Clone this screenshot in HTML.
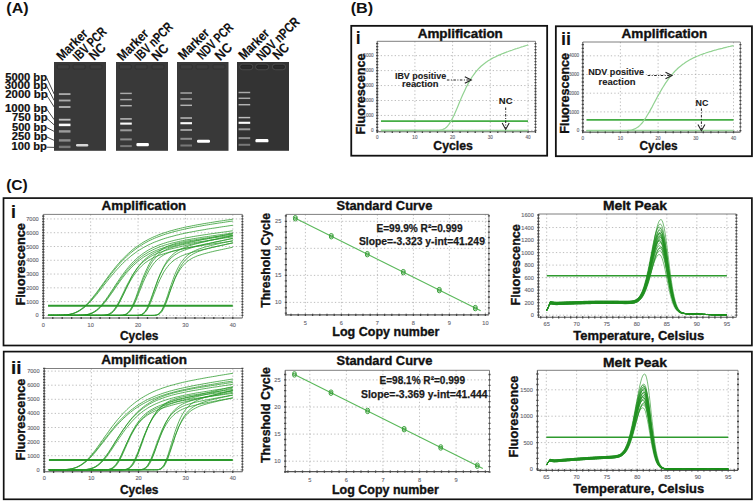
<!DOCTYPE html><html><head><meta charset="utf-8"><style>html,body{margin:0;padding:0;background:#fff;width:756px;height:502px;overflow:hidden}svg{display:block}text{font-family:"Liberation Sans",sans-serif}</style></head><body>
<svg width="756" height="502" viewBox="0 0 756 502">
<rect width="756" height="502" fill="#fff"/>
<defs><filter id="blur" x="-50%" y="-150%" width="200%" height="400%"><feGaussianBlur stdDeviation="0.6"/></filter><filter id="glow" x="-50%" y="-150%" width="200%" height="400%"><feGaussianBlur stdDeviation="1.6"/></filter></defs>
<text x="6.30" y="12.80" font-size="14.2" font-weight="bold" textLength="22.30" lengthAdjust="spacingAndGlyphs" fill="#111" >(A)</text>
<text x="350.70" y="12.80" font-size="14.2" font-weight="bold" textLength="22.53" lengthAdjust="spacingAndGlyphs" fill="#111" >(B)</text>
<text x="6.20" y="190.00" font-size="14.2" font-weight="bold" textLength="21.63" lengthAdjust="spacingAndGlyphs" fill="#111" >(C)</text>
<rect x="54.00" y="62.00" width="52.00" height="88.80" fill="#393939" stroke="none" stroke-width="0" />
<rect x="57.30" y="64.8" width="12" height="4.2" rx="1.0" fill="#3d3d3d" stroke="#2e2e2e" stroke-width="0.7"/>
<rect x="73.10" y="64.8" width="12" height="4.2" rx="1.0" fill="#3d3d3d" stroke="#2e2e2e" stroke-width="0.7"/>
<rect x="90.00" y="64.8" width="12" height="4.2" rx="1.0" fill="#3d3d3d" stroke="#2e2e2e" stroke-width="0.7"/>
<rect x="58.90" y="93.17" width="11.6" height="1.85" fill="rgb(170,170,170)" filter="url(#blur)"/>
<rect x="58.90" y="99.58" width="11.6" height="1.85" fill="rgb(170,170,170)" filter="url(#blur)"/>
<rect x="58.90" y="106.08" width="11.6" height="1.85" fill="rgb(178,178,178)" filter="url(#blur)"/>
<rect x="58.90" y="118.78" width="11.6" height="1.85" fill="rgb(190,190,190)" filter="url(#blur)"/>
<rect x="58.90" y="123.65" width="11.6" height="2.50" fill="rgb(250,250,250)" filter="url(#blur)"/>
<rect x="58.90" y="130.20" width="11.6" height="2.40" fill="rgb(155,155,155)" filter="url(#blur)"/>
<rect x="58.90" y="139.20" width="11.6" height="2.40" fill="rgb(140,140,140)" filter="url(#blur)"/>
<rect x="58.90" y="145.70" width="11.6" height="2.40" fill="rgb(120,120,120)" filter="url(#blur)"/>
<rect x="76.00" y="143.90" width="12.30" height="2.60" rx="1.2" fill="rgb(215,215,215)" filter="url(#blur)"/>
<rect x="116.00" y="62.00" width="52.00" height="88.80" fill="#393939" stroke="none" stroke-width="0" />
<rect x="119.30" y="64.8" width="12" height="4.2" rx="1.0" fill="#3d3d3d" stroke="#2e2e2e" stroke-width="0.7"/>
<rect x="135.10" y="64.8" width="12" height="4.2" rx="1.0" fill="#3d3d3d" stroke="#2e2e2e" stroke-width="0.7"/>
<rect x="152.00" y="64.8" width="12" height="4.2" rx="1.0" fill="#3d3d3d" stroke="#2e2e2e" stroke-width="0.7"/>
<rect x="120.20" y="92.68" width="11.6" height="1.45" fill="rgb(170,170,170)" filter="url(#blur)"/>
<rect x="120.20" y="98.88" width="11.6" height="1.45" fill="rgb(170,170,170)" filter="url(#blur)"/>
<rect x="120.20" y="104.98" width="11.6" height="1.45" fill="rgb(178,178,178)" filter="url(#blur)"/>
<rect x="120.20" y="118.18" width="11.6" height="1.45" fill="rgb(190,190,190)" filter="url(#blur)"/>
<rect x="120.20" y="122.55" width="11.6" height="2.10" fill="rgb(250,250,250)" filter="url(#blur)"/>
<rect x="120.20" y="129.30" width="11.6" height="2.00" fill="rgb(155,155,155)" filter="url(#blur)"/>
<rect x="120.20" y="138.40" width="11.6" height="2.00" fill="rgb(140,140,140)" filter="url(#blur)"/>
<rect x="120.20" y="145.10" width="11.6" height="2.00" fill="rgb(120,120,120)" filter="url(#blur)"/>
<rect x="136.40" y="143.00" width="12.50" height="3.20" rx="1.2" fill="rgb(255,255,255)" filter="url(#blur)"/>
<rect x="177.00" y="62.00" width="51.50" height="88.80" fill="#393939" stroke="none" stroke-width="0" />
<rect x="180.30" y="64.8" width="12" height="4.2" rx="1.0" fill="#3d3d3d" stroke="#2e2e2e" stroke-width="0.7"/>
<rect x="196.10" y="64.8" width="12" height="4.2" rx="1.0" fill="#3d3d3d" stroke="#2e2e2e" stroke-width="0.7"/>
<rect x="213.00" y="64.8" width="12" height="4.2" rx="1.0" fill="#3d3d3d" stroke="#2e2e2e" stroke-width="0.7"/>
<rect x="180.40" y="92.28" width="11.6" height="1.45" fill="rgb(170,170,170)" filter="url(#blur)"/>
<rect x="180.40" y="98.28" width="11.6" height="1.45" fill="rgb(170,170,170)" filter="url(#blur)"/>
<rect x="180.40" y="104.58" width="11.6" height="1.45" fill="rgb(178,178,178)" filter="url(#blur)"/>
<rect x="180.40" y="117.28" width="11.6" height="1.45" fill="rgb(190,190,190)" filter="url(#blur)"/>
<rect x="180.40" y="122.15" width="11.6" height="2.10" fill="rgb(250,250,250)" filter="url(#blur)"/>
<rect x="180.40" y="129.00" width="11.6" height="2.00" fill="rgb(155,155,155)" filter="url(#blur)"/>
<rect x="180.40" y="137.80" width="11.6" height="2.00" fill="rgb(140,140,140)" filter="url(#blur)"/>
<rect x="180.40" y="144.50" width="11.6" height="2.00" fill="rgb(120,120,120)" filter="url(#blur)"/>
<rect x="197.00" y="139.80" width="13.00" height="3.00" rx="1.2" fill="rgb(255,255,255)" filter="url(#blur)"/>
<rect x="237.00" y="62.00" width="52.00" height="88.80" fill="#333" stroke="none" stroke-width="0" />
<rect x="239.70" y="64.0" width="13.2" height="5.8" rx="2.9" fill="none" stroke="#474747" stroke-width="1.0"/>
<rect x="240.90" y="65.6" width="10.8" height="2.6" rx="1.3" fill="#2e2e2e" stroke="#222" stroke-width="0.8"/>
<rect x="255.50" y="64.0" width="13.2" height="5.8" rx="2.9" fill="none" stroke="#474747" stroke-width="1.0"/>
<rect x="256.70" y="65.6" width="10.8" height="2.6" rx="1.3" fill="#2e2e2e" stroke="#222" stroke-width="0.8"/>
<rect x="272.40" y="64.0" width="13.2" height="5.8" rx="2.9" fill="none" stroke="#474747" stroke-width="1.0"/>
<rect x="273.60" y="65.6" width="10.8" height="2.6" rx="1.3" fill="#2e2e2e" stroke="#222" stroke-width="0.8"/>
<rect x="238.60" y="91.78" width="11.6" height="1.45" fill="rgb(170,170,170)" filter="url(#blur)"/>
<rect x="238.60" y="97.58" width="11.6" height="1.45" fill="rgb(170,170,170)" filter="url(#blur)"/>
<rect x="238.60" y="103.98" width="11.6" height="1.45" fill="rgb(178,178,178)" filter="url(#blur)"/>
<rect x="238.60" y="116.88" width="11.6" height="1.45" fill="rgb(190,190,190)" filter="url(#blur)"/>
<rect x="238.60" y="121.75" width="11.6" height="2.10" fill="rgb(250,250,250)" filter="url(#blur)"/>
<rect x="238.60" y="128.30" width="11.6" height="2.00" fill="rgb(155,155,155)" filter="url(#blur)"/>
<rect x="238.60" y="137.10" width="11.6" height="2.00" fill="rgb(140,140,140)" filter="url(#blur)"/>
<rect x="238.60" y="143.80" width="11.6" height="2.00" fill="rgb(120,120,120)" filter="url(#blur)"/>
<rect x="255.50" y="139.05" width="12.90" height="3.30" rx="1.2" fill="rgb(255,255,255)" filter="url(#blur)"/>
<text x="5.20" y="80.90" font-size="11.0" font-weight="bold" textLength="41.80" lengthAdjust="spacingAndGlyphs" stroke="#111" stroke-width="0.2" stroke-linejoin="round" fill="#111" >5000 bp</text>
<line x1="46.60" y1="77.70" x2="54.20" y2="94.10" stroke="#333" stroke-width="0.9" />
<text x="4.70" y="89.30" font-size="11.0" font-weight="bold" textLength="42.60" lengthAdjust="spacingAndGlyphs" stroke="#111" stroke-width="0.2" stroke-linejoin="round" fill="#111" >3000 bp</text>
<line x1="46.60" y1="86.10" x2="54.20" y2="100.50" stroke="#333" stroke-width="0.9" />
<text x="5.20" y="98.30" font-size="11.0" font-weight="bold" textLength="42.60" lengthAdjust="spacingAndGlyphs" stroke="#111" stroke-width="0.2" stroke-linejoin="round" fill="#111" >2000 bp</text>
<line x1="46.60" y1="95.10" x2="54.20" y2="107.00" stroke="#333" stroke-width="0.9" />
<text x="5.00" y="112.10" font-size="11.0" font-weight="bold" textLength="42.40" lengthAdjust="spacingAndGlyphs" stroke="#111" stroke-width="0.2" stroke-linejoin="round" fill="#111" >1000 bp</text>
<line x1="46.60" y1="108.90" x2="54.20" y2="119.70" stroke="#333" stroke-width="0.9" />
<text x="12.00" y="121.40" font-size="11.0" font-weight="bold" textLength="35.60" lengthAdjust="spacingAndGlyphs" stroke="#111" stroke-width="0.2" stroke-linejoin="round" fill="#111" >750 bp</text>
<line x1="46.60" y1="118.20" x2="54.20" y2="124.90" stroke="#333" stroke-width="0.9" />
<text x="12.00" y="130.70" font-size="11.0" font-weight="bold" textLength="35.10" lengthAdjust="spacingAndGlyphs" stroke="#111" stroke-width="0.2" stroke-linejoin="round" fill="#111" >500 bp</text>
<line x1="46.60" y1="127.50" x2="54.20" y2="131.40" stroke="#333" stroke-width="0.9" />
<text x="11.80" y="140.00" font-size="11.0" font-weight="bold" textLength="35.60" lengthAdjust="spacingAndGlyphs" stroke="#111" stroke-width="0.2" stroke-linejoin="round" fill="#111" >250 bp</text>
<line x1="46.60" y1="136.80" x2="54.20" y2="140.40" stroke="#333" stroke-width="0.9" />
<text x="11.50" y="150.40" font-size="11.0" font-weight="bold" textLength="35.40" lengthAdjust="spacingAndGlyphs" stroke="#111" stroke-width="0.2" stroke-linejoin="round" fill="#111" >100 bp</text>
<line x1="46.60" y1="147.20" x2="54.20" y2="147.40" stroke="#333" stroke-width="0.9" />
<text x="61.95" y="61.30" font-size="13.5" font-weight="bold" textLength="37.77" lengthAdjust="spacingAndGlyphs" transform="rotate(-45 61.95 61.30)" stroke="#111" stroke-width="0.12" stroke-linejoin="round" fill="#111" >Marker</text>
<text x="78.35" y="61.65" font-size="13.5" font-weight="bold" textLength="41.00" lengthAdjust="spacingAndGlyphs" transform="rotate(-45 78.35 61.65)" stroke="#111" stroke-width="0.12" stroke-linejoin="round" fill="#111" >IBV PCR</text>
<text x="94.20" y="60.90" font-size="13.5" font-weight="bold" textLength="17.57" lengthAdjust="spacingAndGlyphs" transform="rotate(-45 94.20 60.90)" stroke="#111" stroke-width="0.12" stroke-linejoin="round" fill="#111" >NC</text>
<text x="122.55" y="61.50" font-size="13.5" font-weight="bold" textLength="38.08" lengthAdjust="spacingAndGlyphs" transform="rotate(-45 122.55 61.50)" stroke="#111" stroke-width="0.12" stroke-linejoin="round" fill="#111" >Marker</text>
<text x="139.95" y="61.50" font-size="13.5" font-weight="bold" textLength="47.62" lengthAdjust="spacingAndGlyphs" transform="rotate(-45 139.95 61.50)" stroke="#111" stroke-width="0.12" stroke-linejoin="round" fill="#111" >IBV nPCR</text>
<text x="156.90" y="61.85" font-size="13.5" font-weight="bold" textLength="17.79" lengthAdjust="spacingAndGlyphs" transform="rotate(-45 156.90 61.85)" stroke="#111" stroke-width="0.12" stroke-linejoin="round" fill="#111" >NC</text>
<text x="183.45" y="60.55" font-size="13.5" font-weight="bold" textLength="37.69" lengthAdjust="spacingAndGlyphs" transform="rotate(-45 183.45 60.55)" stroke="#111" stroke-width="0.12" stroke-linejoin="round" fill="#111" >Marker</text>
<text x="202.20" y="60.20" font-size="13.5" font-weight="bold" textLength="45.00" lengthAdjust="spacingAndGlyphs" transform="rotate(-45 202.20 60.20)" stroke="#111" stroke-width="0.12" stroke-linejoin="round" fill="#111" >NDV PCR</text>
<text x="220.35" y="61.15" font-size="13.5" font-weight="bold" textLength="18.14" lengthAdjust="spacingAndGlyphs" transform="rotate(-45 220.35 61.15)" stroke="#111" stroke-width="0.12" stroke-linejoin="round" fill="#111" >NC</text>
<text x="243.95" y="60.50" font-size="13.5" font-weight="bold" textLength="37.15" lengthAdjust="spacingAndGlyphs" transform="rotate(-45 243.95 60.50)" stroke="#111" stroke-width="0.12" stroke-linejoin="round" fill="#111" >Marker</text>
<text x="261.70" y="61.35" font-size="13.5" font-weight="bold" textLength="54.69" lengthAdjust="spacingAndGlyphs" transform="rotate(-45 261.70 61.35)" stroke="#111" stroke-width="0.12" stroke-linejoin="round" fill="#111" >NDV nPCR</text>
<text x="277.95" y="60.45" font-size="13.5" font-weight="bold" textLength="17.14" lengthAdjust="spacingAndGlyphs" transform="rotate(-45 277.95 60.45)" stroke="#111" stroke-width="0.12" stroke-linejoin="round" fill="#111" >NC</text>
<rect x="351.25" y="25.85" width="195.90" height="129.85" fill="none" stroke="#111" stroke-width="1.8" />
<text x="355.70" y="43.70" font-size="17.6" font-weight="bold" fill="#111" >i</text>
<text x="417.70" y="37.90" font-size="12.6" font-weight="bold" textLength="85.11" lengthAdjust="spacingAndGlyphs" stroke="#111" stroke-width="0.35" stroke-linejoin="round" fill="#111" >Amplification</text>
<line x1="414.90" y1="41.30" x2="414.90" y2="131.80" stroke="#a8a8a8" stroke-width="0.75" stroke-dasharray="1.3,2.2"/>
<line x1="452.60" y1="41.30" x2="452.60" y2="131.80" stroke="#a8a8a8" stroke-width="0.75" stroke-dasharray="1.3,2.2"/>
<line x1="490.30" y1="41.30" x2="490.30" y2="131.80" stroke="#a8a8a8" stroke-width="0.75" stroke-dasharray="1.3,2.2"/>
<line x1="528.00" y1="41.30" x2="528.00" y2="131.80" stroke="#a8a8a8" stroke-width="0.75" stroke-dasharray="1.3,2.2"/>
<line x1="377.20" y1="130.40" x2="535.50" y2="130.40" stroke="#a8a8a8" stroke-width="0.75" stroke-dasharray="1.3,2.2"/>
<line x1="377.20" y1="115.45" x2="535.50" y2="115.45" stroke="#a8a8a8" stroke-width="0.75" stroke-dasharray="1.3,2.2"/>
<line x1="377.20" y1="100.50" x2="535.50" y2="100.50" stroke="#a8a8a8" stroke-width="0.75" stroke-dasharray="1.3,2.2"/>
<line x1="377.20" y1="85.55" x2="535.50" y2="85.55" stroke="#a8a8a8" stroke-width="0.75" stroke-dasharray="1.3,2.2"/>
<line x1="377.20" y1="70.60" x2="535.50" y2="70.60" stroke="#a8a8a8" stroke-width="0.75" stroke-dasharray="1.3,2.2"/>
<line x1="377.20" y1="55.65" x2="535.50" y2="55.65" stroke="#a8a8a8" stroke-width="0.75" stroke-dasharray="1.3,2.2"/>
<line x1="377.20" y1="41.30" x2="535.50" y2="41.30" stroke="#707070" stroke-width="0.9" />
<line x1="535.50" y1="41.30" x2="535.50" y2="131.80" stroke="#707070" stroke-width="0.9" />
<line x1="377.20" y1="41.30" x2="377.20" y2="132.30" stroke="#555" stroke-width="1.1" />
<line x1="376.70" y1="131.80" x2="535.50" y2="131.80" stroke="#555" stroke-width="1.1" />
<path d="M376.1,130.4h2.2M534.5,130.4h2.0M376.1,127.4h2.2M534.5,127.4h2.0M376.1,124.4h2.2M534.5,124.4h2.0M376.1,121.4h2.2M534.5,121.4h2.0M376.1,118.4h2.2M534.5,118.4h2.0M376.1,115.5h2.2M534.5,115.5h2.0M376.1,112.5h2.2M534.5,112.5h2.0M376.1,109.5h2.2M534.5,109.5h2.0M376.1,106.5h2.2M534.5,106.5h2.0M376.1,103.5h2.2M534.5,103.5h2.0M376.1,100.5h2.2M534.5,100.5h2.0M376.1,97.5h2.2M534.5,97.5h2.0M376.1,94.5h2.2M534.5,94.5h2.0M376.1,91.5h2.2M534.5,91.5h2.0M376.1,88.5h2.2M534.5,88.5h2.0M376.1,85.6h2.2M534.5,85.6h2.0M376.1,82.6h2.2M534.5,82.6h2.0M376.1,79.6h2.2M534.5,79.6h2.0M376.1,76.6h2.2M534.5,76.6h2.0M376.1,73.6h2.2M534.5,73.6h2.0M376.1,70.6h2.2M534.5,70.6h2.0M376.1,67.6h2.2M534.5,67.6h2.0M376.1,64.6h2.2M534.5,64.6h2.0M376.1,61.6h2.2M534.5,61.6h2.0M376.1,58.6h2.2M534.5,58.6h2.0M376.1,55.7h2.2M534.5,55.7h2.0M376.1,52.7h2.2M534.5,52.7h2.0M376.1,49.7h2.2M534.5,49.7h2.0M376.1,46.7h2.2M534.5,46.7h2.0M376.1,43.7h2.2M534.5,43.7h2.0M377.2,130.7v2.2M384.7,130.7v2.2M392.3,130.7v2.2M399.8,130.7v2.2M407.4,130.7v2.2M414.9,130.7v2.2M422.4,130.7v2.2M430.0,130.7v2.2M437.5,130.7v2.2M445.1,130.7v2.2M452.6,130.7v2.2M460.1,130.7v2.2M467.7,130.7v2.2M475.2,130.7v2.2M482.8,130.7v2.2M490.3,130.7v2.2M497.8,130.7v2.2M505.4,130.7v2.2M512.9,130.7v2.2M520.5,130.7v2.2M528.0,130.7v2.2M535.5,130.7v2.2" stroke="#444" stroke-width="1.3" fill="none"/>
<text x="373.60" y="132.06" font-size="4.6" text-anchor="end" stroke="#666670" stroke-width="0.12" stroke-linejoin="round" fill="#666670" >0</text>
<text x="373.60" y="117.11" font-size="4.6" text-anchor="end" stroke="#666670" stroke-width="0.12" stroke-linejoin="round" fill="#666670" >1000</text>
<text x="373.60" y="102.16" font-size="4.6" text-anchor="end" stroke="#666670" stroke-width="0.12" stroke-linejoin="round" fill="#666670" >2000</text>
<text x="373.60" y="87.21" font-size="4.6" text-anchor="end" stroke="#666670" stroke-width="0.12" stroke-linejoin="round" fill="#666670" >3000</text>
<text x="373.60" y="72.26" font-size="4.6" text-anchor="end" stroke="#666670" stroke-width="0.12" stroke-linejoin="round" fill="#666670" >4000</text>
<text x="373.60" y="57.31" font-size="4.6" text-anchor="end" stroke="#666670" stroke-width="0.12" stroke-linejoin="round" fill="#666670" >5000</text>
<text x="377.20" y="139.40" font-size="4.6" text-anchor="middle" stroke="#666670" stroke-width="0.12" stroke-linejoin="round" fill="#666670" >0</text>
<text x="414.90" y="139.40" font-size="4.6" text-anchor="middle" stroke="#666670" stroke-width="0.12" stroke-linejoin="round" fill="#666670" >10</text>
<text x="452.60" y="139.40" font-size="4.6" text-anchor="middle" stroke="#666670" stroke-width="0.12" stroke-linejoin="round" fill="#666670" >20</text>
<text x="490.30" y="139.40" font-size="4.6" text-anchor="middle" stroke="#666670" stroke-width="0.12" stroke-linejoin="round" fill="#666670" >30</text>
<text x="528.00" y="139.40" font-size="4.6" text-anchor="middle" stroke="#666670" stroke-width="0.12" stroke-linejoin="round" fill="#666670" >40</text>
<line x1="380.97" y1="130.40" x2="528.00" y2="130.40" stroke="#9ad59a" stroke-width="1.5" />
<line x1="380.97" y1="121.10" x2="528.00" y2="121.10" stroke="#45ad45" stroke-width="1.9" />
<path d="M381.0,130.4 382.2,130.4 383.4,130.4 384.7,130.4 385.9,130.4 387.1,130.4 388.4,130.4 389.6,130.4 390.9,130.4 392.1,130.4 393.3,130.4 394.6,130.4 395.8,130.4 397.0,130.4 398.3,130.4 399.5,130.4 400.7,130.4 402.0,130.4 403.2,130.4 404.4,130.4 405.7,130.4 406.9,130.4 408.2,130.4 409.4,130.4 410.6,130.4 411.9,130.4 413.1,130.4 414.3,130.4 415.6,130.4 416.8,130.4 418.0,130.4 419.3,130.4 420.5,130.4 421.7,130.4 423.0,130.4 424.2,130.4 425.4,130.4 426.7,130.4 427.9,130.4 429.2,130.4 430.4,130.4 431.6,130.4 432.9,130.4 434.1,130.4 435.3,130.4 436.6,130.4 437.8,130.3 439.0,130.3 440.3,130.1 441.5,129.9 442.7,129.5 444.0,128.9 445.2,128.2 446.5,127.2 447.7,125.9 448.9,124.3 450.2,122.4 451.4,120.3 452.6,118.0 453.9,115.4 455.1,112.7 456.3,109.9 457.6,106.9 458.8,104.0 460.0,101.0 461.3,98.1 462.5,95.3 463.8,92.5 465.0,89.9 466.2,87.3 467.5,84.9 468.7,82.6 469.9,80.5 471.2,78.4 472.4,76.5 473.6,74.8 474.9,73.1 476.1,71.5 477.3,70.1 478.6,68.7 479.8,67.5 481.0,66.3 482.3,65.2 483.5,64.2 484.8,63.2 486.0,62.3 487.2,61.4 488.5,60.6 489.7,59.9 490.9,59.1 492.2,58.4 493.4,57.8 494.6,57.2 495.9,56.6 497.1,56.0 498.3,55.4 499.6,54.9 500.8,54.4 502.1,53.8 503.3,53.4 504.5,52.9 505.8,52.4 507.0,51.9 508.2,51.5 509.5,51.0 510.7,50.6 511.9,50.2 513.2,49.7 514.4,49.3 515.6,48.9 516.9,48.5 518.1,48.1 519.4,47.7 520.6,47.3 521.8,46.9 523.1,46.5 524.3,46.1 525.5,45.7 526.8,45.3 528.0,44.9" fill="none" stroke="#92d292" stroke-width="1.2" />
<text x="394.90" y="78.70" font-size="9.4" font-weight="bold" textLength="51.30" lengthAdjust="spacingAndGlyphs" stroke="#1a1a1a" stroke-width="0.1" stroke-linejoin="round" fill="#1a1a1a" >IBV positive</text>
<text x="402.00" y="87.40" font-size="9.4" font-weight="bold" textLength="36.60" lengthAdjust="spacingAndGlyphs" stroke="#1a1a1a" stroke-width="0.1" stroke-linejoin="round" fill="#1a1a1a" >reaction</text>
<line x1="446.90" y1="80.00" x2="469.80" y2="80.00" stroke="#222" stroke-width="1.0" stroke-dasharray="2.5,1.5,1,1.5"/>
<path d="M464.8,76.8 471.3,80.0 464.8,83.2" fill="none" stroke="#222" stroke-width="1.1" />
<text x="498.80" y="103.90" font-size="9.4" font-weight="bold" textLength="13.76" lengthAdjust="spacingAndGlyphs" stroke="#1a1a1a" stroke-width="0.1" stroke-linejoin="round" fill="#1a1a1a" >NC</text>
<line x1="505.70" y1="107.50" x2="505.70" y2="127.90" stroke="#222" stroke-width="1.0" stroke-dasharray="2.5,1.5,1,1.5"/>
<path d="M502.2,123.1 505.7,129.4 509.2,123.1" fill="none" stroke="#222" stroke-width="1.1" />
<text x="433.30" y="149.50" font-size="12.8" font-weight="bold" textLength="39.57" lengthAdjust="spacingAndGlyphs" stroke="#111" stroke-width="0.35" stroke-linejoin="round" fill="#111" >Cycles</text>
<text x="364.60" y="134.60" font-size="12.8" font-weight="bold" textLength="81.13" lengthAdjust="spacingAndGlyphs" transform="rotate(-90 364.60 134.60)" stroke="#111" stroke-width="0.35" stroke-linejoin="round" fill="#111" >Fluorescence</text>
<rect x="555.85" y="26.25" width="196.10" height="129.95" fill="none" stroke="#111" stroke-width="1.8" />
<text x="560.90" y="44.70" font-size="17.6" font-weight="bold" textLength="10.07" lengthAdjust="spacingAndGlyphs" fill="#111" >ii</text>
<text x="621.60" y="37.90" font-size="12.6" font-weight="bold" textLength="85.67" lengthAdjust="spacingAndGlyphs" stroke="#111" stroke-width="0.35" stroke-linejoin="round" fill="#111" >Amplification</text>
<line x1="620.40" y1="42.00" x2="620.40" y2="132.10" stroke="#a8a8a8" stroke-width="0.75" stroke-dasharray="1.3,2.2"/>
<line x1="658.10" y1="42.00" x2="658.10" y2="132.10" stroke="#a8a8a8" stroke-width="0.75" stroke-dasharray="1.3,2.2"/>
<line x1="695.80" y1="42.00" x2="695.80" y2="132.10" stroke="#a8a8a8" stroke-width="0.75" stroke-dasharray="1.3,2.2"/>
<line x1="733.50" y1="42.00" x2="733.50" y2="132.10" stroke="#a8a8a8" stroke-width="0.75" stroke-dasharray="1.3,2.2"/>
<line x1="582.80" y1="130.60" x2="740.40" y2="130.60" stroke="#a8a8a8" stroke-width="0.75" stroke-dasharray="1.3,2.2"/>
<line x1="582.80" y1="111.90" x2="740.40" y2="111.90" stroke="#a8a8a8" stroke-width="0.75" stroke-dasharray="1.3,2.2"/>
<line x1="582.80" y1="93.20" x2="740.40" y2="93.20" stroke="#a8a8a8" stroke-width="0.75" stroke-dasharray="1.3,2.2"/>
<line x1="582.80" y1="74.50" x2="740.40" y2="74.50" stroke="#a8a8a8" stroke-width="0.75" stroke-dasharray="1.3,2.2"/>
<line x1="582.80" y1="55.80" x2="740.40" y2="55.80" stroke="#a8a8a8" stroke-width="0.75" stroke-dasharray="1.3,2.2"/>
<line x1="582.80" y1="42.00" x2="740.40" y2="42.00" stroke="#707070" stroke-width="0.9" />
<line x1="740.40" y1="42.00" x2="740.40" y2="132.10" stroke="#707070" stroke-width="0.9" />
<line x1="582.80" y1="42.00" x2="582.80" y2="132.60" stroke="#555" stroke-width="1.1" />
<line x1="582.30" y1="132.10" x2="740.40" y2="132.10" stroke="#555" stroke-width="1.1" />
<path d="M581.7,130.6h2.2M739.4,130.6h2.0M581.7,126.9h2.2M739.4,126.9h2.0M581.7,123.1h2.2M739.4,123.1h2.0M581.7,119.4h2.2M739.4,119.4h2.0M581.7,115.6h2.2M739.4,115.6h2.0M581.7,111.9h2.2M739.4,111.9h2.0M581.7,108.2h2.2M739.4,108.2h2.0M581.7,104.4h2.2M739.4,104.4h2.0M581.7,100.7h2.2M739.4,100.7h2.0M581.7,96.9h2.2M739.4,96.9h2.0M581.7,93.2h2.2M739.4,93.2h2.0M581.7,89.5h2.2M739.4,89.5h2.0M581.7,85.7h2.2M739.4,85.7h2.0M581.7,82.0h2.2M739.4,82.0h2.0M581.7,78.2h2.2M739.4,78.2h2.0M581.7,74.5h2.2M739.4,74.5h2.0M581.7,70.8h2.2M739.4,70.8h2.0M581.7,67.0h2.2M739.4,67.0h2.0M581.7,63.3h2.2M739.4,63.3h2.0M581.7,59.5h2.2M739.4,59.5h2.0M581.7,55.8h2.2M739.4,55.8h2.0M581.7,52.1h2.2M739.4,52.1h2.0M581.7,48.3h2.2M739.4,48.3h2.0M581.7,44.6h2.2M739.4,44.6h2.0M582.7,131.0v2.2M590.2,131.0v2.2M597.8,131.0v2.2M605.3,131.0v2.2M612.9,131.0v2.2M620.4,131.0v2.2M627.9,131.0v2.2M635.5,131.0v2.2M643.0,131.0v2.2M650.6,131.0v2.2M658.1,131.0v2.2M665.6,131.0v2.2M673.2,131.0v2.2M680.7,131.0v2.2M688.3,131.0v2.2M695.8,131.0v2.2M703.3,131.0v2.2M710.9,131.0v2.2M718.4,131.0v2.2M726.0,131.0v2.2M733.5,131.0v2.2" stroke="#444" stroke-width="1.3" fill="none"/>
<text x="579.20" y="132.26" font-size="4.6" text-anchor="end" stroke="#666670" stroke-width="0.12" stroke-linejoin="round" fill="#666670" >0</text>
<text x="579.20" y="113.56" font-size="4.6" text-anchor="end" stroke="#666670" stroke-width="0.12" stroke-linejoin="round" fill="#666670" >1000</text>
<text x="579.20" y="94.86" font-size="4.6" text-anchor="end" stroke="#666670" stroke-width="0.12" stroke-linejoin="round" fill="#666670" >2000</text>
<text x="579.20" y="76.16" font-size="4.6" text-anchor="end" stroke="#666670" stroke-width="0.12" stroke-linejoin="round" fill="#666670" >3000</text>
<text x="579.20" y="57.46" font-size="4.6" text-anchor="end" stroke="#666670" stroke-width="0.12" stroke-linejoin="round" fill="#666670" >4000</text>
<text x="582.70" y="139.70" font-size="4.6" text-anchor="middle" stroke="#666670" stroke-width="0.12" stroke-linejoin="round" fill="#666670" >0</text>
<text x="620.40" y="139.70" font-size="4.6" text-anchor="middle" stroke="#666670" stroke-width="0.12" stroke-linejoin="round" fill="#666670" >10</text>
<text x="658.10" y="139.70" font-size="4.6" text-anchor="middle" stroke="#666670" stroke-width="0.12" stroke-linejoin="round" fill="#666670" >20</text>
<text x="695.80" y="139.70" font-size="4.6" text-anchor="middle" stroke="#666670" stroke-width="0.12" stroke-linejoin="round" fill="#666670" >30</text>
<text x="733.50" y="139.70" font-size="4.6" text-anchor="middle" stroke="#666670" stroke-width="0.12" stroke-linejoin="round" fill="#666670" >40</text>
<line x1="586.47" y1="130.60" x2="733.50" y2="130.60" stroke="#9ad59a" stroke-width="1.5" />
<line x1="586.47" y1="119.90" x2="733.50" y2="119.90" stroke="#45ad45" stroke-width="1.9" />
<path d="M586.5,130.6 587.7,130.6 588.9,130.6 590.2,130.6 591.4,130.6 592.6,130.6 593.9,130.6 595.1,130.6 596.4,130.6 597.6,130.6 598.8,130.6 600.1,130.6 601.3,130.6 602.5,130.6 603.8,130.6 605.0,130.6 606.2,130.6 607.5,130.6 608.7,130.6 609.9,130.6 611.2,130.6 612.4,130.6 613.7,130.6 614.9,130.6 616.1,130.6 617.4,130.6 618.6,130.6 619.8,130.6 621.1,130.6 622.3,130.6 623.5,130.6 624.8,130.6 626.0,130.5 627.2,130.5 628.5,130.4 629.7,130.3 630.9,130.1 632.2,129.8 633.4,129.4 634.7,128.9 635.9,128.3 637.1,127.6 638.4,126.7 639.6,125.6 640.8,124.4 642.1,123.0 643.3,121.4 644.5,119.7 645.8,117.8 647.0,115.8 648.2,113.8 649.5,111.6 650.7,109.4 652.0,107.1 653.2,104.8 654.4,102.5 655.7,100.1 656.9,97.8 658.1,95.6 659.4,93.4 660.6,91.2 661.8,89.1 663.1,87.0 664.3,85.1 665.5,83.2 666.8,81.3 668.0,79.6 669.3,77.9 670.5,76.4 671.7,74.8 673.0,73.4 674.2,72.0 675.4,70.7 676.7,69.5 677.9,68.3 679.1,67.2 680.4,66.2 681.6,65.2 682.8,64.3 684.1,63.4 685.3,62.5 686.5,61.7 687.8,60.9 689.0,60.2 690.3,59.5 691.5,58.9 692.7,58.2 694.0,57.6 695.2,57.1 696.4,56.5 697.7,56.0 698.9,55.5 700.1,55.0 701.4,54.5 702.6,54.1 703.8,53.6 705.1,53.2 706.3,52.8 707.6,52.4 708.8,52.0 710.0,51.6 711.3,51.3 712.5,50.9 713.7,50.5 715.0,50.2 716.2,49.9 717.4,49.5 718.7,49.2 719.9,48.9 721.1,48.6 722.4,48.3 723.6,47.9 724.9,47.6 726.1,47.3 727.3,47.0 728.6,46.7 729.8,46.5 731.0,46.2 732.3,45.9 733.5,45.6" fill="none" stroke="#92d292" stroke-width="1.2" />
<text x="588.30" y="75.30" font-size="9.4" font-weight="bold" textLength="55.69" lengthAdjust="spacingAndGlyphs" stroke="#1a1a1a" stroke-width="0.1" stroke-linejoin="round" fill="#1a1a1a" >NDV positive</text>
<text x="598.60" y="84.80" font-size="9.4" font-weight="bold" textLength="36.90" lengthAdjust="spacingAndGlyphs" stroke="#1a1a1a" stroke-width="0.1" stroke-linejoin="round" fill="#1a1a1a" >reaction</text>
<line x1="647.70" y1="75.50" x2="670.50" y2="75.50" stroke="#222" stroke-width="1.0" stroke-dasharray="2.5,1.5,1,1.5"/>
<path d="M665.5,72.3 672.0,75.5 665.5,78.7" fill="none" stroke="#222" stroke-width="1.1" />
<text x="695.50" y="105.70" font-size="9.4" font-weight="bold" textLength="12.76" lengthAdjust="spacingAndGlyphs" stroke="#1a1a1a" stroke-width="0.1" stroke-linejoin="round" fill="#1a1a1a" >NC</text>
<line x1="701.40" y1="108.40" x2="701.40" y2="129.20" stroke="#222" stroke-width="1.0" stroke-dasharray="2.5,1.5,1,1.5"/>
<path d="M697.9,124.4 701.4,130.7 704.9,124.4" fill="none" stroke="#222" stroke-width="1.1" />
<text x="639.50" y="149.50" font-size="12.8" font-weight="bold" textLength="38.21" lengthAdjust="spacingAndGlyphs" stroke="#111" stroke-width="0.35" stroke-linejoin="round" fill="#111" >Cycles</text>
<text x="568.60" y="133.70" font-size="12.8" font-weight="bold" textLength="80.67" lengthAdjust="spacingAndGlyphs" transform="rotate(-90 568.60 133.70)" stroke="#111" stroke-width="0.35" stroke-linejoin="round" fill="#111" >Fluorescence</text>
<rect x="3.50" y="198.10" width="748.40" height="147.40" fill="none" stroke="#111" stroke-width="1.7" />
<text x="11.00" y="217.70" font-size="17.6" font-weight="bold" stroke="#111" stroke-width="0.2" stroke-linejoin="round" fill="#111" >i</text>
<text x="101.60" y="209.90" font-size="12.6" font-weight="bold" textLength="84.67" lengthAdjust="spacingAndGlyphs" stroke="#111" stroke-width="0.35" stroke-linejoin="round" fill="#111" >Amplification</text>
<text x="336.60" y="209.90" font-size="12.6" font-weight="bold" textLength="95.71" lengthAdjust="spacingAndGlyphs" stroke="#111" stroke-width="0.35" stroke-linejoin="round" fill="#111" >Standard Curve</text>
<text x="603.00" y="209.90" font-size="12.6" font-weight="bold" textLength="64.00" lengthAdjust="spacingAndGlyphs" stroke="#111" stroke-width="0.35" stroke-linejoin="round" fill="#111" >Melt Peak</text>
<text x="119.90" y="339.90" font-size="12.8" font-weight="bold" textLength="38.54" lengthAdjust="spacingAndGlyphs" stroke="#111" stroke-width="0.35" stroke-linejoin="round" fill="#111" >Cycles</text>
<text x="332.30" y="336.10" font-size="12.8" font-weight="bold" textLength="107.10" lengthAdjust="spacingAndGlyphs" stroke="#111" stroke-width="0.35" stroke-linejoin="round" fill="#111" >Log Copy number</text>
<text x="573.30" y="339.80" font-size="12.8" font-weight="bold" textLength="130.80" lengthAdjust="spacingAndGlyphs" stroke="#111" stroke-width="0.35" stroke-linejoin="round" fill="#111" >Temperature, Celsius</text>
<text x="24.90" y="305.50" font-size="12.8" font-weight="bold" textLength="82.49" lengthAdjust="spacingAndGlyphs" transform="rotate(-90 24.90 305.50)" stroke="#111" stroke-width="0.35" stroke-linejoin="round" fill="#111" >Fluorescence</text>
<text x="269.60" y="307.80" font-size="12.8" font-weight="bold" textLength="94.80" lengthAdjust="spacingAndGlyphs" transform="rotate(-90 269.60 307.80)" stroke="#111" stroke-width="0.35" stroke-linejoin="round" fill="#111" >Threshold Cycle</text>
<text x="519.50" y="305.50" font-size="12.8" font-weight="bold" textLength="81.40" lengthAdjust="spacingAndGlyphs" transform="rotate(-90 519.50 305.50)" stroke="#111" stroke-width="0.35" stroke-linejoin="round" fill="#111" >Fluorescence</text>
<line x1="90.67" y1="214.40" x2="90.67" y2="318.00" stroke="#a8a8a8" stroke-width="0.75" stroke-dasharray="1.3,2.2"/>
<line x1="138.05" y1="214.40" x2="138.05" y2="318.00" stroke="#a8a8a8" stroke-width="0.75" stroke-dasharray="1.3,2.2"/>
<line x1="185.43" y1="214.40" x2="185.43" y2="318.00" stroke="#a8a8a8" stroke-width="0.75" stroke-dasharray="1.3,2.2"/>
<line x1="232.80" y1="214.40" x2="232.80" y2="318.00" stroke="#a8a8a8" stroke-width="0.75" stroke-dasharray="1.3,2.2"/>
<line x1="43.30" y1="315.40" x2="242.40" y2="315.40" stroke="#a8a8a8" stroke-width="0.75" stroke-dasharray="1.3,2.2"/>
<line x1="43.30" y1="301.62" x2="242.40" y2="301.62" stroke="#a8a8a8" stroke-width="0.75" stroke-dasharray="1.3,2.2"/>
<line x1="43.30" y1="287.84" x2="242.40" y2="287.84" stroke="#a8a8a8" stroke-width="0.75" stroke-dasharray="1.3,2.2"/>
<line x1="43.30" y1="274.06" x2="242.40" y2="274.06" stroke="#a8a8a8" stroke-width="0.75" stroke-dasharray="1.3,2.2"/>
<line x1="43.30" y1="260.28" x2="242.40" y2="260.28" stroke="#a8a8a8" stroke-width="0.75" stroke-dasharray="1.3,2.2"/>
<line x1="43.30" y1="246.50" x2="242.40" y2="246.50" stroke="#a8a8a8" stroke-width="0.75" stroke-dasharray="1.3,2.2"/>
<line x1="43.30" y1="232.72" x2="242.40" y2="232.72" stroke="#a8a8a8" stroke-width="0.75" stroke-dasharray="1.3,2.2"/>
<line x1="43.30" y1="218.94" x2="242.40" y2="218.94" stroke="#a8a8a8" stroke-width="0.75" stroke-dasharray="1.3,2.2"/>
<line x1="43.30" y1="214.40" x2="242.40" y2="214.40" stroke="#707070" stroke-width="0.9" />
<line x1="242.40" y1="214.40" x2="242.40" y2="318.00" stroke="#707070" stroke-width="0.9" />
<line x1="43.30" y1="214.40" x2="43.30" y2="318.50" stroke="#555" stroke-width="1.1" />
<line x1="42.80" y1="318.00" x2="242.40" y2="318.00" stroke="#555" stroke-width="1.1" />
<path d="M42.2,315.4h2.2M241.4,315.4h2.0M42.2,312.6h2.2M241.4,312.6h2.0M42.2,309.9h2.2M241.4,309.9h2.0M42.2,307.1h2.2M241.4,307.1h2.0M42.2,304.4h2.2M241.4,304.4h2.0M42.2,301.6h2.2M241.4,301.6h2.0M42.2,298.9h2.2M241.4,298.9h2.0M42.2,296.1h2.2M241.4,296.1h2.0M42.2,293.4h2.2M241.4,293.4h2.0M42.2,290.6h2.2M241.4,290.6h2.0M42.2,287.8h2.2M241.4,287.8h2.0M42.2,285.1h2.2M241.4,285.1h2.0M42.2,282.3h2.2M241.4,282.3h2.0M42.2,279.6h2.2M241.4,279.6h2.0M42.2,276.8h2.2M241.4,276.8h2.0M42.2,274.1h2.2M241.4,274.1h2.0M42.2,271.3h2.2M241.4,271.3h2.0M42.2,268.5h2.2M241.4,268.5h2.0M42.2,265.8h2.2M241.4,265.8h2.0M42.2,263.0h2.2M241.4,263.0h2.0M42.2,260.3h2.2M241.4,260.3h2.0M42.2,257.5h2.2M241.4,257.5h2.0M42.2,254.8h2.2M241.4,254.8h2.0M42.2,252.0h2.2M241.4,252.0h2.0M42.2,249.3h2.2M241.4,249.3h2.0M42.2,246.5h2.2M241.4,246.5h2.0M42.2,243.7h2.2M241.4,243.7h2.0M42.2,241.0h2.2M241.4,241.0h2.0M42.2,238.2h2.2M241.4,238.2h2.0M42.2,235.5h2.2M241.4,235.5h2.0M42.2,232.7h2.2M241.4,232.7h2.0M42.2,230.0h2.2M241.4,230.0h2.0M42.2,227.2h2.2M241.4,227.2h2.0M42.2,224.5h2.2M241.4,224.5h2.0M42.2,221.7h2.2M241.4,221.7h2.0M42.2,218.9h2.2M241.4,218.9h2.0M42.2,216.2h2.2M241.4,216.2h2.0M43.3,316.9v2.2M52.8,316.9v2.2M62.2,316.9v2.2M71.7,316.9v2.2M81.2,316.9v2.2M90.7,316.9v2.2M100.1,316.9v2.2M109.6,316.9v2.2M119.1,316.9v2.2M128.6,316.9v2.2M138.1,316.9v2.2M147.5,316.9v2.2M157.0,316.9v2.2M166.5,316.9v2.2M175.9,316.9v2.2M185.4,316.9v2.2M194.9,316.9v2.2M204.4,316.9v2.2M213.8,316.9v2.2M223.3,316.9v2.2M232.8,316.9v2.2" stroke="#444" stroke-width="1.3" fill="none"/>
<text x="38.70" y="317.42" font-size="5.6" text-anchor="end" stroke="#666670" stroke-width="0.12" stroke-linejoin="round" fill="#666670" >0</text>
<text x="38.70" y="303.64" font-size="5.6" text-anchor="end" stroke="#666670" stroke-width="0.12" stroke-linejoin="round" fill="#666670" >1000</text>
<text x="38.70" y="289.86" font-size="5.6" text-anchor="end" stroke="#666670" stroke-width="0.12" stroke-linejoin="round" fill="#666670" >2000</text>
<text x="38.70" y="276.08" font-size="5.6" text-anchor="end" stroke="#666670" stroke-width="0.12" stroke-linejoin="round" fill="#666670" >3000</text>
<text x="38.70" y="262.30" font-size="5.6" text-anchor="end" stroke="#666670" stroke-width="0.12" stroke-linejoin="round" fill="#666670" >4000</text>
<text x="38.70" y="248.52" font-size="5.6" text-anchor="end" stroke="#666670" stroke-width="0.12" stroke-linejoin="round" fill="#666670" >5000</text>
<text x="38.70" y="234.74" font-size="5.6" text-anchor="end" stroke="#666670" stroke-width="0.12" stroke-linejoin="round" fill="#666670" >6000</text>
<text x="38.70" y="220.96" font-size="5.6" text-anchor="end" stroke="#666670" stroke-width="0.12" stroke-linejoin="round" fill="#666670" >7000</text>
<text x="43.30" y="326.60" font-size="5.6" text-anchor="middle" stroke="#666670" stroke-width="0.12" stroke-linejoin="round" fill="#666670" >0</text>
<text x="90.67" y="326.60" font-size="5.6" text-anchor="middle" stroke="#666670" stroke-width="0.12" stroke-linejoin="round" fill="#666670" >10</text>
<text x="138.05" y="326.60" font-size="5.6" text-anchor="middle" stroke="#666670" stroke-width="0.12" stroke-linejoin="round" fill="#666670" >20</text>
<text x="185.43" y="326.60" font-size="5.6" text-anchor="middle" stroke="#666670" stroke-width="0.12" stroke-linejoin="round" fill="#666670" >30</text>
<text x="232.80" y="326.60" font-size="5.6" text-anchor="middle" stroke="#666670" stroke-width="0.12" stroke-linejoin="round" fill="#666670" >40</text>
<line x1="48.04" y1="305.75" x2="232.80" y2="305.75" stroke="#2e9a2e" stroke-width="1.9" />
<path d="M48.0,315.4 49.9,315.4 51.8,315.4 53.6,315.4 55.5,315.4 57.4,315.4 59.2,315.3 61.1,315.3 63.0,315.2 64.8,315.0 66.7,314.8 68.6,314.5 70.4,314.1 72.3,313.6 74.2,313.0 76.0,312.2 77.9,311.2 79.8,310.0 81.6,308.7 83.5,307.2 85.4,305.5 87.2,303.7 89.1,301.7 91.0,299.5 92.8,297.3 94.7,294.9 96.6,292.5 98.4,290.0 100.3,287.4 102.2,284.8 104.0,282.3 105.9,279.7 107.8,277.1 109.6,274.6 111.5,272.2 113.4,269.8 115.2,267.5 117.1,265.2 119.0,263.1 120.8,261.0 122.7,259.0 124.6,257.1 126.4,255.2 128.3,253.5 130.2,251.8 132.0,250.2 133.9,248.7 135.8,247.3 137.6,246.0 139.5,244.7 141.4,243.5 143.2,242.3 145.1,241.2 147.0,240.2 148.8,239.2 150.7,238.3 152.5,237.4 154.4,236.6 156.3,235.8 158.1,235.0 160.0,234.3 161.9,233.6 163.7,233.0 165.6,232.4 167.5,231.8 169.3,231.2 171.2,230.7 173.1,230.2 174.9,229.7 176.8,229.2 178.7,228.7 180.5,228.3 182.4,227.8 184.3,227.4 186.1,227.0 188.0,226.6 189.9,226.3 191.7,225.9 193.6,225.5 195.5,225.2 197.3,224.8 199.2,224.5 201.1,224.2 202.9,223.8 204.8,223.5 206.7,223.2 208.5,222.9 210.4,222.6 212.3,222.3 214.1,222.0 216.0,221.7 217.9,221.4 219.7,221.1 221.6,220.9 223.5,220.6 225.3,220.3 227.2,220.0 229.1,219.8 230.9,219.5 232.8,219.2" fill="none" stroke="#279827" stroke-width="0.9" stroke-opacity="0.85"/>
<path d="M48.0,315.4 49.9,315.4 51.8,315.4 53.6,315.4 55.5,315.4 57.4,315.4 59.2,315.3 61.1,315.3 63.0,315.2 64.8,315.1 66.7,314.9 68.6,314.6 70.4,314.2 72.3,313.8 74.2,313.1 76.0,312.4 77.9,311.5 79.8,310.4 81.6,309.1 83.5,307.7 85.4,306.1 87.2,304.3 89.1,302.4 91.0,300.3 92.8,298.1 94.7,295.8 96.6,293.4 98.4,291.0 100.3,288.5 102.2,286.0 104.0,283.4 105.9,280.9 107.8,278.4 109.6,276.0 111.5,273.6 113.4,271.2 115.2,268.9 117.1,266.7 119.0,264.6 120.8,262.5 122.7,260.5 124.6,258.6 126.4,256.8 128.3,255.1 130.2,253.4 132.0,251.9 133.9,250.4 135.8,249.0 137.6,247.6 139.5,246.4 141.4,245.2 143.2,244.0 145.1,242.9 147.0,241.9 148.8,240.9 150.7,240.0 152.5,239.2 154.4,238.3 156.3,237.5 158.1,236.8 160.0,236.1 161.9,235.4 163.7,234.8 165.6,234.1 167.5,233.6 169.3,233.0 171.2,232.5 173.1,231.9 174.9,231.4 176.8,231.0 178.7,230.5 180.5,230.1 182.4,229.6 184.3,229.2 186.1,228.8 188.0,228.4 189.9,228.0 191.7,227.7 193.6,227.3 195.5,227.0 197.3,226.6 199.2,226.3 201.1,226.0 202.9,225.6 204.8,225.3 206.7,225.0 208.5,224.7 210.4,224.4 212.3,224.1 214.1,223.8 216.0,223.5 217.9,223.2 219.7,222.9 221.6,222.7 223.5,222.4 225.3,222.1 227.2,221.8 229.1,221.5 230.9,221.3 232.8,221.0" fill="none" stroke="#279827" stroke-width="0.9" stroke-opacity="0.85"/>
<path d="M48.0,315.4 49.9,315.4 51.8,315.4 53.6,315.4 55.5,315.4 57.4,315.4 59.2,315.3 61.1,315.3 63.0,315.2 64.8,315.1 66.7,314.9 68.6,314.6 70.4,314.3 72.3,313.8 74.2,313.3 76.0,312.5 77.9,311.7 79.8,310.6 81.6,309.4 83.5,308.1 85.4,306.6 87.2,304.9 89.1,303.0 91.0,301.1 92.8,299.0 94.7,296.8 96.6,294.6 98.4,292.3 100.3,289.9 102.2,287.5 104.0,285.1 105.9,282.8 107.8,280.4 109.6,278.1 111.5,275.8 113.4,273.6 115.2,271.4 117.1,269.3 119.0,267.3 120.8,265.3 122.7,263.4 124.6,261.6 126.4,259.9 128.3,258.3 130.2,256.7 132.0,255.2 133.9,253.8 135.8,252.4 137.6,251.1 139.5,249.9 141.4,248.8 143.2,247.7 145.1,246.7 147.0,245.7 148.8,244.7 150.7,243.9 152.5,243.0 154.4,242.2 156.3,241.5 158.1,240.8 160.0,240.1 161.9,239.4 163.7,238.8 165.6,238.2 167.5,237.6 169.3,237.1 171.2,236.6 173.1,236.1 174.9,235.6 176.8,235.1 178.7,234.7 180.5,234.2 182.4,233.8 184.3,233.4 186.1,233.0 188.0,232.6 189.9,232.2 191.7,231.9 193.6,231.5 195.5,231.2 197.3,230.8 199.2,230.5 201.1,230.2 202.9,229.9 204.8,229.6 206.7,229.2 208.5,228.9 210.4,228.6 212.3,228.3 214.1,228.1 216.0,227.8 217.9,227.5 219.7,227.2 221.6,226.9 223.5,226.6 225.3,226.4 227.2,226.1 229.1,225.8 230.9,225.5 232.8,225.3" fill="none" stroke="#279827" stroke-width="0.9" stroke-opacity="0.85"/>
<path d="M48.0,315.4 49.9,315.4 51.8,315.4 53.6,315.4 55.5,315.4 57.4,315.4 59.2,315.4 61.1,315.4 63.0,315.4 64.8,315.4 66.7,315.4 68.6,315.4 70.4,315.4 72.3,315.4 74.2,315.4 76.0,315.4 77.9,315.4 79.8,315.3 81.6,315.2 83.5,315.1 85.4,314.9 87.2,314.5 89.1,314.0 91.0,313.4 92.8,312.5 94.7,311.3 96.6,309.9 98.4,308.3 100.3,306.4 102.2,304.2 104.0,301.9 105.9,299.4 107.8,296.7 109.6,294.0 111.5,291.1 113.4,288.3 115.2,285.4 117.1,282.6 119.0,279.8 120.8,277.1 122.7,274.5 124.6,272.0 126.4,269.6 128.3,267.3 130.2,265.1 132.0,263.1 133.9,261.2 135.8,259.4 137.6,257.7 139.5,256.2 141.4,254.7 143.2,253.4 145.1,252.1 147.0,250.9 148.8,249.8 150.7,248.8 152.5,247.9 154.4,247.0 156.3,246.2 158.1,245.4 160.0,244.7 161.9,244.0 163.7,243.4 165.6,242.8 167.5,242.2 169.3,241.7 171.2,241.2 173.1,240.7 174.9,240.2 176.8,239.8 178.7,239.4 180.5,239.0 182.4,238.6 184.3,238.2 186.1,237.8 188.0,237.5 189.9,237.2 191.7,236.8 193.6,236.5 195.5,236.2 197.3,235.9 199.2,235.6 201.1,235.3 202.9,235.0 204.8,234.7 206.7,234.5 208.5,234.2 210.4,233.9 212.3,233.6 214.1,233.4 216.0,233.1 217.9,232.8 219.7,232.6 221.6,232.3 223.5,232.1 225.3,231.8 227.2,231.6 229.1,231.3 230.9,231.0 232.8,230.8" fill="none" stroke="#279827" stroke-width="0.9" stroke-opacity="0.85"/>
<path d="M48.0,315.4 49.9,315.4 51.8,315.4 53.6,315.4 55.5,315.4 57.4,315.4 59.2,315.4 61.1,315.4 63.0,315.4 64.8,315.4 66.7,315.4 68.6,315.4 70.4,315.4 72.3,315.4 74.2,315.4 76.0,315.4 77.9,315.4 79.8,315.3 81.6,315.3 83.5,315.1 85.4,314.9 87.2,314.6 89.1,314.2 91.0,313.5 92.8,312.7 94.7,311.6 96.6,310.3 98.4,308.8 100.3,307.0 102.2,304.9 104.0,302.7 105.9,300.3 107.8,297.7 109.6,295.1 111.5,292.3 113.4,289.6 115.2,286.8 117.1,284.0 119.0,281.3 120.8,278.7 122.7,276.1 124.6,273.7 126.4,271.3 128.3,269.1 130.2,267.0 132.0,265.0 133.9,263.1 135.8,261.4 137.6,259.7 139.5,258.2 141.4,256.7 143.2,255.4 145.1,254.2 147.0,253.0 148.8,251.9 150.7,250.9 152.5,250.0 154.4,249.1 156.3,248.3 158.1,247.5 160.0,246.8 161.9,246.1 163.7,245.5 165.6,244.9 167.5,244.4 169.3,243.8 171.2,243.3 173.1,242.8 174.9,242.4 176.8,242.0 178.7,241.5 180.5,241.1 182.4,240.8 184.3,240.4 186.1,240.0 188.0,239.7 189.9,239.4 191.7,239.0 193.6,238.7 195.5,238.4 197.3,238.1 199.2,237.8 201.1,237.5 202.9,237.2 204.8,236.9 206.7,236.7 208.5,236.4 210.4,236.1 212.3,235.8 214.1,235.6 216.0,235.3 217.9,235.0 219.7,234.8 221.6,234.5 223.5,234.3 225.3,234.0 227.2,233.8 229.1,233.5 230.9,233.2 232.8,233.0" fill="none" stroke="#279827" stroke-width="0.9" stroke-opacity="0.85"/>
<path d="M48.0,315.4 49.9,315.4 51.8,315.4 53.6,315.4 55.5,315.4 57.4,315.4 59.2,315.4 61.1,315.4 63.0,315.4 64.8,315.4 66.7,315.4 68.6,315.4 70.4,315.4 72.3,315.4 74.2,315.4 76.0,315.4 77.9,315.4 79.8,315.3 81.6,315.3 83.5,315.2 85.4,315.0 87.2,314.7 89.1,314.3 91.0,313.7 92.8,312.9 94.7,311.9 96.6,310.7 98.4,309.2 100.3,307.5 102.2,305.6 104.0,303.4 105.9,301.1 107.8,298.7 109.6,296.1 111.5,293.5 113.4,290.8 115.2,288.1 117.1,285.4 119.0,282.8 120.8,280.2 122.7,277.7 124.6,275.3 126.4,273.0 128.3,270.9 130.2,268.8 132.0,266.8 133.9,265.0 135.8,263.3 137.6,261.7 139.5,260.2 141.4,258.7 143.2,257.4 145.1,256.2 147.0,255.1 148.8,254.0 150.7,253.0 152.5,252.1 154.4,251.2 156.3,250.4 158.1,249.7 160.0,248.9 161.9,248.3 163.7,247.7 165.6,247.1 167.5,246.5 169.3,246.0 171.2,245.5 173.1,245.0 174.9,244.6 176.8,244.1 178.7,243.7 180.5,243.3 182.4,243.0 184.3,242.6 186.1,242.2 188.0,241.9 189.9,241.6 191.7,241.2 193.6,240.9 195.5,240.6 197.3,240.3 199.2,240.0 201.1,239.7 202.9,239.4 204.8,239.1 206.7,238.9 208.5,238.6 210.4,238.3 212.3,238.0 214.1,237.8 216.0,237.5 217.9,237.2 219.7,237.0 221.6,236.7 223.5,236.5 225.3,236.2 227.2,236.0 229.1,235.7 230.9,235.5 232.8,235.2" fill="none" stroke="#279827" stroke-width="0.9" stroke-opacity="0.85"/>
<path d="M48.0,315.4 49.9,315.4 51.8,315.4 53.6,315.4 55.5,315.4 57.4,315.4 59.2,315.4 61.1,315.4 63.0,315.4 64.8,315.4 66.7,315.4 68.6,315.4 70.4,315.4 72.3,315.4 74.2,315.4 76.0,315.4 77.9,315.4 79.8,315.4 81.6,315.4 83.5,315.4 85.4,315.4 87.2,315.4 89.1,315.4 91.0,315.4 92.8,315.4 94.7,315.4 96.6,315.4 98.4,315.4 100.3,315.4 102.2,315.4 104.0,315.3 105.9,315.0 107.8,314.5 109.6,313.7 111.5,312.3 113.4,310.4 115.2,308.0 117.1,305.0 119.0,301.6 120.8,297.9 122.7,294.0 124.6,290.1 126.4,286.2 128.3,282.6 130.2,279.1 132.0,275.8 133.9,272.9 135.8,270.2 137.6,267.7 139.5,265.6 141.4,263.6 143.2,261.9 145.1,260.3 147.0,258.9 148.8,257.7 150.7,256.6 152.5,255.5 154.4,254.6 156.3,253.8 158.1,253.0 160.0,252.3 161.9,251.7 163.7,251.1 165.6,250.5 167.5,249.9 169.3,249.4 171.2,248.9 173.1,248.4 174.9,248.0 176.8,247.5 178.7,247.1 180.5,246.7 182.4,246.2 184.3,245.8 186.1,245.4 188.0,245.0 189.9,244.6 191.7,244.2 193.6,243.8 195.5,243.4 197.3,243.0 199.2,242.6 201.1,242.2 202.9,241.9 204.8,241.5 206.7,241.1 208.5,240.7 210.4,240.3 212.3,239.9 214.1,239.6 216.0,239.2 217.9,238.8 219.7,238.4 221.6,238.0 223.5,237.7 225.3,237.3 227.2,236.9 229.1,236.5 230.9,236.1 232.8,235.8" fill="none" stroke="#279827" stroke-width="0.9" stroke-opacity="0.85"/>
<path d="M48.0,315.4 49.9,315.4 51.8,315.4 53.6,315.4 55.5,315.4 57.4,315.4 59.2,315.4 61.1,315.4 63.0,315.4 64.8,315.4 66.7,315.4 68.6,315.4 70.4,315.4 72.3,315.4 74.2,315.4 76.0,315.4 77.9,315.4 79.8,315.4 81.6,315.4 83.5,315.4 85.4,315.4 87.2,315.4 89.1,315.4 91.0,315.4 92.8,315.4 94.7,315.4 96.6,315.4 98.4,315.4 100.3,315.4 102.2,315.4 104.0,315.3 105.9,315.1 107.8,314.7 109.6,313.9 111.5,312.7 113.4,311.0 115.2,308.7 117.1,305.9 119.0,302.7 120.8,299.3 122.7,295.6 124.6,291.8 126.4,288.1 128.3,284.6 130.2,281.2 132.0,278.1 133.9,275.2 135.8,272.6 137.6,270.2 139.5,268.1 141.4,266.2 143.2,264.5 145.1,262.9 147.0,261.6 148.8,260.3 150.7,259.2 152.5,258.2 154.4,257.3 156.3,256.5 158.1,255.7 160.0,255.0 161.9,254.4 163.7,253.8 165.6,253.2 167.5,252.7 169.3,252.2 171.2,251.7 173.1,251.2 174.9,250.7 176.8,250.3 178.7,249.8 180.5,249.4 182.4,249.0 184.3,248.6 186.1,248.2 188.0,247.8 189.9,247.4 191.7,247.0 193.6,246.6 195.5,246.2 197.3,245.8 199.2,245.4 201.1,245.0 202.9,244.6 204.8,244.2 206.7,243.8 208.5,243.5 210.4,243.1 212.3,242.7 214.1,242.3 216.0,241.9 217.9,241.6 219.7,241.2 221.6,240.8 223.5,240.4 225.3,240.0 227.2,239.6 229.1,239.3 230.9,238.9 232.8,238.5" fill="none" stroke="#279827" stroke-width="0.9" stroke-opacity="0.85"/>
<path d="M48.0,315.4 49.9,315.4 51.8,315.4 53.6,315.4 55.5,315.4 57.4,315.4 59.2,315.4 61.1,315.4 63.0,315.4 64.8,315.4 66.7,315.4 68.6,315.4 70.4,315.4 72.3,315.4 74.2,315.4 76.0,315.4 77.9,315.4 79.8,315.4 81.6,315.4 83.5,315.4 85.4,315.4 87.2,315.4 89.1,315.4 91.0,315.4 92.8,315.4 94.7,315.4 96.6,315.4 98.4,315.4 100.3,315.4 102.2,315.4 104.0,315.3 105.9,315.2 107.8,314.9 109.6,314.3 111.5,313.3 113.4,311.7 115.2,309.6 117.1,306.9 119.0,303.6 120.8,300.0 122.7,296.1 124.6,292.0 126.4,287.9 128.3,283.9 130.2,280.1 132.0,276.6 133.9,273.3 135.8,270.3 137.6,267.5 139.5,265.1 141.4,262.9 143.2,260.9 145.1,259.2 147.0,257.6 148.8,256.2 150.7,254.9 152.5,253.8 154.4,252.8 156.3,251.9 158.1,251.1 160.0,250.3 161.9,249.6 163.7,248.9 165.6,248.3 167.5,247.8 169.3,247.2 171.2,246.7 173.1,246.2 174.9,245.7 176.8,245.2 178.7,244.8 180.5,244.4 182.4,243.9 184.3,243.5 186.1,243.1 188.0,242.7 189.9,242.3 191.7,241.9 193.6,241.5 195.5,241.1 197.3,240.7 199.2,240.3 201.1,239.9 202.9,239.5 204.8,239.1 206.7,238.8 208.5,238.4 210.4,238.0 212.3,237.6 214.1,237.2 216.0,236.8 217.9,236.5 219.7,236.1 221.6,235.7 223.5,235.3 225.3,234.9 227.2,234.6 229.1,234.2 230.9,233.8 232.8,233.4" fill="none" stroke="#279827" stroke-width="0.9" stroke-opacity="0.85"/>
<path d="M48.0,315.4 49.9,315.4 51.8,315.4 53.6,315.4 55.5,315.4 57.4,315.4 59.2,315.4 61.1,315.4 63.0,315.4 64.8,315.4 66.7,315.4 68.6,315.4 70.4,315.4 72.3,315.4 74.2,315.4 76.0,315.4 77.9,315.4 79.8,315.4 81.6,315.4 83.5,315.4 85.4,315.4 87.2,315.4 89.1,315.4 91.0,315.4 92.8,315.4 94.7,315.4 96.6,315.4 98.4,315.4 100.3,315.4 102.2,315.4 104.0,315.4 105.9,315.4 107.8,315.4 109.6,315.4 111.5,315.4 113.4,315.4 115.2,315.4 117.1,315.4 119.0,315.4 120.8,315.3 122.7,315.2 124.6,314.7 126.4,313.8 128.3,312.2 130.2,309.8 132.0,306.5 133.9,302.3 135.8,297.6 137.6,292.5 139.5,287.2 141.4,282.0 143.2,277.1 145.1,272.6 147.0,268.5 148.8,264.8 150.7,261.5 152.5,258.7 154.4,256.2 156.3,254.1 158.1,252.3 160.0,250.7 161.9,249.4 163.7,248.2 165.6,247.2 167.5,246.3 169.3,245.6 171.2,244.9 173.1,244.3 174.9,243.7 176.8,243.2 178.7,242.8 180.5,242.4 182.4,242.0 184.3,241.6 186.1,241.2 188.0,240.9 189.9,240.6 191.7,240.3 193.6,240.0 195.5,239.7 197.3,239.4 199.2,239.1 201.1,238.8 202.9,238.5 204.8,238.2 206.7,237.9 208.5,237.7 210.4,237.4 212.3,237.1 214.1,236.8 216.0,236.6 217.9,236.3 219.7,236.0 221.6,235.7 223.5,235.5 225.3,235.2 227.2,234.9 229.1,234.6 230.9,234.4 232.8,234.1" fill="none" stroke="#279827" stroke-width="0.9" stroke-opacity="0.85"/>
<path d="M48.0,315.4 49.9,315.4 51.8,315.4 53.6,315.4 55.5,315.4 57.4,315.4 59.2,315.4 61.1,315.4 63.0,315.4 64.8,315.4 66.7,315.4 68.6,315.4 70.4,315.4 72.3,315.4 74.2,315.4 76.0,315.4 77.9,315.4 79.8,315.4 81.6,315.4 83.5,315.4 85.4,315.4 87.2,315.4 89.1,315.4 91.0,315.4 92.8,315.4 94.7,315.4 96.6,315.4 98.4,315.4 100.3,315.4 102.2,315.4 104.0,315.4 105.9,315.4 107.8,315.4 109.6,315.4 111.5,315.4 113.4,315.4 115.2,315.4 117.1,315.4 119.0,315.4 120.8,315.4 122.7,315.2 124.6,314.9 126.4,314.1 128.3,312.7 130.2,310.6 132.0,307.5 133.9,303.7 135.8,299.2 137.6,294.4 139.5,289.4 141.4,284.4 143.2,279.6 145.1,275.1 147.0,271.1 148.8,267.4 150.7,264.2 152.5,261.4 154.4,259.0 156.3,256.9 158.1,255.1 160.0,253.5 161.9,252.2 163.7,251.0 165.6,250.0 167.5,249.1 169.3,248.3 171.2,247.7 173.1,247.0 174.9,246.5 176.8,246.0 178.7,245.5 180.5,245.1 182.4,244.7 184.3,244.4 186.1,244.0 188.0,243.7 189.9,243.3 191.7,243.0 193.6,242.7 195.5,242.4 197.3,242.1 199.2,241.8 201.1,241.5 202.9,241.3 204.8,241.0 206.7,240.7 208.5,240.4 210.4,240.1 212.3,239.9 214.1,239.6 216.0,239.3 217.9,239.0 219.7,238.8 221.6,238.5 223.5,238.2 225.3,237.9 227.2,237.7 229.1,237.4 230.9,237.1 232.8,236.9" fill="none" stroke="#279827" stroke-width="0.9" stroke-opacity="0.85"/>
<path d="M48.0,315.4 49.9,315.4 51.8,315.4 53.6,315.4 55.5,315.4 57.4,315.4 59.2,315.4 61.1,315.4 63.0,315.4 64.8,315.4 66.7,315.4 68.6,315.4 70.4,315.4 72.3,315.4 74.2,315.4 76.0,315.4 77.9,315.4 79.8,315.4 81.6,315.4 83.5,315.4 85.4,315.4 87.2,315.4 89.1,315.4 91.0,315.4 92.8,315.4 94.7,315.4 96.6,315.4 98.4,315.4 100.3,315.4 102.2,315.4 104.0,315.4 105.9,315.4 107.8,315.4 109.6,315.4 111.5,315.4 113.4,315.4 115.2,315.4 117.1,315.4 119.0,315.4 120.8,315.4 122.7,315.3 124.6,315.0 126.4,314.3 128.3,313.1 130.2,311.2 132.0,308.5 133.9,305.0 135.8,300.9 137.6,296.3 139.5,291.6 141.4,286.9 143.2,282.4 145.1,278.2 147.0,274.3 148.8,270.8 150.7,267.8 152.5,265.1 154.4,262.7 156.3,260.7 158.1,258.9 160.0,257.4 161.9,256.1 163.7,255.0 165.6,254.0 167.5,253.2 169.3,252.4 171.2,251.7 173.1,251.1 174.9,250.6 176.8,250.1 178.7,249.7 180.5,249.2 182.4,248.8 184.3,248.5 186.1,248.1 188.0,247.8 189.9,247.5 191.7,247.2 193.6,246.8 195.5,246.5 197.3,246.2 199.2,246.0 201.1,245.7 202.9,245.4 204.8,245.1 206.7,244.8 208.5,244.5 210.4,244.3 212.3,244.0 214.1,243.7 216.0,243.4 217.9,243.2 219.7,242.9 221.6,242.6 223.5,242.3 225.3,242.1 227.2,241.8 229.1,241.5 230.9,241.3 232.8,241.0" fill="none" stroke="#279827" stroke-width="0.9" stroke-opacity="0.85"/>
<path d="M48.0,315.4 49.9,315.4 51.8,315.4 53.6,315.4 55.5,315.4 57.4,315.4 59.2,315.4 61.1,315.4 63.0,315.4 64.8,315.4 66.7,315.4 68.6,315.4 70.4,315.4 72.3,315.4 74.2,315.4 76.0,315.4 77.9,315.4 79.8,315.4 81.6,315.4 83.5,315.4 85.4,315.4 87.2,315.4 89.1,315.4 91.0,315.4 92.8,315.4 94.7,315.4 96.6,315.4 98.4,315.4 100.3,315.4 102.2,315.4 104.0,315.4 105.9,315.4 107.8,315.4 109.6,315.4 111.5,315.4 113.4,315.4 115.2,315.4 117.1,315.4 119.0,315.4 120.8,315.4 122.7,315.4 124.6,315.4 126.4,315.4 128.3,315.4 130.2,315.4 132.0,315.4 133.9,315.4 135.8,315.4 137.6,315.3 139.5,315.1 141.4,314.5 143.2,313.3 145.1,311.2 147.0,308.1 148.8,304.1 150.7,299.4 152.5,294.3 154.4,289.0 156.3,283.9 158.1,279.1 160.0,274.8 161.9,270.9 163.7,267.4 165.6,264.5 167.5,261.9 169.3,259.7 171.2,257.9 173.1,256.3 174.9,254.9 176.8,253.7 178.7,252.6 180.5,251.7 182.4,250.9 184.3,250.1 186.1,249.5 188.0,248.9 189.9,248.3 191.7,247.7 193.6,247.2 195.5,246.7 197.3,246.2 199.2,245.8 201.1,245.3 202.9,244.9 204.8,244.4 206.7,244.0 208.5,243.6 210.4,243.2 212.3,242.8 214.1,242.3 216.0,241.9 217.9,241.5 219.7,241.1 221.6,240.7 223.5,240.3 225.3,239.9 227.2,239.5 229.1,239.0 230.9,238.6 232.8,238.2" fill="none" stroke="#279827" stroke-width="0.9" stroke-opacity="0.85"/>
<path d="M48.0,315.4 49.9,315.4 51.8,315.4 53.6,315.4 55.5,315.4 57.4,315.4 59.2,315.4 61.1,315.4 63.0,315.4 64.8,315.4 66.7,315.4 68.6,315.4 70.4,315.4 72.3,315.4 74.2,315.4 76.0,315.4 77.9,315.4 79.8,315.4 81.6,315.4 83.5,315.4 85.4,315.4 87.2,315.4 89.1,315.4 91.0,315.4 92.8,315.4 94.7,315.4 96.6,315.4 98.4,315.4 100.3,315.4 102.2,315.4 104.0,315.4 105.9,315.4 107.8,315.4 109.6,315.4 111.5,315.4 113.4,315.4 115.2,315.4 117.1,315.4 119.0,315.4 120.8,315.4 122.7,315.4 124.6,315.4 126.4,315.4 128.3,315.4 130.2,315.4 132.0,315.4 133.9,315.4 135.8,315.4 137.6,315.4 139.5,315.2 141.4,314.8 143.2,313.8 145.1,312.0 147.0,309.2 148.8,305.4 150.7,300.7 152.5,295.5 154.4,290.0 156.3,284.6 158.1,279.4 160.0,274.7 161.9,270.4 163.7,266.6 165.6,263.3 167.5,260.5 169.3,258.1 171.2,256.0 173.1,254.2 174.9,252.7 176.8,251.4 178.7,250.3 180.5,249.3 182.4,248.4 184.3,247.6 186.1,246.9 188.0,246.2 189.9,245.6 191.7,245.1 193.6,244.5 195.5,244.0 197.3,243.5 199.2,243.1 201.1,242.6 202.9,242.1 204.8,241.7 206.7,241.3 208.5,240.8 210.4,240.4 212.3,240.0 214.1,239.6 216.0,239.2 217.9,238.8 219.7,238.3 221.6,237.9 223.5,237.5 225.3,237.1 227.2,236.7 229.1,236.3 230.9,235.9 232.8,235.5" fill="none" stroke="#279827" stroke-width="0.9" stroke-opacity="0.85"/>
<path d="M48.0,315.4 49.9,315.4 51.8,315.4 53.6,315.4 55.5,315.4 57.4,315.4 59.2,315.4 61.1,315.4 63.0,315.4 64.8,315.4 66.7,315.4 68.6,315.4 70.4,315.4 72.3,315.4 74.2,315.4 76.0,315.4 77.9,315.4 79.8,315.4 81.6,315.4 83.5,315.4 85.4,315.4 87.2,315.4 89.1,315.4 91.0,315.4 92.8,315.4 94.7,315.4 96.6,315.4 98.4,315.4 100.3,315.4 102.2,315.4 104.0,315.4 105.9,315.4 107.8,315.4 109.6,315.4 111.5,315.4 113.4,315.4 115.2,315.4 117.1,315.4 119.0,315.4 120.8,315.4 122.7,315.4 124.6,315.4 126.4,315.4 128.3,315.4 130.2,315.4 132.0,315.4 133.9,315.4 135.8,315.4 137.6,315.4 139.5,315.2 141.4,314.9 143.2,314.0 145.1,312.4 147.0,310.0 148.8,306.6 150.7,302.5 152.5,297.9 154.4,293.0 156.3,288.2 158.1,283.6 160.0,279.4 161.9,275.6 163.7,272.2 165.6,269.3 167.5,266.7 169.3,264.5 171.2,262.6 173.1,261.0 174.9,259.6 176.8,258.4 178.7,257.4 180.5,256.4 182.4,255.6 184.3,254.9 186.1,254.2 188.0,253.6 189.9,253.0 191.7,252.4 193.6,251.9 195.5,251.4 197.3,250.9 199.2,250.5 201.1,250.0 202.9,249.6 204.8,249.1 206.7,248.7 208.5,248.3 210.4,247.9 212.3,247.4 214.1,247.0 216.0,246.6 217.9,246.2 219.7,245.8 221.6,245.4 223.5,245.0 225.3,244.6 227.2,244.1 229.1,243.7 230.9,243.3 232.8,242.9" fill="none" stroke="#279827" stroke-width="0.9" stroke-opacity="0.85"/>
<path d="M48.0,315.4 49.9,315.4 51.8,315.4 53.6,315.4 55.5,315.4 57.4,315.4 59.2,315.4 61.1,315.4 63.0,315.4 64.8,315.4 66.7,315.4 68.6,315.4 70.4,315.4 72.3,315.4 74.2,315.4 76.0,315.4 77.9,315.4 79.8,315.4 81.6,315.4 83.5,315.4 85.4,315.4 87.2,315.4 89.1,315.4 91.0,315.4 92.8,315.4 94.7,315.4 96.6,315.4 98.4,315.4 100.3,315.4 102.2,315.4 104.0,315.4 105.9,315.4 107.8,315.4 109.6,315.4 111.5,315.4 113.4,315.4 115.2,315.4 117.1,315.4 119.0,315.4 120.8,315.4 122.7,315.4 124.6,315.4 126.4,315.4 128.3,315.4 130.2,315.4 132.0,315.4 133.9,315.4 135.8,315.4 137.6,315.4 139.5,315.4 141.4,315.4 143.2,315.4 145.1,315.4 147.0,315.4 148.8,315.4 150.7,315.4 152.5,315.4 154.4,315.3 156.3,315.0 158.1,314.2 160.0,312.6 161.9,309.9 163.7,306.0 165.6,301.3 167.5,295.8 169.3,290.2 171.2,284.6 173.1,279.3 174.9,274.5 176.8,270.2 178.7,266.5 180.5,263.4 182.4,260.7 184.3,258.4 186.1,256.5 188.0,254.8 189.9,253.5 191.7,252.3 193.6,251.3 195.5,250.4 197.3,249.6 199.2,248.9 201.1,248.3 202.9,247.7 204.8,247.1 206.7,246.6 208.5,246.1 210.4,245.7 212.3,245.2 214.1,244.8 216.0,244.3 217.9,243.9 219.7,243.5 221.6,243.1 223.5,242.7 225.3,242.3 227.2,241.9 229.1,241.5 230.9,241.1 232.8,240.7" fill="none" stroke="#279827" stroke-width="0.9" stroke-opacity="0.85"/>
<path d="M48.0,315.4 49.9,315.4 51.8,315.4 53.6,315.4 55.5,315.4 57.4,315.4 59.2,315.4 61.1,315.4 63.0,315.4 64.8,315.4 66.7,315.4 68.6,315.4 70.4,315.4 72.3,315.4 74.2,315.4 76.0,315.4 77.9,315.4 79.8,315.4 81.6,315.4 83.5,315.4 85.4,315.4 87.2,315.4 89.1,315.4 91.0,315.4 92.8,315.4 94.7,315.4 96.6,315.4 98.4,315.4 100.3,315.4 102.2,315.4 104.0,315.4 105.9,315.4 107.8,315.4 109.6,315.4 111.5,315.4 113.4,315.4 115.2,315.4 117.1,315.4 119.0,315.4 120.8,315.4 122.7,315.4 124.6,315.4 126.4,315.4 128.3,315.4 130.2,315.4 132.0,315.4 133.9,315.4 135.8,315.4 137.6,315.4 139.5,315.4 141.4,315.4 143.2,315.4 145.1,315.4 147.0,315.4 148.8,315.4 150.7,315.4 152.5,315.4 154.4,315.3 156.3,315.1 158.1,314.4 160.0,313.0 161.9,310.6 163.7,307.2 165.6,303.0 167.5,298.2 169.3,293.1 171.2,288.0 173.1,283.3 174.9,278.9 176.8,275.0 178.7,271.7 180.5,268.8 182.4,266.3 184.3,264.2 186.1,262.4 188.0,260.9 189.9,259.6 191.7,258.5 193.6,257.5 195.5,256.7 197.3,255.9 199.2,255.3 201.1,254.7 202.9,254.1 204.8,253.6 206.7,253.1 208.5,252.6 210.4,252.1 212.3,251.7 214.1,251.2 216.0,250.8 217.9,250.4 219.7,250.0 221.6,249.6 223.5,249.2 225.3,248.8 227.2,248.4 229.1,248.0 230.9,247.6 232.8,247.2" fill="none" stroke="#279827" stroke-width="0.9" stroke-opacity="0.85"/>
<path d="M48.0,315.4 49.9,315.4 51.8,315.4 53.6,315.4 55.5,315.4 57.4,315.4 59.2,315.4 61.1,315.4 63.0,315.4 64.8,315.4 66.7,315.4 68.6,315.4 70.4,315.4 72.3,315.4 74.2,315.4 76.0,315.4 77.9,315.4 79.8,315.4 81.6,315.4 83.5,315.4 85.4,315.4 87.2,315.4 89.1,315.4 91.0,315.4 92.8,315.4 94.7,315.4 96.6,315.4 98.4,315.4 100.3,315.4 102.2,315.4 104.0,315.4 105.9,315.4 107.8,315.4 109.6,315.4 111.5,315.4 113.4,315.4 115.2,315.4 117.1,315.4 119.0,315.4 120.8,315.4 122.7,315.4 124.6,315.4 126.4,315.4 128.3,315.4 130.2,315.4 132.0,315.4 133.9,315.4 135.8,315.4 137.6,315.4 139.5,315.4 141.4,315.4 143.2,315.4 145.1,315.4 147.0,315.4 148.8,315.4 150.7,315.4 152.5,315.4 154.4,315.4 156.3,315.2 158.1,314.7 160.0,313.6 161.9,311.6 163.7,308.5 165.6,304.3 167.5,299.3 169.3,293.9 171.2,288.4 173.1,283.1 174.9,278.2 176.8,273.8 178.7,269.9 180.5,266.6 182.4,263.7 184.3,261.3 186.1,259.2 188.0,257.5 189.9,256.0 191.7,254.8 193.6,253.7 195.5,252.8 197.3,251.9 199.2,251.2 201.1,250.6 202.9,249.9 204.8,249.4 206.7,248.9 208.5,248.4 210.4,247.9 212.3,247.4 214.1,247.0 216.0,246.6 217.9,246.1 219.7,245.7 221.6,245.3 223.5,244.9 225.3,244.5 227.2,244.1 229.1,243.7 230.9,243.3 232.8,242.9" fill="none" stroke="#279827" stroke-width="0.9" stroke-opacity="0.85"/>
<line x1="305.40" y1="214.40" x2="305.40" y2="314.90" stroke="#a8a8a8" stroke-width="0.75" stroke-dasharray="1.3,2.2"/>
<line x1="341.40" y1="214.40" x2="341.40" y2="314.90" stroke="#a8a8a8" stroke-width="0.75" stroke-dasharray="1.3,2.2"/>
<line x1="377.40" y1="214.40" x2="377.40" y2="314.90" stroke="#a8a8a8" stroke-width="0.75" stroke-dasharray="1.3,2.2"/>
<line x1="413.40" y1="214.40" x2="413.40" y2="314.90" stroke="#a8a8a8" stroke-width="0.75" stroke-dasharray="1.3,2.2"/>
<line x1="449.40" y1="214.40" x2="449.40" y2="314.90" stroke="#a8a8a8" stroke-width="0.75" stroke-dasharray="1.3,2.2"/>
<line x1="485.40" y1="214.40" x2="485.40" y2="314.90" stroke="#a8a8a8" stroke-width="0.75" stroke-dasharray="1.3,2.2"/>
<line x1="285.90" y1="302.40" x2="488.90" y2="302.40" stroke="#a8a8a8" stroke-width="0.75" stroke-dasharray="1.3,2.2"/>
<line x1="285.90" y1="275.37" x2="488.90" y2="275.37" stroke="#a8a8a8" stroke-width="0.75" stroke-dasharray="1.3,2.2"/>
<line x1="285.90" y1="248.33" x2="488.90" y2="248.33" stroke="#a8a8a8" stroke-width="0.75" stroke-dasharray="1.3,2.2"/>
<line x1="285.90" y1="221.30" x2="488.90" y2="221.30" stroke="#a8a8a8" stroke-width="0.75" stroke-dasharray="1.3,2.2"/>
<line x1="285.90" y1="214.40" x2="488.90" y2="214.40" stroke="#707070" stroke-width="0.9" />
<line x1="488.90" y1="214.40" x2="488.90" y2="314.90" stroke="#707070" stroke-width="0.9" />
<line x1="285.90" y1="214.40" x2="285.90" y2="315.40" stroke="#555" stroke-width="1.1" />
<line x1="285.40" y1="314.90" x2="488.90" y2="314.90" stroke="#555" stroke-width="1.1" />
<path d="M284.8,313.2h2.2M487.9,313.2h2.0M284.8,307.8h2.2M487.9,307.8h2.0M284.8,302.4h2.2M487.9,302.4h2.0M284.8,297.0h2.2M487.9,297.0h2.0M284.8,291.6h2.2M487.9,291.6h2.0M284.8,286.2h2.2M487.9,286.2h2.0M284.8,280.8h2.2M487.9,280.8h2.0M284.8,275.4h2.2M487.9,275.4h2.0M284.8,270.0h2.2M487.9,270.0h2.0M284.8,264.6h2.2M487.9,264.6h2.0M284.8,259.1h2.2M487.9,259.1h2.0M284.8,253.7h2.2M487.9,253.7h2.0M284.8,248.3h2.2M487.9,248.3h2.0M284.8,242.9h2.2M487.9,242.9h2.0M284.8,237.5h2.2M487.9,237.5h2.0M284.8,232.1h2.2M487.9,232.1h2.0M284.8,226.7h2.2M487.9,226.7h2.0M284.8,221.3h2.2M487.9,221.3h2.0M284.8,215.9h2.2M487.9,215.9h2.0M291.0,313.8v2.2M298.2,313.8v2.2M305.4,313.8v2.2M312.6,313.8v2.2M319.8,313.8v2.2M327.0,313.8v2.2M334.2,313.8v2.2M341.4,313.8v2.2M348.6,313.8v2.2M355.8,313.8v2.2M363.0,313.8v2.2M370.2,313.8v2.2M377.4,313.8v2.2M384.6,313.8v2.2M391.8,313.8v2.2M399.0,313.8v2.2M406.2,313.8v2.2M413.4,313.8v2.2M420.6,313.8v2.2M427.8,313.8v2.2M435.0,313.8v2.2M442.2,313.8v2.2M449.4,313.8v2.2M456.6,313.8v2.2M463.8,313.8v2.2M471.0,313.8v2.2M478.2,313.8v2.2M485.4,313.8v2.2" stroke="#444" stroke-width="1.3" fill="none"/>
<text x="281.30" y="304.42" font-size="5.6" text-anchor="end" stroke="#666670" stroke-width="0.12" stroke-linejoin="round" fill="#666670" >10</text>
<text x="281.30" y="277.38" font-size="5.6" text-anchor="end" stroke="#666670" stroke-width="0.12" stroke-linejoin="round" fill="#666670" >15</text>
<text x="281.30" y="250.35" font-size="5.6" text-anchor="end" stroke="#666670" stroke-width="0.12" stroke-linejoin="round" fill="#666670" >20</text>
<text x="281.30" y="223.32" font-size="5.6" text-anchor="end" stroke="#666670" stroke-width="0.12" stroke-linejoin="round" fill="#666670" >25</text>
<text x="305.40" y="324.90" font-size="5.6" text-anchor="middle" stroke="#666670" stroke-width="0.12" stroke-linejoin="round" fill="#666670" >5</text>
<text x="341.40" y="324.90" font-size="5.6" text-anchor="middle" stroke="#666670" stroke-width="0.12" stroke-linejoin="round" fill="#666670" >6</text>
<text x="377.40" y="324.90" font-size="5.6" text-anchor="middle" stroke="#666670" stroke-width="0.12" stroke-linejoin="round" fill="#666670" >7</text>
<text x="413.40" y="324.90" font-size="5.6" text-anchor="middle" stroke="#666670" stroke-width="0.12" stroke-linejoin="round" fill="#666670" >8</text>
<text x="449.40" y="324.90" font-size="5.6" text-anchor="middle" stroke="#666670" stroke-width="0.12" stroke-linejoin="round" fill="#666670" >9</text>
<text x="485.40" y="324.90" font-size="5.6" text-anchor="middle" stroke="#666670" stroke-width="0.12" stroke-linejoin="round" fill="#666670" >10</text>
<line x1="295.32" y1="218.25" x2="480.72" y2="310.77" stroke="#5ab85a" stroke-width="1.1" />
<circle cx="295.32" cy="219.06" r="1.9" fill="none" stroke="#3aa03a" stroke-width="1.0"/>
<circle cx="295.32" cy="217.44" r="1.9" fill="none" stroke="#3aa03a" stroke-width="1.0"/>
<circle cx="331.32" cy="237.03" r="1.9" fill="none" stroke="#3aa03a" stroke-width="1.0"/>
<circle cx="331.32" cy="235.40" r="1.9" fill="none" stroke="#3aa03a" stroke-width="1.0"/>
<circle cx="367.32" cy="254.99" r="1.9" fill="none" stroke="#3aa03a" stroke-width="1.0"/>
<circle cx="367.32" cy="253.37" r="1.9" fill="none" stroke="#3aa03a" stroke-width="1.0"/>
<circle cx="403.32" cy="272.96" r="1.9" fill="none" stroke="#3aa03a" stroke-width="1.0"/>
<circle cx="403.32" cy="271.34" r="1.9" fill="none" stroke="#3aa03a" stroke-width="1.0"/>
<circle cx="439.32" cy="290.92" r="1.9" fill="none" stroke="#3aa03a" stroke-width="1.0"/>
<circle cx="439.32" cy="289.30" r="1.9" fill="none" stroke="#3aa03a" stroke-width="1.0"/>
<circle cx="475.32" cy="308.89" r="1.9" fill="none" stroke="#3aa03a" stroke-width="1.0"/>
<circle cx="475.32" cy="307.27" r="1.9" fill="none" stroke="#3aa03a" stroke-width="1.0"/>
<text x="376.40" y="231.50" font-size="10.6" font-weight="bold" textLength="86.18" lengthAdjust="spacingAndGlyphs" stroke="#1a1a1a" stroke-width="0.25" stroke-linejoin="round" fill="#1a1a1a" >E=99.9% R²=0.999</text>
<text x="358.90" y="245.20" font-size="10.6" font-weight="bold" textLength="126.00" lengthAdjust="spacingAndGlyphs" stroke="#1a1a1a" stroke-width="0.25" stroke-linejoin="round" fill="#1a1a1a" >Slope=-3.323 y-int=41.249</text>
<line x1="546.70" y1="214.00" x2="546.70" y2="317.30" stroke="#a8a8a8" stroke-width="0.75" stroke-dasharray="1.3,2.2"/>
<line x1="576.73" y1="214.00" x2="576.73" y2="317.30" stroke="#a8a8a8" stroke-width="0.75" stroke-dasharray="1.3,2.2"/>
<line x1="606.77" y1="214.00" x2="606.77" y2="317.30" stroke="#a8a8a8" stroke-width="0.75" stroke-dasharray="1.3,2.2"/>
<line x1="636.80" y1="214.00" x2="636.80" y2="317.30" stroke="#a8a8a8" stroke-width="0.75" stroke-dasharray="1.3,2.2"/>
<line x1="666.83" y1="214.00" x2="666.83" y2="317.30" stroke="#a8a8a8" stroke-width="0.75" stroke-dasharray="1.3,2.2"/>
<line x1="696.87" y1="214.00" x2="696.87" y2="317.30" stroke="#a8a8a8" stroke-width="0.75" stroke-dasharray="1.3,2.2"/>
<line x1="726.90" y1="214.00" x2="726.90" y2="317.30" stroke="#a8a8a8" stroke-width="0.75" stroke-dasharray="1.3,2.2"/>
<line x1="538.40" y1="315.20" x2="736.40" y2="315.20" stroke="#a8a8a8" stroke-width="0.75" stroke-dasharray="1.3,2.2"/>
<line x1="538.40" y1="302.68" x2="736.40" y2="302.68" stroke="#a8a8a8" stroke-width="0.75" stroke-dasharray="1.3,2.2"/>
<line x1="538.40" y1="290.15" x2="736.40" y2="290.15" stroke="#a8a8a8" stroke-width="0.75" stroke-dasharray="1.3,2.2"/>
<line x1="538.40" y1="277.62" x2="736.40" y2="277.62" stroke="#a8a8a8" stroke-width="0.75" stroke-dasharray="1.3,2.2"/>
<line x1="538.40" y1="265.10" x2="736.40" y2="265.10" stroke="#a8a8a8" stroke-width="0.75" stroke-dasharray="1.3,2.2"/>
<line x1="538.40" y1="252.57" x2="736.40" y2="252.57" stroke="#a8a8a8" stroke-width="0.75" stroke-dasharray="1.3,2.2"/>
<line x1="538.40" y1="240.05" x2="736.40" y2="240.05" stroke="#a8a8a8" stroke-width="0.75" stroke-dasharray="1.3,2.2"/>
<line x1="538.40" y1="227.53" x2="736.40" y2="227.53" stroke="#a8a8a8" stroke-width="0.75" stroke-dasharray="1.3,2.2"/>
<line x1="538.40" y1="214.00" x2="736.40" y2="214.00" stroke="#707070" stroke-width="0.9" />
<line x1="736.40" y1="214.00" x2="736.40" y2="317.30" stroke="#707070" stroke-width="0.9" />
<line x1="538.40" y1="214.00" x2="538.40" y2="317.80" stroke="#555" stroke-width="1.1" />
<line x1="537.90" y1="317.30" x2="736.40" y2="317.30" stroke="#555" stroke-width="1.1" />
<path d="M537.3,315.2h2.2M735.4,315.2h2.0M537.3,312.1h2.2M735.4,312.1h2.0M537.3,308.9h2.2M735.4,308.9h2.0M537.3,305.8h2.2M735.4,305.8h2.0M537.3,302.7h2.2M735.4,302.7h2.0M537.3,299.5h2.2M735.4,299.5h2.0M537.3,296.4h2.2M735.4,296.4h2.0M537.3,293.3h2.2M735.4,293.3h2.0M537.3,290.1h2.2M735.4,290.1h2.0M537.3,287.0h2.2M735.4,287.0h2.0M537.3,283.9h2.2M735.4,283.9h2.0M537.3,280.8h2.2M735.4,280.8h2.0M537.3,277.6h2.2M735.4,277.6h2.0M537.3,274.5h2.2M735.4,274.5h2.0M537.3,271.4h2.2M735.4,271.4h2.0M537.3,268.2h2.2M735.4,268.2h2.0M537.3,265.1h2.2M735.4,265.1h2.0M537.3,262.0h2.2M735.4,262.0h2.0M537.3,258.8h2.2M735.4,258.8h2.0M537.3,255.7h2.2M735.4,255.7h2.0M537.3,252.6h2.2M735.4,252.6h2.0M537.3,249.4h2.2M735.4,249.4h2.0M537.3,246.3h2.2M735.4,246.3h2.0M537.3,243.2h2.2M735.4,243.2h2.0M537.3,240.1h2.2M735.4,240.1h2.0M537.3,236.9h2.2M735.4,236.9h2.0M537.3,233.8h2.2M735.4,233.8h2.0M537.3,230.7h2.2M735.4,230.7h2.0M537.3,227.5h2.2M735.4,227.5h2.0M537.3,224.4h2.2M735.4,224.4h2.0M537.3,221.3h2.2M735.4,221.3h2.0M537.3,218.1h2.2M735.4,218.1h2.0M537.3,215.0h2.2M735.4,215.0h2.0M540.7,316.2v2.2M546.7,316.2v2.2M552.7,316.2v2.2M558.7,316.2v2.2M564.7,316.2v2.2M570.7,316.2v2.2M576.7,316.2v2.2M582.7,316.2v2.2M588.7,316.2v2.2M594.8,316.2v2.2M600.8,316.2v2.2M606.8,316.2v2.2M612.8,316.2v2.2M618.8,316.2v2.2M624.8,316.2v2.2M630.8,316.2v2.2M636.8,316.2v2.2M642.8,316.2v2.2M648.8,316.2v2.2M654.8,316.2v2.2M660.8,316.2v2.2M666.8,316.2v2.2M672.8,316.2v2.2M678.8,316.2v2.2M684.9,316.2v2.2M690.9,316.2v2.2M696.9,316.2v2.2M702.9,316.2v2.2M708.9,316.2v2.2M714.9,316.2v2.2M720.9,316.2v2.2M726.9,316.2v2.2M732.9,316.2v2.2" stroke="#444" stroke-width="1.3" fill="none"/>
<text x="533.80" y="317.22" font-size="5.6" text-anchor="end" stroke="#666670" stroke-width="0.12" stroke-linejoin="round" fill="#666670" >0</text>
<text x="533.80" y="304.69" font-size="5.6" text-anchor="end" stroke="#666670" stroke-width="0.12" stroke-linejoin="round" fill="#666670" >200</text>
<text x="533.80" y="292.17" font-size="5.6" text-anchor="end" stroke="#666670" stroke-width="0.12" stroke-linejoin="round" fill="#666670" >400</text>
<text x="533.80" y="279.64" font-size="5.6" text-anchor="end" stroke="#666670" stroke-width="0.12" stroke-linejoin="round" fill="#666670" >600</text>
<text x="533.80" y="267.12" font-size="5.6" text-anchor="end" stroke="#666670" stroke-width="0.12" stroke-linejoin="round" fill="#666670" >800</text>
<text x="533.80" y="254.59" font-size="5.6" text-anchor="end" stroke="#666670" stroke-width="0.12" stroke-linejoin="round" fill="#666670" >1000</text>
<text x="533.80" y="242.07" font-size="5.6" text-anchor="end" stroke="#666670" stroke-width="0.12" stroke-linejoin="round" fill="#666670" >1200</text>
<text x="533.80" y="229.54" font-size="5.6" text-anchor="end" stroke="#666670" stroke-width="0.12" stroke-linejoin="round" fill="#666670" >1400</text>
<text x="533.80" y="217.02" font-size="5.6" text-anchor="end" stroke="#666670" stroke-width="0.12" stroke-linejoin="round" fill="#666670" >1600</text>
<text x="546.70" y="325.90" font-size="5.6" text-anchor="middle" stroke="#666670" stroke-width="0.12" stroke-linejoin="round" fill="#666670" >65</text>
<text x="576.73" y="325.90" font-size="5.6" text-anchor="middle" stroke="#666670" stroke-width="0.12" stroke-linejoin="round" fill="#666670" >70</text>
<text x="606.77" y="325.90" font-size="5.6" text-anchor="middle" stroke="#666670" stroke-width="0.12" stroke-linejoin="round" fill="#666670" >75</text>
<text x="636.80" y="325.90" font-size="5.6" text-anchor="middle" stroke="#666670" stroke-width="0.12" stroke-linejoin="round" fill="#666670" >80</text>
<text x="666.83" y="325.90" font-size="5.6" text-anchor="middle" stroke="#666670" stroke-width="0.12" stroke-linejoin="round" fill="#666670" >85</text>
<text x="696.87" y="325.90" font-size="5.6" text-anchor="middle" stroke="#666670" stroke-width="0.12" stroke-linejoin="round" fill="#666670" >90</text>
<text x="726.90" y="325.90" font-size="5.6" text-anchor="middle" stroke="#666670" stroke-width="0.12" stroke-linejoin="round" fill="#666670" >95</text>
<line x1="546.70" y1="275.75" x2="726.90" y2="275.75" stroke="#2e9a2e" stroke-width="1.6" />
<path d="M546.7,310.5 548.5,306.6 550.3,303.8 552.1,304.1 554.5,304.5 556.3,304.6 557.3,304.6 558.2,304.5 559.2,304.5 560.1,304.4 561.1,304.4 562.0,304.4 563.0,304.3 563.9,304.3 564.9,304.3 565.8,304.2 566.8,304.2 567.7,304.2 568.7,304.1 569.7,304.1 570.6,304.1 571.6,304.0 572.5,304.0 573.5,304.0 574.4,303.9 575.4,303.9 576.3,303.9 577.3,303.9 578.2,303.8 579.2,303.8 580.1,303.8 581.1,303.8 582.0,303.7 583.0,303.7 583.9,303.7 584.9,303.7 585.9,303.6 586.8,303.6 587.8,303.6 588.7,303.6 589.7,303.6 590.6,303.6 591.6,303.5 592.5,303.5 593.5,303.5 594.4,303.5 595.4,303.5 596.3,303.5 597.3,303.5 598.2,303.5 599.2,303.5 600.1,303.5 601.1,303.4 602.1,303.4 603.0,303.4 604.0,303.4 604.9,303.4 605.9,303.4 606.8,303.4 607.8,303.4 608.7,303.4 609.7,303.4 610.6,303.4 611.6,303.4 612.5,303.5 613.5,303.5 614.4,303.5 615.4,303.5 616.4,303.5 617.3,303.5 618.3,303.5 619.2,303.5 620.2,303.5 621.1,303.5 622.1,303.5 623.0,303.5 624.0,303.5 624.9,303.6 625.9,303.6 626.8,303.5 627.8,303.5 628.7,303.5 629.7,303.5 630.6,303.4 631.6,303.3 632.6,303.2 633.5,303.0 634.5,302.8 635.4,302.5 636.4,302.1 637.3,301.6 638.3,301.0 639.2,300.2 640.2,299.2 641.1,298.0 642.1,296.7 643.0,295.0 644.0,293.1 644.9,291.0 645.9,288.6 646.8,286.0 647.8,283.1 648.8,280.1 649.7,276.9 650.7,273.6 651.6,270.4 652.6,267.2 653.5,264.2 654.5,261.4 655.4,259.1 656.4,257.1 657.3,255.7 658.3,254.8 659.2,254.6 660.2,254.9 661.1,256.1 662.1,258.3 663.0,261.3 664.0,265.0 665.0,269.3 665.9,273.9 666.9,278.7 667.8,283.4 668.8,288.0 669.7,292.3 670.7,296.2 671.6,299.6 672.6,302.6 673.5,305.0 674.5,307.1 675.4,308.7 676.4,310.0 677.3,311.0 678.3,311.8 679.2,312.4 680.2,312.8 681.2,313.1 682.1,313.3 683.1,313.5 684.0,313.6 685.0,313.7 685.9,313.7 686.9,313.8 687.8,313.8 688.8,313.9 689.7,313.9 690.7,314.0 691.6,314.0 692.6,314.0 693.5,314.1 694.5,314.1 695.5,314.1 696.4,314.2 697.4,314.2 698.3,314.2 699.3,314.3 700.2,314.3 701.2,314.3 702.1,314.4 703.1,314.4 704.0,314.4 705.0,314.4 705.9,314.5 706.9,314.5 707.8,314.5 708.8,314.6 709.7,314.6 710.7,314.6 711.7,314.7 712.6,314.7 713.6,314.7 714.5,314.8 715.5,314.8 716.4,314.8 717.4,314.9 718.3,314.9 719.3,314.9 720.2,315.0 721.2,315.0 722.1,315.0 723.1,315.1 724.0,315.1 725.0,315.1 725.9,315.2 726.9,315.2" fill="none" stroke="#1f8f1f" stroke-width="0.75" stroke-opacity="0.8"/>
<path d="M546.7,310.5 548.5,306.6 550.3,302.3 552.1,302.6 554.5,303.0 556.3,303.1 557.3,303.1 558.2,303.0 559.2,303.0 560.1,302.9 561.1,302.9 562.0,302.9 563.0,302.8 563.9,302.8 564.9,302.8 565.8,302.7 566.8,302.7 567.7,302.7 568.7,302.6 569.7,302.6 570.6,302.6 571.6,302.5 572.5,302.5 573.5,302.5 574.4,302.4 575.4,302.4 576.3,302.4 577.3,302.4 578.2,302.3 579.2,302.3 580.1,302.3 581.1,302.3 582.0,302.2 583.0,302.2 583.9,302.2 584.9,302.2 585.9,302.1 586.8,302.1 587.8,302.1 588.7,302.1 589.7,302.1 590.6,302.1 591.6,302.0 592.5,302.0 593.5,302.0 594.4,302.0 595.4,302.0 596.3,302.0 597.3,302.0 598.2,302.0 599.2,302.0 600.1,302.0 601.1,301.9 602.1,301.9 603.0,301.9 604.0,301.9 604.9,301.9 605.9,301.9 606.8,301.9 607.8,301.9 608.7,301.9 609.7,301.9 610.6,301.9 611.6,301.9 612.5,302.0 613.5,302.0 614.4,302.0 615.4,302.0 616.4,302.0 617.3,302.0 618.3,302.0 619.2,302.0 620.2,302.0 621.1,302.0 622.1,302.0 623.0,302.0 624.0,302.1 624.9,302.1 625.9,302.1 626.8,302.1 627.8,302.1 628.7,302.0 629.7,302.0 630.6,302.0 631.6,301.9 632.6,301.8 633.5,301.6 634.5,301.5 635.4,301.2 636.4,300.8 637.3,300.4 638.3,299.8 639.2,299.1 640.2,298.3 641.1,297.2 642.1,295.9 643.0,294.4 644.0,292.6 644.9,290.5 645.9,288.2 646.8,285.6 647.8,282.8 648.8,279.7 649.7,276.5 650.7,273.1 651.6,269.6 652.6,266.2 653.5,262.9 654.5,259.9 655.4,257.1 656.4,254.7 657.3,252.8 658.3,251.5 659.2,250.8 660.2,250.8 661.1,251.4 662.1,253.0 663.0,255.6 664.0,259.0 665.0,263.2 665.9,267.8 666.9,272.8 667.8,277.9 668.8,282.9 669.7,287.7 670.7,292.1 671.6,296.1 672.6,299.6 673.5,302.6 674.5,305.1 675.4,307.2 676.4,308.8 677.3,310.1 678.3,311.1 679.2,311.9 680.2,312.4 681.2,312.8 682.1,313.1 683.1,313.3 684.0,313.5 685.0,313.6 685.9,313.7 686.9,313.8 687.8,313.8 688.8,313.9 689.7,313.9 690.7,313.9 691.6,314.0 692.6,314.0 693.5,314.0 694.5,314.1 695.5,314.1 696.4,314.1 697.4,314.2 698.3,314.2 699.3,314.2 700.2,314.3 701.2,314.3 702.1,314.3 703.1,314.4 704.0,314.4 705.0,314.4 705.9,314.5 706.9,314.5 707.8,314.5 708.8,314.6 709.7,314.6 710.7,314.6 711.7,314.7 712.6,314.7 713.6,314.7 714.5,314.8 715.5,314.8 716.4,314.8 717.4,314.9 718.3,314.9 719.3,314.9 720.2,315.0 721.2,315.0 722.1,315.0 723.1,315.1 724.0,315.1 725.0,315.1 725.9,315.2 726.9,315.2" fill="none" stroke="#1f8f1f" stroke-width="0.75" stroke-opacity="0.8"/>
<path d="M546.7,310.5 548.5,306.6 550.3,303.4 552.1,303.7 554.5,304.1 556.3,304.2 557.3,304.2 558.2,304.1 559.2,304.1 560.1,304.1 561.1,304.0 562.0,304.0 563.0,304.0 563.9,303.9 564.9,303.9 565.8,303.9 566.8,303.8 567.7,303.8 568.7,303.8 569.7,303.7 570.6,303.7 571.6,303.7 572.5,303.6 573.5,303.6 574.4,303.6 575.4,303.5 576.3,303.5 577.3,303.5 578.2,303.5 579.2,303.4 580.1,303.4 581.1,303.4 582.0,303.4 583.0,303.3 583.9,303.3 584.9,303.3 585.9,303.3 586.8,303.3 587.8,303.2 588.7,303.2 589.7,303.2 590.6,303.2 591.6,303.2 592.5,303.2 593.5,303.1 594.4,303.1 595.4,303.1 596.3,303.1 597.3,303.1 598.2,303.1 599.2,303.1 600.1,303.1 601.1,303.1 602.1,303.1 603.0,303.1 604.0,303.1 604.9,303.1 605.9,303.1 606.8,303.1 607.8,303.1 608.7,303.1 609.7,303.1 610.6,303.1 611.6,303.1 612.5,303.1 613.5,303.1 614.4,303.1 615.4,303.1 616.4,303.1 617.3,303.1 618.3,303.1 619.2,303.1 620.2,303.2 621.1,303.2 622.1,303.2 623.0,303.2 624.0,303.2 624.9,303.2 625.9,303.2 626.8,303.2 627.8,303.2 628.7,303.2 629.7,303.2 630.6,303.1 631.6,303.1 632.6,303.0 633.5,302.9 634.5,302.7 635.4,302.5 636.4,302.2 637.3,301.8 638.3,301.3 639.2,300.6 640.2,299.8 641.1,298.8 642.1,297.6 643.0,296.2 644.0,294.5 644.9,292.5 645.9,290.2 646.8,287.6 647.8,284.7 648.8,281.6 649.7,278.2 650.7,274.7 651.6,271.0 652.6,267.2 653.5,263.5 654.5,260.0 655.4,256.7 656.4,253.7 657.3,251.2 658.3,249.2 659.2,247.9 660.2,247.2 661.1,247.2 662.1,247.9 663.0,249.8 664.0,252.6 665.0,256.4 665.9,261.0 666.9,266.0 667.8,271.3 668.8,276.7 669.7,282.0 670.7,287.0 671.6,291.7 672.6,295.8 673.5,299.5 674.5,302.5 675.4,305.1 676.4,307.2 677.3,308.9 678.3,310.2 679.2,311.2 680.2,311.9 681.2,312.5 682.1,312.9 683.1,313.2 684.0,313.4 685.0,313.5 685.9,313.6 686.9,313.7 687.8,313.8 688.8,313.8 689.7,313.9 690.7,313.9 691.6,314.0 692.6,314.0 693.5,314.0 694.5,314.1 695.5,314.1 696.4,314.1 697.4,314.2 698.3,314.2 699.3,314.2 700.2,314.3 701.2,314.3 702.1,314.3 703.1,314.4 704.0,314.4 705.0,314.4 705.9,314.5 706.9,314.5 707.8,314.5 708.8,314.6 709.7,314.6 710.7,314.6 711.7,314.7 712.6,314.7 713.6,314.7 714.5,314.8 715.5,314.8 716.4,314.8 717.4,314.9 718.3,314.9 719.3,314.9 720.2,315.0 721.2,315.0 722.1,315.0 723.1,315.1 724.0,315.1 725.0,315.1 725.9,315.2 726.9,315.2" fill="none" stroke="#1f8f1f" stroke-width="0.75" stroke-opacity="0.8"/>
<path d="M546.7,310.5 548.5,306.6 550.3,301.9 552.1,302.2 554.5,302.6 556.3,302.7 557.3,302.7 558.2,302.6 559.2,302.6 560.1,302.6 561.1,302.5 562.0,302.5 563.0,302.5 563.9,302.4 564.9,302.4 565.8,302.4 566.8,302.3 567.7,302.3 568.7,302.3 569.7,302.2 570.6,302.2 571.6,302.2 572.5,302.1 573.5,302.1 574.4,302.1 575.4,302.0 576.3,302.0 577.3,302.0 578.2,302.0 579.2,301.9 580.1,301.9 581.1,301.9 582.0,301.9 583.0,301.8 583.9,301.8 584.9,301.8 585.9,301.8 586.8,301.7 587.8,301.7 588.7,301.7 589.7,301.7 590.6,301.7 591.6,301.7 592.5,301.7 593.5,301.6 594.4,301.6 595.4,301.6 596.3,301.6 597.3,301.6 598.2,301.6 599.2,301.6 600.1,301.6 601.1,301.6 602.1,301.6 603.0,301.6 604.0,301.6 604.9,301.6 605.9,301.6 606.8,301.6 607.8,301.6 608.7,301.6 609.7,301.6 610.6,301.6 611.6,301.6 612.5,301.6 613.5,301.6 614.4,301.6 615.4,301.6 616.4,301.6 617.3,301.6 618.3,301.6 619.2,301.6 620.2,301.6 621.1,301.6 622.1,301.7 623.0,301.7 624.0,301.7 624.9,301.7 625.9,301.7 626.8,301.7 627.8,301.7 628.7,301.6 629.7,301.6 630.6,301.5 631.6,301.4 632.6,301.3 633.5,301.1 634.5,300.9 635.4,300.6 636.4,300.2 637.3,299.6 638.3,299.0 639.2,298.1 640.2,297.1 641.1,295.9 642.1,294.4 643.0,292.6 644.0,290.6 644.9,288.2 645.9,285.6 646.8,282.7 647.8,279.5 648.8,276.1 649.7,272.5 650.7,268.8 651.6,265.0 652.6,261.3 653.5,257.8 654.5,254.6 655.4,251.7 656.4,249.3 657.3,247.5 658.3,246.3 659.2,245.7 660.2,245.9 661.1,246.9 662.1,249.0 663.0,252.2 664.0,256.2 665.0,260.9 665.9,266.1 666.9,271.5 667.8,277.0 668.8,282.3 669.7,287.4 670.7,292.0 671.6,296.1 672.6,299.7 673.5,302.8 674.5,305.3 675.4,307.4 676.4,309.0 677.3,310.3 678.3,311.2 679.2,312.0 680.2,312.5 681.2,312.9 682.1,313.2 683.1,313.4 684.0,313.5 685.0,313.6 685.9,313.7 686.9,313.8 687.8,313.8 688.8,313.9 689.7,313.9 690.7,313.9 691.6,314.0 692.6,314.0 693.5,314.0 694.5,314.1 695.5,314.1 696.4,314.1 697.4,314.2 698.3,314.2 699.3,314.2 700.2,314.3 701.2,314.3 702.1,314.3 703.1,314.4 704.0,314.4 705.0,314.4 705.9,314.5 706.9,314.5 707.8,314.5 708.8,314.6 709.7,314.6 710.7,314.6 711.7,314.7 712.6,314.7 713.6,314.7 714.5,314.8 715.5,314.8 716.4,314.8 717.4,314.9 718.3,314.9 719.3,314.9 720.2,315.0 721.2,315.0 722.1,315.0 723.1,315.1 724.0,315.1 725.0,315.1 725.9,315.2 726.9,315.2" fill="none" stroke="#1f8f1f" stroke-width="0.75" stroke-opacity="0.8"/>
<path d="M546.7,310.5 548.5,306.6 550.3,303.1 552.1,303.3 554.5,303.7 556.3,303.8 557.3,303.8 558.2,303.8 559.2,303.7 560.1,303.7 561.1,303.7 562.0,303.6 563.0,303.6 563.9,303.6 564.9,303.5 565.8,303.5 566.8,303.4 567.7,303.4 568.7,303.4 569.7,303.3 570.6,303.3 571.6,303.3 572.5,303.3 573.5,303.2 574.4,303.2 575.4,303.2 576.3,303.1 577.3,303.1 578.2,303.1 579.2,303.1 580.1,303.0 581.1,303.0 582.0,303.0 583.0,303.0 583.9,302.9 584.9,302.9 585.9,302.9 586.8,302.9 587.8,302.9 588.7,302.8 589.7,302.8 590.6,302.8 591.6,302.8 592.5,302.8 593.5,302.8 594.4,302.8 595.4,302.7 596.3,302.7 597.3,302.7 598.2,302.7 599.2,302.7 600.1,302.7 601.1,302.7 602.1,302.7 603.0,302.7 604.0,302.7 604.9,302.7 605.9,302.7 606.8,302.7 607.8,302.7 608.7,302.7 609.7,302.7 610.6,302.7 611.6,302.7 612.5,302.7 613.5,302.7 614.4,302.7 615.4,302.7 616.4,302.7 617.3,302.7 618.3,302.8 619.2,302.8 620.2,302.8 621.1,302.8 622.1,302.8 623.0,302.8 624.0,302.8 624.9,302.8 625.9,302.8 626.8,302.8 627.8,302.8 628.7,302.8 629.7,302.8 630.6,302.7 631.6,302.6 632.6,302.5 633.5,302.4 634.5,302.2 635.4,301.9 636.4,301.6 637.3,301.1 638.3,300.5 639.2,299.7 640.2,298.8 641.1,297.7 642.1,296.3 643.0,294.6 644.0,292.7 644.9,290.4 645.9,287.9 646.8,285.0 647.8,281.8 648.8,278.4 649.7,274.7 650.7,270.8 651.6,266.8 652.6,262.8 653.5,258.9 654.5,255.2 655.4,251.8 656.4,248.8 657.3,246.3 658.3,244.4 659.2,243.2 660.2,242.7 661.1,242.9 662.1,244.2 663.0,246.5 664.0,250.0 665.0,254.4 665.9,259.4 666.9,264.9 667.8,270.7 668.8,276.4 669.7,282.0 670.7,287.2 671.6,291.9 672.6,296.2 673.5,299.8 674.5,302.9 675.4,305.5 676.4,307.5 677.3,309.1 678.3,310.4 679.2,311.3 680.2,312.0 681.2,312.6 682.1,312.9 683.1,313.2 684.0,313.4 685.0,313.5 685.9,313.6 686.9,313.7 687.8,313.8 688.8,313.8 689.7,313.9 690.7,313.9 691.6,314.0 692.6,314.0 693.5,314.0 694.5,314.1 695.5,314.1 696.4,314.1 697.4,314.2 698.3,314.2 699.3,314.2 700.2,314.3 701.2,314.3 702.1,314.3 703.1,314.4 704.0,314.4 705.0,314.4 705.9,314.5 706.9,314.5 707.8,314.5 708.8,314.6 709.7,314.6 710.7,314.6 711.7,314.7 712.6,314.7 713.6,314.7 714.5,314.8 715.5,314.8 716.4,314.8 717.4,314.9 718.3,314.9 719.3,314.9 720.2,315.0 721.2,315.0 722.1,315.0 723.1,315.1 724.0,315.1 725.0,315.1 725.9,315.2 726.9,315.2" fill="none" stroke="#1f8f1f" stroke-width="0.75" stroke-opacity="0.8"/>
<path d="M546.7,310.5 548.5,306.6 550.3,301.5 552.1,301.8 554.5,302.2 556.3,302.3 557.3,302.3 558.2,302.3 559.2,302.2 560.1,302.2 561.1,302.2 562.0,302.1 563.0,302.1 563.9,302.1 564.9,302.0 565.8,302.0 566.8,301.9 567.7,301.9 568.7,301.9 569.7,301.8 570.6,301.8 571.6,301.8 572.5,301.7 573.5,301.7 574.4,301.7 575.4,301.7 576.3,301.6 577.3,301.6 578.2,301.6 579.2,301.6 580.1,301.5 581.1,301.5 582.0,301.5 583.0,301.5 583.9,301.4 584.9,301.4 585.9,301.4 586.8,301.4 587.8,301.4 588.7,301.3 589.7,301.3 590.6,301.3 591.6,301.3 592.5,301.3 593.5,301.3 594.4,301.2 595.4,301.2 596.3,301.2 597.3,301.2 598.2,301.2 599.2,301.2 600.1,301.2 601.1,301.2 602.1,301.2 603.0,301.2 604.0,301.2 604.9,301.2 605.9,301.2 606.8,301.2 607.8,301.2 608.7,301.2 609.7,301.2 610.6,301.2 611.6,301.2 612.5,301.2 613.5,301.2 614.4,301.2 615.4,301.2 616.4,301.2 617.3,301.2 618.3,301.2 619.2,301.3 620.2,301.3 621.1,301.3 622.1,301.3 623.0,301.3 624.0,301.3 624.9,301.3 625.9,301.3 626.8,301.3 627.8,301.3 628.7,301.2 629.7,301.2 630.6,301.1 631.6,301.0 632.6,300.8 633.5,300.6 634.5,300.3 635.4,299.9 636.4,299.5 637.3,298.8 638.3,298.0 639.2,297.1 640.2,295.9 641.1,294.4 642.1,292.7 643.0,290.7 644.0,288.4 644.9,285.7 645.9,282.8 646.8,279.5 647.8,275.9 648.8,272.2 649.7,268.2 650.7,264.2 651.6,260.2 652.6,256.3 653.5,252.5 654.5,249.2 655.4,246.2 656.4,243.8 657.3,242.1 658.3,241.0 659.2,240.7 660.2,241.2 661.1,242.7 662.1,245.3 663.0,249.1 664.0,253.7 665.0,259.0 665.9,264.7 666.9,270.6 667.8,276.4 668.8,282.1 669.7,287.3 670.7,292.1 671.6,296.4 672.6,300.0 673.5,303.1 674.5,305.6 675.4,307.6 676.4,309.2 677.3,310.5 678.3,311.4 679.2,312.1 680.2,312.6 681.2,313.0 682.1,313.2 683.1,313.4 684.0,313.5 685.0,313.6 685.9,313.7 686.9,313.8 687.8,313.8 688.8,313.9 689.7,313.9 690.7,314.0 691.6,314.0 692.6,314.0 693.5,314.1 694.5,314.1 695.5,314.1 696.4,314.2 697.4,314.2 698.3,314.2 699.3,314.3 700.2,314.3 701.2,314.3 702.1,314.4 703.1,314.4 704.0,314.4 705.0,314.4 705.9,314.5 706.9,314.5 707.8,314.5 708.8,314.6 709.7,314.6 710.7,314.6 711.7,314.7 712.6,314.7 713.6,314.7 714.5,314.8 715.5,314.8 716.4,314.8 717.4,314.9 718.3,314.9 719.3,314.9 720.2,315.0 721.2,315.0 722.1,315.0 723.1,315.1 724.0,315.1 725.0,315.1 725.9,315.2 726.9,315.2" fill="none" stroke="#1f8f1f" stroke-width="0.75" stroke-opacity="0.8"/>
<path d="M546.7,310.5 548.5,306.6 550.3,302.7 552.1,303.0 554.5,303.3 556.3,303.5 557.3,303.4 558.2,303.4 559.2,303.4 560.1,303.3 561.1,303.3 562.0,303.2 563.0,303.2 563.9,303.2 564.9,303.1 565.8,303.1 566.8,303.1 567.7,303.0 568.7,303.0 569.7,303.0 570.6,302.9 571.6,302.9 572.5,302.9 573.5,302.8 574.4,302.8 575.4,302.8 576.3,302.8 577.3,302.7 578.2,302.7 579.2,302.7 580.1,302.7 581.1,302.6 582.0,302.6 583.0,302.6 583.9,302.6 584.9,302.5 585.9,302.5 586.8,302.5 587.8,302.5 588.7,302.5 589.7,302.4 590.6,302.4 591.6,302.4 592.5,302.4 593.5,302.4 594.4,302.4 595.4,302.4 596.3,302.4 597.3,302.3 598.2,302.3 599.2,302.3 600.1,302.3 601.1,302.3 602.1,302.3 603.0,302.3 604.0,302.3 604.9,302.3 605.9,302.3 606.8,302.3 607.8,302.3 608.7,302.3 609.7,302.3 610.6,302.3 611.6,302.3 612.5,302.3 613.5,302.3 614.4,302.3 615.4,302.3 616.4,302.4 617.3,302.4 618.3,302.4 619.2,302.4 620.2,302.4 621.1,302.4 622.1,302.4 623.0,302.4 624.0,302.4 624.9,302.4 625.9,302.4 626.8,302.4 627.8,302.4 628.7,302.4 629.7,302.4 630.6,302.3 631.6,302.2 632.6,302.1 633.5,301.9 634.5,301.7 635.4,301.4 636.4,300.9 637.3,300.4 638.3,299.7 639.2,298.9 640.2,297.8 641.1,296.5 642.1,295.0 643.0,293.1 644.0,291.0 644.9,288.5 645.9,285.7 646.8,282.6 647.8,279.1 648.8,275.4 649.7,271.5 650.7,267.4 651.6,263.2 652.6,259.1 653.5,255.0 654.5,251.2 655.4,247.8 656.4,244.9 657.3,242.5 658.3,240.8 659.2,239.8 660.2,239.6 661.1,240.1 662.1,241.9 663.0,244.8 664.0,248.8 665.0,253.7 665.9,259.1 666.9,265.0 667.8,271.0 668.8,277.0 669.7,282.7 670.7,288.0 671.6,292.7 672.6,296.9 673.5,300.5 674.5,303.5 675.4,306.0 676.4,307.9 677.3,309.5 678.3,310.6 679.2,311.5 680.2,312.2 681.2,312.7 682.1,313.0 683.1,313.3 684.0,313.4 685.0,313.6 685.9,313.7 686.9,313.7 687.8,313.8 688.8,313.9 689.7,313.9 690.7,313.9 691.6,314.0 692.6,314.0 693.5,314.0 694.5,314.1 695.5,314.1 696.4,314.1 697.4,314.2 698.3,314.2 699.3,314.2 700.2,314.3 701.2,314.3 702.1,314.3 703.1,314.4 704.0,314.4 705.0,314.4 705.9,314.5 706.9,314.5 707.8,314.5 708.8,314.6 709.7,314.6 710.7,314.6 711.7,314.7 712.6,314.7 713.6,314.7 714.5,314.8 715.5,314.8 716.4,314.8 717.4,314.9 718.3,314.9 719.3,314.9 720.2,315.0 721.2,315.0 722.1,315.0 723.1,315.1 724.0,315.1 725.0,315.1 725.9,315.2 726.9,315.2" fill="none" stroke="#1f8f1f" stroke-width="0.75" stroke-opacity="0.8"/>
<path d="M546.7,310.5 548.5,306.6 550.3,303.8 552.1,304.1 554.5,304.5 556.3,304.6 557.3,304.6 558.2,304.5 559.2,304.5 560.1,304.5 561.1,304.4 562.0,304.4 563.0,304.3 563.9,304.3 564.9,304.3 565.8,304.2 566.8,304.2 567.7,304.2 568.7,304.1 569.7,304.1 570.6,304.1 571.6,304.0 572.5,304.0 573.5,304.0 574.4,303.9 575.4,303.9 576.3,303.9 577.3,303.9 578.2,303.8 579.2,303.8 580.1,303.8 581.1,303.8 582.0,303.7 583.0,303.7 583.9,303.7 584.9,303.7 585.9,303.6 586.8,303.6 587.8,303.6 588.7,303.6 589.7,303.6 590.6,303.6 591.6,303.5 592.5,303.5 593.5,303.5 594.4,303.5 595.4,303.5 596.3,303.5 597.3,303.5 598.2,303.5 599.2,303.5 600.1,303.5 601.1,303.5 602.1,303.5 603.0,303.4 604.0,303.4 604.9,303.4 605.9,303.4 606.8,303.4 607.8,303.4 608.7,303.4 609.7,303.4 610.6,303.5 611.6,303.5 612.5,303.5 613.5,303.5 614.4,303.5 615.4,303.5 616.4,303.5 617.3,303.5 618.3,303.5 619.2,303.5 620.2,303.5 621.1,303.5 622.1,303.5 623.0,303.6 624.0,303.6 624.9,303.6 625.9,303.6 626.8,303.6 627.8,303.6 628.7,303.6 629.7,303.5 630.6,303.5 631.6,303.4 632.6,303.3 633.5,303.2 634.5,303.0 635.4,302.7 636.4,302.4 637.3,301.9 638.3,301.3 639.2,300.6 640.2,299.6 641.1,298.5 642.1,297.1 643.0,295.4 644.0,293.4 644.9,291.1 645.9,288.4 646.8,285.4 647.8,282.1 648.8,278.5 649.7,274.5 650.7,270.4 651.6,266.1 652.6,261.8 653.5,257.4 654.5,253.3 655.4,249.4 656.4,245.9 657.3,242.9 658.3,240.5 659.2,238.8 660.2,237.9 661.1,237.8 662.1,238.5 663.0,240.5 664.0,243.8 665.0,248.1 665.9,253.2 666.9,258.9 667.8,265.0 668.8,271.2 669.7,277.3 670.7,283.1 671.6,288.4 672.6,293.2 673.5,297.3 674.5,300.9 675.4,303.9 676.4,306.3 677.3,308.2 678.3,309.7 679.2,310.8 680.2,311.7 681.2,312.3 682.1,312.7 683.1,313.1 684.0,313.3 685.0,313.5 685.9,313.6 686.9,313.7 687.8,313.8 688.8,313.8 689.7,313.9 690.7,313.9 691.6,314.0 692.6,314.0 693.5,314.0 694.5,314.1 695.5,314.1 696.4,314.1 697.4,314.2 698.3,314.2 699.3,314.2 700.2,314.3 701.2,314.3 702.1,314.3 703.1,314.4 704.0,314.4 705.0,314.4 705.9,314.5 706.9,314.5 707.8,314.5 708.8,314.6 709.7,314.6 710.7,314.6 711.7,314.7 712.6,314.7 713.6,314.7 714.5,314.8 715.5,314.8 716.4,314.8 717.4,314.9 718.3,314.9 719.3,314.9 720.2,315.0 721.2,315.0 722.1,315.0 723.1,315.1 724.0,315.1 725.0,315.1 725.9,315.2 726.9,315.2" fill="none" stroke="#1f8f1f" stroke-width="0.75" stroke-opacity="0.8"/>
<path d="M546.7,310.5 548.5,306.6 550.3,302.3 552.1,302.6 554.5,303.0 556.3,303.1 557.3,303.1 558.2,303.0 559.2,303.0 560.1,302.9 561.1,302.9 562.0,302.9 563.0,302.8 563.9,302.8 564.9,302.8 565.8,302.7 566.8,302.7 567.7,302.7 568.7,302.6 569.7,302.6 570.6,302.6 571.6,302.5 572.5,302.5 573.5,302.5 574.4,302.4 575.4,302.4 576.3,302.4 577.3,302.4 578.2,302.3 579.2,302.3 580.1,302.3 581.1,302.3 582.0,302.2 583.0,302.2 583.9,302.2 584.9,302.2 585.9,302.1 586.8,302.1 587.8,302.1 588.7,302.1 589.7,302.1 590.6,302.1 591.6,302.0 592.5,302.0 593.5,302.0 594.4,302.0 595.4,302.0 596.3,302.0 597.3,302.0 598.2,302.0 599.2,302.0 600.1,302.0 601.1,301.9 602.1,301.9 603.0,301.9 604.0,301.9 604.9,301.9 605.9,301.9 606.8,301.9 607.8,301.9 608.7,301.9 609.7,301.9 610.6,301.9 611.6,301.9 612.5,302.0 613.5,302.0 614.4,302.0 615.4,302.0 616.4,302.0 617.3,302.0 618.3,302.0 619.2,302.0 620.2,302.0 621.1,302.0 622.1,302.0 623.0,302.0 624.0,302.0 624.9,302.0 625.9,302.0 626.8,302.0 627.8,302.0 628.7,302.0 629.7,301.9 630.6,301.9 631.6,301.8 632.6,301.6 633.5,301.4 634.5,301.1 635.4,300.8 636.4,300.3 637.3,299.7 638.3,298.9 639.2,297.9 640.2,296.7 641.1,295.3 642.1,293.5 643.0,291.5 644.0,289.1 644.9,286.4 645.9,283.4 646.8,280.0 647.8,276.3 648.8,272.3 649.7,268.1 650.7,263.8 651.6,259.5 652.6,255.2 653.5,251.0 654.5,247.2 655.4,243.8 656.4,241.0 657.3,238.7 658.3,237.2 659.2,236.5 660.2,236.5 661.1,237.5 662.1,239.8 663.0,243.3 664.0,247.9 665.0,253.2 665.9,259.1 666.9,265.3 667.8,271.6 668.8,277.7 669.7,283.5 670.7,288.8 671.6,293.6 672.6,297.7 673.5,301.2 674.5,304.1 675.4,306.5 676.4,308.3 677.3,309.8 678.3,310.9 679.2,311.7 680.2,312.3 681.2,312.8 682.1,313.1 683.1,313.3 684.0,313.5 685.0,313.6 685.9,313.7 686.9,313.8 687.8,313.8 688.8,313.9 689.7,313.9 690.7,313.9 691.6,314.0 692.6,314.0 693.5,314.0 694.5,314.1 695.5,314.1 696.4,314.1 697.4,314.2 698.3,314.2 699.3,314.2 700.2,314.3 701.2,314.3 702.1,314.3 703.1,314.4 704.0,314.4 705.0,314.4 705.9,314.5 706.9,314.5 707.8,314.5 708.8,314.6 709.7,314.6 710.7,314.6 711.7,314.7 712.6,314.7 713.6,314.7 714.5,314.8 715.5,314.8 716.4,314.8 717.4,314.9 718.3,314.9 719.3,314.9 720.2,315.0 721.2,315.0 722.1,315.0 723.1,315.1 724.0,315.1 725.0,315.1 725.9,315.2 726.9,315.2" fill="none" stroke="#1f8f1f" stroke-width="0.75" stroke-opacity="0.8"/>
<path d="M546.7,310.5 548.5,306.6 550.3,303.4 552.1,303.7 554.5,304.1 556.3,304.2 557.3,304.2 558.2,304.1 559.2,304.1 560.1,304.1 561.1,304.0 562.0,304.0 563.0,304.0 563.9,303.9 564.9,303.9 565.8,303.9 566.8,303.8 567.7,303.8 568.7,303.8 569.7,303.7 570.6,303.7 571.6,303.7 572.5,303.6 573.5,303.6 574.4,303.6 575.4,303.5 576.3,303.5 577.3,303.5 578.2,303.5 579.2,303.4 580.1,303.4 581.1,303.4 582.0,303.4 583.0,303.3 583.9,303.3 584.9,303.3 585.9,303.3 586.8,303.3 587.8,303.2 588.7,303.2 589.7,303.2 590.6,303.2 591.6,303.2 592.5,303.2 593.5,303.1 594.4,303.1 595.4,303.1 596.3,303.1 597.3,303.1 598.2,303.1 599.2,303.1 600.1,303.1 601.1,303.1 602.1,303.1 603.0,303.1 604.0,303.1 604.9,303.1 605.9,303.1 606.8,303.1 607.8,303.1 608.7,303.1 609.7,303.1 610.6,303.1 611.6,303.1 612.5,303.1 613.5,303.1 614.4,303.1 615.4,303.1 616.4,303.1 617.3,303.1 618.3,303.1 619.2,303.1 620.2,303.1 621.1,303.2 622.1,303.2 623.0,303.2 624.0,303.2 624.9,303.2 625.9,303.2 626.8,303.2 627.8,303.2 628.7,303.2 629.7,303.1 630.6,303.1 631.6,303.0 632.6,302.9 633.5,302.7 634.5,302.5 635.4,302.2 636.4,301.8 637.3,301.2 638.3,300.6 639.2,299.7 640.2,298.7 641.1,297.4 642.1,295.8 643.0,294.0 644.0,291.8 644.9,289.3 645.9,286.4 646.8,283.2 647.8,279.6 648.8,275.7 649.7,271.6 650.7,267.3 651.6,262.8 652.6,258.3 653.5,253.9 654.5,249.7 655.4,245.8 656.4,242.4 657.3,239.5 658.3,237.3 659.2,235.9 660.2,235.3 661.1,235.4 662.1,236.7 663.0,239.3 664.0,243.0 665.0,247.8 665.9,253.4 666.9,259.5 667.8,265.9 668.8,272.2 669.7,278.4 670.7,284.2 671.6,289.5 672.6,294.2 673.5,298.3 674.5,301.7 675.4,304.5 676.4,306.8 677.3,308.6 678.3,310.0 679.2,311.1 680.2,311.9 681.2,312.4 682.1,312.9 683.1,313.2 684.0,313.4 685.0,313.5 685.9,313.6 686.9,313.7 687.8,313.8 688.8,313.8 689.7,313.9 690.7,313.9 691.6,314.0 692.6,314.0 693.5,314.0 694.5,314.1 695.5,314.1 696.4,314.1 697.4,314.2 698.3,314.2 699.3,314.2 700.2,314.3 701.2,314.3 702.1,314.3 703.1,314.4 704.0,314.4 705.0,314.4 705.9,314.5 706.9,314.5 707.8,314.5 708.8,314.6 709.7,314.6 710.7,314.6 711.7,314.7 712.6,314.7 713.6,314.7 714.5,314.8 715.5,314.8 716.4,314.8 717.4,314.9 718.3,314.9 719.3,314.9 720.2,315.0 721.2,315.0 722.1,315.0 723.1,315.1 724.0,315.1 725.0,315.1 725.9,315.2 726.9,315.2" fill="none" stroke="#1f8f1f" stroke-width="0.75" stroke-opacity="0.8"/>
<path d="M546.7,310.5 548.5,306.6 550.3,301.9 552.1,302.2 554.5,302.6 556.3,302.7 557.3,302.7 558.2,302.6 559.2,302.6 560.1,302.6 561.1,302.5 562.0,302.5 563.0,302.5 563.9,302.4 564.9,302.4 565.8,302.4 566.8,302.3 567.7,302.3 568.7,302.3 569.7,302.2 570.6,302.2 571.6,302.2 572.5,302.1 573.5,302.1 574.4,302.1 575.4,302.0 576.3,302.0 577.3,302.0 578.2,302.0 579.2,301.9 580.1,301.9 581.1,301.9 582.0,301.9 583.0,301.8 583.9,301.8 584.9,301.8 585.9,301.8 586.8,301.7 587.8,301.7 588.7,301.7 589.7,301.7 590.6,301.7 591.6,301.7 592.5,301.6 593.5,301.6 594.4,301.6 595.4,301.6 596.3,301.6 597.3,301.6 598.2,301.6 599.2,301.6 600.1,301.6 601.1,301.6 602.1,301.6 603.0,301.6 604.0,301.6 604.9,301.6 605.9,301.6 606.8,301.6 607.8,301.6 608.7,301.6 609.7,301.6 610.6,301.6 611.6,301.6 612.5,301.6 613.5,301.6 614.4,301.6 615.4,301.6 616.4,301.6 617.3,301.6 618.3,301.6 619.2,301.6 620.2,301.6 621.1,301.6 622.1,301.7 623.0,301.7 624.0,301.7 624.9,301.7 625.9,301.7 626.8,301.6 627.8,301.6 628.7,301.6 629.7,301.5 630.6,301.4 631.6,301.3 632.6,301.1 633.5,300.9 634.5,300.6 635.4,300.2 636.4,299.6 637.3,298.9 638.3,298.0 639.2,297.0 640.2,295.6 641.1,294.0 642.1,292.1 643.0,289.9 644.0,287.3 644.9,284.4 645.9,281.1 646.8,277.5 647.8,273.5 648.8,269.3 649.7,265.0 650.7,260.5 651.6,256.0 652.6,251.6 653.5,247.5 654.5,243.7 655.4,240.3 656.4,237.6 657.3,235.6 658.3,234.3 659.2,233.9 660.2,234.3 661.1,235.8 662.1,238.7 663.0,242.7 664.0,247.7 665.0,253.5 665.9,259.7 666.9,266.2 667.8,272.7 668.8,278.9 669.7,284.7 670.7,289.9 671.6,294.6 672.6,298.6 673.5,302.0 674.5,304.8 675.4,307.0 676.4,308.8 677.3,310.1 678.3,311.2 679.2,311.9 680.2,312.5 681.2,312.9 682.1,313.2 683.1,313.4 684.0,313.5 685.0,313.6 685.9,313.7 686.9,313.8 687.8,313.8 688.8,313.9 689.7,313.9 690.7,314.0 691.6,314.0 692.6,314.0 693.5,314.1 694.5,314.1 695.5,314.1 696.4,314.2 697.4,314.2 698.3,314.2 699.3,314.3 700.2,314.3 701.2,314.3 702.1,314.4 703.1,314.4 704.0,314.4 705.0,314.4 705.9,314.5 706.9,314.5 707.8,314.5 708.8,314.6 709.7,314.6 710.7,314.6 711.7,314.7 712.6,314.7 713.6,314.7 714.5,314.8 715.5,314.8 716.4,314.8 717.4,314.9 718.3,314.9 719.3,314.9 720.2,315.0 721.2,315.0 722.1,315.0 723.1,315.1 724.0,315.1 725.0,315.1 725.9,315.2 726.9,315.2" fill="none" stroke="#1f8f1f" stroke-width="0.75" stroke-opacity="0.8"/>
<path d="M546.7,310.5 548.5,306.6 550.3,303.1 552.1,303.3 554.5,303.7 556.3,303.8 557.3,303.8 558.2,303.8 559.2,303.7 560.1,303.7 561.1,303.7 562.0,303.6 563.0,303.6 563.9,303.6 564.9,303.5 565.8,303.5 566.8,303.4 567.7,303.4 568.7,303.4 569.7,303.3 570.6,303.3 571.6,303.3 572.5,303.3 573.5,303.2 574.4,303.2 575.4,303.2 576.3,303.1 577.3,303.1 578.2,303.1 579.2,303.1 580.1,303.0 581.1,303.0 582.0,303.0 583.0,303.0 583.9,302.9 584.9,302.9 585.9,302.9 586.8,302.9 587.8,302.9 588.7,302.8 589.7,302.8 590.6,302.8 591.6,302.8 592.5,302.8 593.5,302.8 594.4,302.8 595.4,302.7 596.3,302.7 597.3,302.7 598.2,302.7 599.2,302.7 600.1,302.7 601.1,302.7 602.1,302.7 603.0,302.7 604.0,302.7 604.9,302.7 605.9,302.7 606.8,302.7 607.8,302.7 608.7,302.7 609.7,302.7 610.6,302.7 611.6,302.7 612.5,302.7 613.5,302.7 614.4,302.7 615.4,302.7 616.4,302.7 617.3,302.7 618.3,302.7 619.2,302.8 620.2,302.8 621.1,302.8 622.1,302.8 623.0,302.8 624.0,302.8 624.9,302.8 625.9,302.8 626.8,302.8 627.8,302.8 628.7,302.8 629.7,302.7 630.6,302.6 631.6,302.5 632.6,302.4 633.5,302.2 634.5,302.0 635.4,301.6 636.4,301.2 637.3,300.6 638.3,299.8 639.2,298.9 640.2,297.7 641.1,296.3 642.1,294.6 643.0,292.6 644.0,290.2 644.9,287.5 645.9,284.4 646.8,281.0 647.8,277.2 648.8,273.1 649.7,268.8 650.7,264.3 651.6,259.7 652.6,255.2 653.5,250.7 654.5,246.5 655.4,242.7 656.4,239.4 657.3,236.8 658.3,234.8 659.2,233.7 660.2,233.3 661.1,233.9 662.1,235.7 663.0,238.8 664.0,243.1 665.0,248.4 665.9,254.3 666.9,260.7 667.8,267.2 668.8,273.7 669.7,279.9 670.7,285.6 671.6,290.8 672.6,295.4 673.5,299.3 674.5,302.6 675.4,305.3 676.4,307.4 677.3,309.1 678.3,310.4 679.2,311.4 680.2,312.1 681.2,312.6 682.1,313.0 683.1,313.2 684.0,313.4 685.0,313.6 685.9,313.7 686.9,313.7 687.8,313.8 688.8,313.8 689.7,313.9 690.7,313.9 691.6,314.0 692.6,314.0 693.5,314.0 694.5,314.1 695.5,314.1 696.4,314.1 697.4,314.2 698.3,314.2 699.3,314.2 700.2,314.3 701.2,314.3 702.1,314.3 703.1,314.4 704.0,314.4 705.0,314.4 705.9,314.5 706.9,314.5 707.8,314.5 708.8,314.6 709.7,314.6 710.7,314.6 711.7,314.7 712.6,314.7 713.6,314.7 714.5,314.8 715.5,314.8 716.4,314.8 717.4,314.9 718.3,314.9 719.3,314.9 720.2,315.0 721.2,315.0 722.1,315.0 723.1,315.1 724.0,315.1 725.0,315.1 725.9,315.2 726.9,315.2" fill="none" stroke="#1f8f1f" stroke-width="0.75" stroke-opacity="0.8"/>
<path d="M546.7,310.5 548.5,306.6 550.3,301.5 552.1,301.8 554.5,302.2 556.3,302.3 557.3,302.3 558.2,302.3 559.2,302.2 560.1,302.2 561.1,302.2 562.0,302.1 563.0,302.1 563.9,302.1 564.9,302.0 565.8,302.0 566.8,301.9 567.7,301.9 568.7,301.9 569.7,301.8 570.6,301.8 571.6,301.8 572.5,301.8 573.5,301.7 574.4,301.7 575.4,301.7 576.3,301.6 577.3,301.6 578.2,301.6 579.2,301.6 580.1,301.5 581.1,301.5 582.0,301.5 583.0,301.5 583.9,301.4 584.9,301.4 585.9,301.4 586.8,301.4 587.8,301.4 588.7,301.3 589.7,301.3 590.6,301.3 591.6,301.3 592.5,301.3 593.5,301.3 594.4,301.3 595.4,301.2 596.3,301.2 597.3,301.2 598.2,301.2 599.2,301.2 600.1,301.2 601.1,301.2 602.1,301.2 603.0,301.2 604.0,301.2 604.9,301.2 605.9,301.2 606.8,301.2 607.8,301.2 608.7,301.2 609.7,301.2 610.6,301.2 611.6,301.2 612.5,301.2 613.5,301.2 614.4,301.2 615.4,301.2 616.4,301.2 617.3,301.2 618.3,301.3 619.2,301.3 620.2,301.3 621.1,301.3 622.1,301.3 623.0,301.3 624.0,301.3 624.9,301.3 625.9,301.3 626.8,301.3 627.8,301.3 628.7,301.3 629.7,301.3 630.6,301.2 631.6,301.1 632.6,301.0 633.5,300.9 634.5,300.7 635.4,300.4 636.4,300.0 637.3,299.5 638.3,298.9 639.2,298.1 640.2,297.1 641.1,295.9 642.1,294.4 643.0,292.6 644.0,290.5 644.9,288.0 645.9,285.2 646.8,282.0 647.8,278.5 648.8,274.6 649.7,270.5 650.7,266.1 651.6,261.5 652.6,256.9 653.5,252.4 654.5,248.0 655.4,243.9 656.4,240.2 657.3,237.1 658.3,234.7 659.2,233.0 660.2,232.1 661.1,232.1 662.1,233.0 663.0,235.2 664.0,238.8 665.0,243.4 665.9,249.0 666.9,255.2 667.8,261.7 668.8,268.3 669.7,274.8 670.7,281.0 671.6,286.7 672.6,291.8 673.5,296.3 674.5,300.1 675.4,303.2 676.4,305.8 677.3,307.8 678.3,309.4 679.2,310.6 680.2,311.5 681.2,312.2 682.1,312.7 683.1,313.0 684.0,313.3 685.0,313.5 685.9,313.6 686.9,313.7 687.8,313.8 688.8,313.8 689.7,313.9 690.7,313.9 691.6,313.9 692.6,314.0 693.5,314.0 694.5,314.1 695.5,314.1 696.4,314.1 697.4,314.2 698.3,314.2 699.3,314.2 700.2,314.3 701.2,314.3 702.1,314.3 703.1,314.4 704.0,314.4 705.0,314.4 705.9,314.5 706.9,314.5 707.8,314.5 708.8,314.6 709.7,314.6 710.7,314.6 711.7,314.7 712.6,314.7 713.6,314.7 714.5,314.8 715.5,314.8 716.4,314.8 717.4,314.9 718.3,314.9 719.3,314.9 720.2,315.0 721.2,315.0 722.1,315.0 723.1,315.1 724.0,315.1 725.0,315.1 725.9,315.2 726.9,315.2" fill="none" stroke="#1f8f1f" stroke-width="0.75" stroke-opacity="0.8"/>
<path d="M546.7,310.5 548.5,306.6 550.3,302.7 552.1,303.0 554.5,303.3 556.3,303.5 557.3,303.4 558.2,303.4 559.2,303.4 560.1,303.3 561.1,303.3 562.0,303.2 563.0,303.2 563.9,303.2 564.9,303.1 565.8,303.1 566.8,303.1 567.7,303.0 568.7,303.0 569.7,303.0 570.6,302.9 571.6,302.9 572.5,302.9 573.5,302.8 574.4,302.8 575.4,302.8 576.3,302.8 577.3,302.7 578.2,302.7 579.2,302.7 580.1,302.7 581.1,302.6 582.0,302.6 583.0,302.6 583.9,302.6 584.9,302.5 585.9,302.5 586.8,302.5 587.8,302.5 588.7,302.5 589.7,302.4 590.6,302.4 591.6,302.4 592.5,302.4 593.5,302.4 594.4,302.4 595.4,302.4 596.3,302.4 597.3,302.3 598.2,302.3 599.2,302.3 600.1,302.3 601.1,302.3 602.1,302.3 603.0,302.3 604.0,302.3 604.9,302.3 605.9,302.3 606.8,302.3 607.8,302.3 608.7,302.3 609.7,302.3 610.6,302.3 611.6,302.3 612.5,302.3 613.5,302.3 614.4,302.3 615.4,302.3 616.4,302.4 617.3,302.4 618.3,302.4 619.2,302.4 620.2,302.4 621.1,302.4 622.1,302.4 623.0,302.4 624.0,302.4 624.9,302.4 625.9,302.4 626.8,302.4 627.8,302.4 628.7,302.4 629.7,302.3 630.6,302.2 631.6,302.1 632.6,301.9 633.5,301.7 634.5,301.4 635.4,301.0 636.4,300.5 637.3,299.8 638.3,299.0 639.2,297.9 640.2,296.6 641.1,295.0 642.1,293.1 643.0,290.9 644.0,288.3 644.9,285.3 645.9,282.0 646.8,278.3 647.8,274.2 648.8,269.9 649.7,265.3 650.7,260.6 651.6,255.8 652.6,251.1 653.5,246.6 654.5,242.4 655.4,238.6 656.4,235.4 657.3,232.9 658.3,231.2 659.2,230.3 660.2,230.3 661.1,231.3 662.1,233.7 663.0,237.5 664.0,242.3 665.0,248.1 665.9,254.4 666.9,261.2 667.8,268.0 668.8,274.6 669.7,280.9 670.7,286.7 671.6,291.8 672.6,296.3 673.5,300.1 674.5,303.3 675.4,305.9 676.4,307.9 677.3,309.5 678.3,310.7 679.2,311.6 680.2,312.2 681.2,312.7 682.1,313.1 683.1,313.3 684.0,313.5 685.0,313.6 685.9,313.7 686.9,313.8 687.8,313.8 688.8,313.9 689.7,313.9 690.7,313.9 691.6,314.0 692.6,314.0 693.5,314.0 694.5,314.1 695.5,314.1 696.4,314.1 697.4,314.2 698.3,314.2 699.3,314.2 700.2,314.3 701.2,314.3 702.1,314.3 703.1,314.4 704.0,314.4 705.0,314.4 705.9,314.5 706.9,314.5 707.8,314.5 708.8,314.6 709.7,314.6 710.7,314.6 711.7,314.7 712.6,314.7 713.6,314.7 714.5,314.8 715.5,314.8 716.4,314.8 717.4,314.9 718.3,314.9 719.3,314.9 720.2,315.0 721.2,315.0 722.1,315.0 723.1,315.1 724.0,315.1 725.0,315.1 725.9,315.2 726.9,315.2" fill="none" stroke="#1f8f1f" stroke-width="0.75" stroke-opacity="0.8"/>
<path d="M546.7,310.5 548.5,306.6 550.3,303.8 552.1,304.1 554.5,304.5 556.3,304.6 557.3,304.6 558.2,304.5 559.2,304.5 560.1,304.5 561.1,304.4 562.0,304.4 563.0,304.3 563.9,304.3 564.9,304.3 565.8,304.2 566.8,304.2 567.7,304.2 568.7,304.1 569.7,304.1 570.6,304.1 571.6,304.0 572.5,304.0 573.5,304.0 574.4,303.9 575.4,303.9 576.3,303.9 577.3,303.9 578.2,303.8 579.2,303.8 580.1,303.8 581.1,303.8 582.0,303.7 583.0,303.7 583.9,303.7 584.9,303.7 585.9,303.6 586.8,303.6 587.8,303.6 588.7,303.6 589.7,303.6 590.6,303.6 591.6,303.5 592.5,303.5 593.5,303.5 594.4,303.5 595.4,303.5 596.3,303.5 597.3,303.5 598.2,303.5 599.2,303.5 600.1,303.5 601.1,303.5 602.1,303.4 603.0,303.4 604.0,303.4 604.9,303.4 605.9,303.4 606.8,303.4 607.8,303.4 608.7,303.4 609.7,303.4 610.6,303.4 611.6,303.5 612.5,303.5 613.5,303.5 614.4,303.5 615.4,303.5 616.4,303.5 617.3,303.5 618.3,303.5 619.2,303.5 620.2,303.5 621.1,303.5 622.1,303.5 623.0,303.5 624.0,303.6 624.9,303.6 625.9,303.6 626.8,303.6 627.8,303.5 628.7,303.5 629.7,303.5 630.6,303.4 631.6,303.3 632.6,303.2 633.5,303.0 634.5,302.8 635.4,302.4 636.4,302.0 637.3,301.4 638.3,300.7 639.2,299.7 640.2,298.6 641.1,297.2 642.1,295.5 643.0,293.4 644.0,291.0 644.9,288.3 645.9,285.1 646.8,281.6 647.8,277.6 648.8,273.4 649.7,268.8 650.7,264.0 651.6,259.1 652.6,254.2 653.5,249.3 654.5,244.6 655.4,240.4 656.4,236.5 657.3,233.4 658.3,230.9 659.2,229.2 660.2,228.4 661.1,228.5 662.1,229.8 663.0,232.6 664.0,236.6 665.0,241.8 665.9,247.9 666.9,254.5 667.8,261.4 668.8,268.4 669.7,275.1 670.7,281.5 671.6,287.3 672.6,292.4 673.5,296.9 674.5,300.6 675.4,303.7 676.4,306.2 677.3,308.2 678.3,309.7 679.2,310.9 680.2,311.7 681.2,312.3 682.1,312.8 683.1,313.1 684.0,313.3 685.0,313.5 685.9,313.6 686.9,313.7 687.8,313.8 688.8,313.8 689.7,313.9 690.7,313.9 691.6,314.0 692.6,314.0 693.5,314.0 694.5,314.1 695.5,314.1 696.4,314.1 697.4,314.2 698.3,314.2 699.3,314.2 700.2,314.3 701.2,314.3 702.1,314.3 703.1,314.4 704.0,314.4 705.0,314.4 705.9,314.5 706.9,314.5 707.8,314.5 708.8,314.6 709.7,314.6 710.7,314.6 711.7,314.7 712.6,314.7 713.6,314.7 714.5,314.8 715.5,314.8 716.4,314.8 717.4,314.9 718.3,314.9 719.3,314.9 720.2,315.0 721.2,315.0 722.1,315.0 723.1,315.1 724.0,315.1 725.0,315.1 725.9,315.2 726.9,315.2" fill="none" stroke="#1f8f1f" stroke-width="0.75" stroke-opacity="0.8"/>
<path d="M546.7,310.5 548.5,306.6 550.3,302.3 552.1,302.6 554.5,303.0 556.3,303.1 557.3,303.1 558.2,303.0 559.2,303.0 560.1,302.9 561.1,302.9 562.0,302.9 563.0,302.8 563.9,302.8 564.9,302.8 565.8,302.7 566.8,302.7 567.7,302.7 568.7,302.6 569.7,302.6 570.6,302.6 571.6,302.5 572.5,302.5 573.5,302.5 574.4,302.4 575.4,302.4 576.3,302.4 577.3,302.4 578.2,302.3 579.2,302.3 580.1,302.3 581.1,302.3 582.0,302.2 583.0,302.2 583.9,302.2 584.9,302.2 585.9,302.1 586.8,302.1 587.8,302.1 588.7,302.1 589.7,302.1 590.6,302.1 591.6,302.0 592.5,302.0 593.5,302.0 594.4,302.0 595.4,302.0 596.3,302.0 597.3,302.0 598.2,302.0 599.2,302.0 600.1,301.9 601.1,301.9 602.1,301.9 603.0,301.9 604.0,301.9 604.9,301.9 605.9,301.9 606.8,301.9 607.8,301.9 608.7,301.9 609.7,301.9 610.6,301.9 611.6,301.9 612.5,301.9 613.5,302.0 614.4,302.0 615.4,302.0 616.4,302.0 617.3,302.0 618.3,302.0 619.2,302.0 620.2,302.0 621.1,302.0 622.1,302.0 623.0,302.0 624.0,302.0 624.9,302.0 625.9,302.0 626.8,302.0 627.8,302.0 628.7,301.9 629.7,301.9 630.6,301.8 631.6,301.6 632.6,301.4 633.5,301.2 634.5,300.8 635.4,300.4 636.4,299.8 637.3,299.0 638.3,298.0 639.2,296.8 640.2,295.4 641.1,293.6 642.1,291.5 643.0,289.1 644.0,286.3 644.9,283.0 645.9,279.4 646.8,275.4 647.8,271.1 648.8,266.5 649.7,261.7 650.7,256.7 651.6,251.8 652.6,247.0 653.5,242.4 654.5,238.1 655.4,234.5 656.4,231.4 657.3,229.1 658.3,227.6 659.2,227.1 660.2,227.4 661.1,229.0 662.1,232.0 663.0,236.4 664.0,241.8 665.0,248.0 665.9,254.8 666.9,261.9 667.8,268.9 668.8,275.7 669.7,282.0 670.7,287.8 671.6,292.9 672.6,297.3 673.5,301.0 674.5,304.0 675.4,306.4 676.4,308.4 677.3,309.8 678.3,311.0 679.2,311.8 680.2,312.4 681.2,312.8 682.1,313.1 683.1,313.4 684.0,313.5 685.0,313.6 685.9,313.7 686.9,313.8 687.8,313.8 688.8,313.9 689.7,313.9 690.7,314.0 691.6,314.0 692.6,314.0 693.5,314.1 694.5,314.1 695.5,314.1 696.4,314.2 697.4,314.2 698.3,314.2 699.3,314.3 700.2,314.3 701.2,314.3 702.1,314.4 703.1,314.4 704.0,314.4 705.0,314.4 705.9,314.5 706.9,314.5 707.8,314.5 708.8,314.6 709.7,314.6 710.7,314.6 711.7,314.7 712.6,314.7 713.6,314.7 714.5,314.8 715.5,314.8 716.4,314.8 717.4,314.9 718.3,314.9 719.3,314.9 720.2,315.0 721.2,315.0 722.1,315.0 723.1,315.1 724.0,315.1 725.0,315.1 725.9,315.2 726.9,315.2" fill="none" stroke="#1f8f1f" stroke-width="0.75" stroke-opacity="0.8"/>
<path d="M546.7,310.5 548.5,306.6 550.3,303.4 552.1,303.7 554.5,304.1 556.3,304.2 557.3,304.2 558.2,304.1 559.2,304.1 560.1,304.1 561.1,304.0 562.0,304.0 563.0,304.0 563.9,303.9 564.9,303.9 565.8,303.9 566.8,303.8 567.7,303.8 568.7,303.8 569.7,303.7 570.6,303.7 571.6,303.7 572.5,303.6 573.5,303.6 574.4,303.6 575.4,303.5 576.3,303.5 577.3,303.5 578.2,303.5 579.2,303.4 580.1,303.4 581.1,303.4 582.0,303.4 583.0,303.3 583.9,303.3 584.9,303.3 585.9,303.3 586.8,303.3 587.8,303.2 588.7,303.2 589.7,303.2 590.6,303.2 591.6,303.2 592.5,303.2 593.5,303.1 594.4,303.1 595.4,303.1 596.3,303.1 597.3,303.1 598.2,303.1 599.2,303.1 600.1,303.1 601.1,303.1 602.1,303.1 603.0,303.1 604.0,303.1 604.9,303.1 605.9,303.1 606.8,303.1 607.8,303.1 608.7,303.1 609.7,303.1 610.6,303.1 611.6,303.1 612.5,303.1 613.5,303.1 614.4,303.1 615.4,303.1 616.4,303.1 617.3,303.1 618.3,303.1 619.2,303.1 620.2,303.1 621.1,303.2 622.1,303.2 623.0,303.2 624.0,303.2 624.9,303.2 625.9,303.2 626.8,303.2 627.8,303.1 628.7,303.1 629.7,303.1 630.6,303.0 631.6,302.9 632.6,302.7 633.5,302.5 634.5,302.2 635.4,301.8 636.4,301.3 637.3,300.6 638.3,299.8 639.2,298.7 640.2,297.4 641.1,295.8 642.1,293.9 643.0,291.6 644.0,288.9 644.9,285.9 645.9,282.4 646.8,278.5 647.8,274.2 648.8,269.6 649.7,264.7 650.7,259.6 651.6,254.4 652.6,249.2 653.5,244.2 654.5,239.4 655.4,235.0 656.4,231.3 657.3,228.2 658.3,225.9 659.2,224.5 660.2,224.0 661.1,224.5 662.1,226.4 663.0,229.9 664.0,234.6 665.0,240.4 665.9,247.1 666.9,254.2 667.8,261.5 668.8,268.8 669.7,275.7 670.7,282.2 671.6,288.0 672.6,293.2 673.5,297.6 674.5,301.3 675.4,304.3 676.4,306.7 677.3,308.6 678.3,310.0 679.2,311.1 680.2,311.9 681.2,312.5 682.1,312.9 683.1,313.2 684.0,313.4 685.0,313.5 685.9,313.7 686.9,313.7 687.8,313.8 688.8,313.8 689.7,313.9 690.7,313.9 691.6,314.0 692.6,314.0 693.5,314.0 694.5,314.1 695.5,314.1 696.4,314.1 697.4,314.2 698.3,314.2 699.3,314.2 700.2,314.3 701.2,314.3 702.1,314.3 703.1,314.4 704.0,314.4 705.0,314.4 705.9,314.5 706.9,314.5 707.8,314.5 708.8,314.6 709.7,314.6 710.7,314.6 711.7,314.7 712.6,314.7 713.6,314.7 714.5,314.8 715.5,314.8 716.4,314.8 717.4,314.9 718.3,314.9 719.3,314.9 720.2,315.0 721.2,315.0 722.1,315.0 723.1,315.1 724.0,315.1 725.0,315.1 725.9,315.2 726.9,315.2" fill="none" stroke="#1f8f1f" stroke-width="0.75" stroke-opacity="0.8"/>
<path d="M546.7,310.5 548.5,306.6 550.3,301.9 552.1,302.2 554.5,302.6 556.3,302.7 557.3,302.7 558.2,302.6 559.2,302.6 560.1,302.6 561.1,302.5 562.0,302.5 563.0,302.5 563.9,302.4 564.9,302.4 565.8,302.4 566.8,302.3 567.7,302.3 568.7,302.3 569.7,302.2 570.6,302.2 571.6,302.2 572.5,302.1 573.5,302.1 574.4,302.1 575.4,302.0 576.3,302.0 577.3,302.0 578.2,302.0 579.2,301.9 580.1,301.9 581.1,301.9 582.0,301.9 583.0,301.8 583.9,301.8 584.9,301.8 585.9,301.8 586.8,301.8 587.8,301.7 588.7,301.7 589.7,301.7 590.6,301.7 591.6,301.7 592.5,301.7 593.5,301.6 594.4,301.6 595.4,301.6 596.3,301.6 597.3,301.6 598.2,301.6 599.2,301.6 600.1,301.6 601.1,301.6 602.1,301.6 603.0,301.6 604.0,301.6 604.9,301.6 605.9,301.6 606.8,301.6 607.8,301.6 608.7,301.6 609.7,301.6 610.6,301.6 611.6,301.6 612.5,301.6 613.5,301.6 614.4,301.6 615.4,301.6 616.4,301.6 617.3,301.6 618.3,301.6 619.2,301.6 620.2,301.6 621.1,301.7 622.1,301.7 623.0,301.7 624.0,301.7 624.9,301.7 625.9,301.7 626.8,301.7 627.8,301.7 628.7,301.7 629.7,301.6 630.6,301.6 631.6,301.5 632.6,301.3 633.5,301.2 634.5,300.9 635.4,300.6 636.4,300.1 637.3,299.6 638.3,298.8 639.2,297.9 640.2,296.7 641.1,295.3 642.1,293.5 643.0,291.4 644.0,289.0 644.9,286.1 645.9,282.8 646.8,279.0 647.8,274.9 648.8,270.4 649.7,265.5 650.7,260.3 651.6,255.0 652.6,249.5 653.5,244.2 654.5,239.0 655.4,234.1 656.4,229.8 657.3,226.0 658.3,223.1 659.2,220.9 660.2,219.8 661.1,219.6 662.1,220.5 663.0,223.0 664.0,227.0 665.0,232.3 665.9,238.7 666.9,245.8 667.8,253.3 668.8,261.0 669.7,268.6 670.7,275.7 671.6,282.3 672.6,288.3 673.5,293.4 674.5,297.9 675.4,301.5 676.4,304.5 677.3,306.9 678.3,308.7 679.2,310.1 680.2,311.2 681.2,312.0 682.1,312.5 683.1,312.9 684.0,313.2 685.0,313.4 685.9,313.6 686.9,313.7 687.8,313.8 688.8,313.8 689.7,313.9 690.7,313.9 691.6,313.9 692.6,314.0 693.5,314.0 694.5,314.1 695.5,314.1 696.4,314.1 697.4,314.2 698.3,314.2 699.3,314.2 700.2,314.3 701.2,314.3 702.1,314.3 703.1,314.4 704.0,314.4 705.0,314.4 705.9,314.5 706.9,314.5 707.8,314.5 708.8,314.6 709.7,314.6 710.7,314.6 711.7,314.7 712.6,314.7 713.6,314.7 714.5,314.8 715.5,314.8 716.4,314.8 717.4,314.9 718.3,314.9 719.3,314.9 720.2,315.0 721.2,315.0 722.1,315.0 723.1,315.1 724.0,315.1 725.0,315.1 725.9,315.2 726.9,315.2" fill="none" stroke="#1f8f1f" stroke-width="0.75" stroke-opacity="0.8"/>
<path d="M546.7,310.5 548.5,306.6 550.3,303.1 552.1,303.3 554.5,303.7 556.3,303.8 557.3,303.8 558.2,303.8 559.2,303.7 560.1,303.7 561.1,303.7 562.0,303.6 563.0,303.6 563.9,303.6 564.9,303.5 565.8,303.5 566.8,303.4 567.7,303.4 568.7,303.4 569.7,303.3 570.6,303.3 571.6,303.3 572.5,303.3 573.5,303.2 574.4,303.2 575.4,303.2 576.3,303.1 577.3,303.1 578.2,303.1 579.2,303.1 580.1,303.0 581.1,303.0 582.0,303.0 583.0,303.0 583.9,302.9 584.9,302.9 585.9,302.9 586.8,302.9 587.8,302.9 588.7,302.8 589.7,302.8 590.6,302.8 591.6,302.8 592.5,302.8 593.5,302.8 594.4,302.8 595.4,302.7 596.3,302.7 597.3,302.7 598.2,302.7 599.2,302.7 600.1,302.7 601.1,302.7 602.1,302.7 603.0,302.7 604.0,302.7 604.9,302.7 605.9,302.7 606.8,302.7 607.8,302.7 608.7,302.7 609.7,302.7 610.6,302.7 611.6,302.7 612.5,302.7 613.5,302.7 614.4,302.7 615.4,302.7 616.4,302.7 617.3,302.7 618.3,302.7 619.2,302.8 620.2,302.8 621.1,302.8 622.1,302.8 623.0,302.8 624.0,302.8 624.9,302.8 625.9,302.8 626.8,302.8 627.8,302.8 628.7,302.7 629.7,302.7 630.6,302.6 631.6,302.5 632.6,302.4 633.5,302.2 634.5,301.9 635.4,301.6 636.4,301.1 637.3,300.6 638.3,299.8 639.2,298.9 640.2,297.8 641.1,296.4 642.1,294.8 643.0,292.9 644.0,290.6 644.9,288.1 645.9,285.2 646.8,282.0 647.8,278.5 648.8,274.8 649.7,270.8 650.7,266.7 651.6,262.6 652.6,258.6 653.5,254.7 654.5,251.1 655.4,247.8 656.4,245.1 657.3,243.0 658.3,241.6 659.2,240.9 660.2,240.9 661.1,241.9 662.1,244.0 663.0,247.3 664.0,251.6 665.0,256.6 665.9,262.2 666.9,268.0 667.8,274.0 668.8,279.7 669.7,285.2 670.7,290.2 671.6,294.7 672.6,298.6 673.5,301.9 674.5,304.6 675.4,306.9 676.4,308.6 677.3,310.0 678.3,311.1 679.2,311.8 680.2,312.4 681.2,312.8 682.1,313.1 683.1,313.3 684.0,313.5 685.0,313.6 685.9,313.7 686.9,313.8 687.8,313.8 688.8,313.9 689.7,313.9 690.7,313.9 691.6,314.0 692.6,314.0 693.5,314.0 694.5,314.1 695.5,314.1 696.4,314.1 697.4,314.2 698.3,314.2 699.3,314.2 700.2,314.3 701.2,314.3 702.1,314.3 703.1,314.4 704.0,314.4 705.0,314.4 705.9,314.5 706.9,314.5 707.8,314.5 708.8,314.6 709.7,314.6 710.7,314.6 711.7,314.7 712.6,314.7 713.6,314.7 714.5,314.8 715.5,314.8 716.4,314.8 717.4,314.9 718.3,314.9 719.3,314.9 720.2,315.0 721.2,315.0 722.1,315.0 723.1,315.1 724.0,315.1 725.0,315.1 725.9,315.2 726.9,315.2" fill="none" stroke="#1f8f1f" stroke-width="0.75" stroke-opacity="0.8"/>
<path d="M546.7,310.5 548.5,306.6 550.3,301.5 552.1,301.8 554.5,302.2 556.3,302.3 557.3,302.3 558.2,302.3 559.2,302.2 560.1,302.2 561.1,302.2 562.0,302.1 563.0,302.1 563.9,302.1 564.9,302.0 565.8,302.0 566.8,301.9 567.7,301.9 568.7,301.9 569.7,301.8 570.6,301.8 571.6,301.8 572.5,301.8 573.5,301.7 574.4,301.7 575.4,301.7 576.3,301.6 577.3,301.6 578.2,301.6 579.2,301.6 580.1,301.5 581.1,301.5 582.0,301.5 583.0,301.5 583.9,301.4 584.9,301.4 585.9,301.4 586.8,301.4 587.8,301.4 588.7,301.3 589.7,301.3 590.6,301.3 591.6,301.3 592.5,301.3 593.5,301.3 594.4,301.3 595.4,301.2 596.3,301.2 597.3,301.2 598.2,301.2 599.2,301.2 600.1,301.2 601.1,301.2 602.1,301.2 603.0,301.2 604.0,301.2 604.9,301.2 605.9,301.2 606.8,301.2 607.8,301.2 608.7,301.2 609.7,301.2 610.6,301.2 611.6,301.2 612.5,301.2 613.5,301.2 614.4,301.2 615.4,301.2 616.4,301.2 617.3,301.2 618.3,301.2 619.2,301.3 620.2,301.3 621.1,301.3 622.1,301.3 623.0,301.3 624.0,301.3 624.9,301.3 625.9,301.3 626.8,301.3 627.8,301.3 628.7,301.3 629.7,301.2 630.6,301.2 631.6,301.1 632.6,301.0 633.5,300.8 634.5,300.6 635.4,300.3 636.4,299.9 637.3,299.4 638.3,298.8 639.2,298.0 640.2,297.0 641.1,295.8 642.1,294.3 643.0,292.5 644.0,290.4 644.9,288.0 645.9,285.2 646.8,282.1 647.8,278.7 648.8,275.0 649.7,271.0 650.7,266.9 651.6,262.6 652.6,258.4 653.5,254.2 654.5,250.2 655.4,246.5 656.4,243.3 657.3,240.7 658.3,238.7 659.2,237.5 660.2,237.0 661.1,237.3 662.1,238.7 663.0,241.3 664.0,245.0 665.0,249.8 665.9,255.2 666.9,261.2 667.8,267.4 668.8,273.6 669.7,279.6 670.7,285.2 671.6,290.3 672.6,294.9 673.5,298.8 674.5,302.1 675.4,304.8 676.4,307.0 677.3,308.8 678.3,310.1 679.2,311.2 680.2,311.9 681.2,312.5 682.1,312.9 683.1,313.2 684.0,313.4 685.0,313.5 685.9,313.6 686.9,313.7 687.8,313.8 688.8,313.8 689.7,313.9 690.7,313.9 691.6,314.0 692.6,314.0 693.5,314.0 694.5,314.1 695.5,314.1 696.4,314.1 697.4,314.2 698.3,314.2 699.3,314.2 700.2,314.3 701.2,314.3 702.1,314.3 703.1,314.4 704.0,314.4 705.0,314.4 705.9,314.5 706.9,314.5 707.8,314.5 708.8,314.6 709.7,314.6 710.7,314.6 711.7,314.7 712.6,314.7 713.6,314.7 714.5,314.8 715.5,314.8 716.4,314.8 717.4,314.9 718.3,314.9 719.3,314.9 720.2,315.0 721.2,315.0 722.1,315.0 723.1,315.1 724.0,315.1 725.0,315.1 725.9,315.2 726.9,315.2" fill="none" stroke="#1f8f1f" stroke-width="0.75" stroke-opacity="0.8"/>
<path d="M546.7,310.5 548.5,306.6 550.3,302.7 552.1,303.0 554.5,303.3 556.3,303.5 557.3,303.4 558.2,303.4 559.2,303.4 560.1,303.3 561.1,303.3 562.0,303.2 563.0,303.2 563.9,303.2 564.9,303.1 565.8,303.1 566.8,303.1 567.7,303.0 568.7,303.0 569.7,303.0 570.6,302.9 571.6,302.9 572.5,302.9 573.5,302.8 574.4,302.8 575.4,302.8 576.3,302.8 577.3,302.7 578.2,302.7 579.2,302.7 580.1,302.7 581.1,302.6 582.0,302.6 583.0,302.6 583.9,302.6 584.9,302.5 585.9,302.5 586.8,302.5 587.8,302.5 588.7,302.5 589.7,302.4 590.6,302.4 591.6,302.4 592.5,302.4 593.5,302.4 594.4,302.4 595.4,302.4 596.3,302.4 597.3,302.3 598.2,302.3 599.2,302.3 600.1,302.3 601.1,302.3 602.1,302.3 603.0,302.3 604.0,302.3 604.9,302.3 605.9,302.3 606.8,302.3 607.8,302.3 608.7,302.3 609.7,302.3 610.6,302.3 611.6,302.3 612.5,302.3 613.5,302.3 614.4,302.3 615.4,302.3 616.4,302.4 617.3,302.4 618.3,302.4 619.2,302.4 620.2,302.4 621.1,302.4 622.1,302.4 623.0,302.4 624.0,302.4 624.9,302.4 625.9,302.4 626.8,302.4 627.8,302.4 628.7,302.3 629.7,302.3 630.6,302.2 631.6,302.1 632.6,301.9 633.5,301.6 634.5,301.3 635.4,300.9 636.4,300.3 637.3,299.6 638.3,298.7 639.2,297.6 640.2,296.2 641.1,294.6 642.1,292.6 643.0,290.4 644.0,287.7 644.9,284.7 645.9,281.4 646.8,277.6 647.8,273.6 648.8,269.3 649.7,264.8 650.7,260.2 651.6,255.6 652.6,251.1 653.5,246.9 654.5,242.9 655.4,239.5 656.4,236.7 657.3,234.6 658.3,233.2 659.2,232.7 660.2,233.0 661.1,234.5 662.1,237.4 663.0,241.5 664.0,246.5 665.0,252.4 665.9,258.7 666.9,265.3 667.8,271.9 668.8,278.2 669.7,284.1 670.7,289.5 671.6,294.2 672.6,298.3 673.5,301.8 674.5,304.6 675.4,306.9 676.4,308.7 677.3,310.1 678.3,311.1 679.2,311.9 680.2,312.5 681.2,312.9 682.1,313.2 683.1,313.4 684.0,313.5 685.0,313.6 685.9,313.7 686.9,313.8 687.8,313.8 688.8,313.9 689.7,313.9 690.7,314.0 691.6,314.0 692.6,314.0 693.5,314.1 694.5,314.1 695.5,314.1 696.4,314.2 697.4,314.2 698.3,314.2 699.3,314.3 700.2,314.3 701.2,314.3 702.1,314.4 703.1,314.4 704.0,314.4 705.0,314.4 705.9,314.5 706.9,314.5 707.8,314.5 708.8,314.6 709.7,314.6 710.7,314.6 711.7,314.7 712.6,314.7 713.6,314.7 714.5,314.8 715.5,314.8 716.4,314.8 717.4,314.9 718.3,314.9 719.3,314.9 720.2,315.0 721.2,315.0 722.1,315.0 723.1,315.1 724.0,315.1 725.0,315.1 725.9,315.2 726.9,315.2" fill="none" stroke="#1f8f1f" stroke-width="0.75" stroke-opacity="0.8"/>
<path d="M546.7,310.5 548.5,306.6 550.3,303.8 552.1,304.1 554.5,304.5 556.3,304.6 557.3,304.6 558.2,304.5 559.2,304.5 560.1,304.5 561.1,304.4 562.0,304.4 563.0,304.3 563.9,304.3 564.9,304.3 565.8,304.2 566.8,304.2 567.7,304.2 568.7,304.1 569.7,304.1 570.6,304.1 571.6,304.0 572.5,304.0 573.5,304.0 574.4,303.9 575.4,303.9 576.3,303.9 577.3,303.9 578.2,303.8 579.2,303.8 580.1,303.8 581.1,303.8 582.0,303.7 583.0,303.7 583.9,303.7 584.9,303.7 585.9,303.6 586.8,303.6 587.8,303.6 588.7,303.6 589.7,303.6 590.6,303.6 591.6,303.5 592.5,303.5 593.5,303.5 594.4,303.5 595.4,303.5 596.3,303.5 597.3,303.5 598.2,303.5 599.2,303.5 600.1,303.5 601.1,303.5 602.1,303.4 603.0,303.4 604.0,303.4 604.9,303.4 605.9,303.4 606.8,303.4 607.8,303.4 608.7,303.4 609.7,303.4 610.6,303.4 611.6,303.5 612.5,303.5 613.5,303.5 614.4,303.5 615.4,303.5 616.4,303.5 617.3,303.5 618.3,303.5 619.2,303.5 620.2,303.5 621.1,303.5 622.1,303.5 623.0,303.5 624.0,303.6 624.9,303.6 625.9,303.6 626.8,303.6 627.8,303.6 628.7,303.5 629.7,303.5 630.6,303.5 631.6,303.4 632.6,303.3 633.5,303.1 634.5,302.9 635.4,302.6 636.4,302.3 637.3,301.8 638.3,301.2 639.2,300.4 640.2,299.5 641.1,298.4 642.1,297.0 643.0,295.4 644.0,293.5 644.9,291.3 645.9,288.9 646.8,286.1 647.8,283.1 648.8,279.8 649.7,276.4 650.7,272.8 651.6,269.1 652.6,265.5 653.5,261.9 654.5,258.6 655.4,255.6 656.4,253.0 657.3,250.9 658.3,249.4 659.2,248.5 660.2,248.4 661.1,248.9 662.1,250.4 663.0,253.0 664.0,256.5 665.0,260.8 665.9,265.6 666.9,270.8 667.8,276.1 668.8,281.3 669.7,286.4 670.7,291.0 671.6,295.2 672.6,298.9 673.5,302.0 674.5,304.7 675.4,306.9 676.4,308.6 677.3,309.9 678.3,311.0 679.2,311.8 680.2,312.4 681.2,312.8 682.1,313.1 683.1,313.3 684.0,313.5 685.0,313.6 685.9,313.7 686.9,313.8 687.8,313.8 688.8,313.9 689.7,313.9 690.7,313.9 691.6,314.0 692.6,314.0 693.5,314.0 694.5,314.1 695.5,314.1 696.4,314.1 697.4,314.2 698.3,314.2 699.3,314.2 700.2,314.3 701.2,314.3 702.1,314.3 703.1,314.4 704.0,314.4 705.0,314.4 705.9,314.5 706.9,314.5 707.8,314.5 708.8,314.6 709.7,314.6 710.7,314.6 711.7,314.7 712.6,314.7 713.6,314.7 714.5,314.8 715.5,314.8 716.4,314.8 717.4,314.9 718.3,314.9 719.3,314.9 720.2,315.0 721.2,315.0 722.1,315.0 723.1,315.1 724.0,315.1 725.0,315.1 725.9,315.2 726.9,315.2" fill="none" stroke="#1f8f1f" stroke-width="0.75" stroke-opacity="0.8"/>
<rect x="3.70" y="351.60" width="748.20" height="147.70" fill="none" stroke="#111" stroke-width="1.7" />
<text x="11.00" y="373.70" font-size="17.6" font-weight="bold" textLength="10.48" lengthAdjust="spacingAndGlyphs" stroke="#111" stroke-width="0.2" stroke-linejoin="round" fill="#111" >ii</text>
<text x="101.30" y="363.60" font-size="12.6" font-weight="bold" textLength="85.67" lengthAdjust="spacingAndGlyphs" stroke="#111" stroke-width="0.35" stroke-linejoin="round" fill="#111" >Amplification</text>
<text x="336.60" y="365.30" font-size="12.6" font-weight="bold" textLength="95.71" lengthAdjust="spacingAndGlyphs" stroke="#111" stroke-width="0.35" stroke-linejoin="round" fill="#111" >Standard Curve</text>
<text x="603.00" y="366.90" font-size="12.6" font-weight="bold" textLength="64.00" lengthAdjust="spacingAndGlyphs" stroke="#111" stroke-width="0.35" stroke-linejoin="round" fill="#111" >Melt Peak</text>
<text x="119.90" y="494.40" font-size="12.8" font-weight="bold" textLength="38.54" lengthAdjust="spacingAndGlyphs" stroke="#111" stroke-width="0.35" stroke-linejoin="round" fill="#111" >Cycles</text>
<text x="331.90" y="493.60" font-size="12.8" font-weight="bold" textLength="106.87" lengthAdjust="spacingAndGlyphs" stroke="#111" stroke-width="0.35" stroke-linejoin="round" fill="#111" >Log Copy number</text>
<text x="573.30" y="492.80" font-size="12.8" font-weight="bold" textLength="130.80" lengthAdjust="spacingAndGlyphs" stroke="#111" stroke-width="0.35" stroke-linejoin="round" fill="#111" >Temperature, Celsius</text>
<text x="24.90" y="460.50" font-size="12.8" font-weight="bold" textLength="81.75" lengthAdjust="spacingAndGlyphs" transform="rotate(-90 24.90 460.50)" stroke="#111" stroke-width="0.35" stroke-linejoin="round" fill="#111" >Fluorescence</text>
<text x="269.60" y="463.10" font-size="12.8" font-weight="bold" textLength="96.10" lengthAdjust="spacingAndGlyphs" transform="rotate(-90 269.60 463.10)" stroke="#111" stroke-width="0.35" stroke-linejoin="round" fill="#111" >Threshold Cycle</text>
<text x="517.50" y="457.50" font-size="12.8" font-weight="bold" textLength="81.75" lengthAdjust="spacingAndGlyphs" transform="rotate(-90 517.50 457.50)" stroke="#111" stroke-width="0.35" stroke-linejoin="round" fill="#111" >Fluorescence</text>
<line x1="91.35" y1="368.50" x2="91.35" y2="471.80" stroke="#a8a8a8" stroke-width="0.75" stroke-dasharray="1.3,2.2"/>
<line x1="138.50" y1="368.50" x2="138.50" y2="471.80" stroke="#a8a8a8" stroke-width="0.75" stroke-dasharray="1.3,2.2"/>
<line x1="185.65" y1="368.50" x2="185.65" y2="471.80" stroke="#a8a8a8" stroke-width="0.75" stroke-dasharray="1.3,2.2"/>
<line x1="232.80" y1="368.50" x2="232.80" y2="471.80" stroke="#a8a8a8" stroke-width="0.75" stroke-dasharray="1.3,2.2"/>
<line x1="44.20" y1="469.80" x2="242.40" y2="469.80" stroke="#a8a8a8" stroke-width="0.75" stroke-dasharray="1.3,2.2"/>
<line x1="44.20" y1="455.70" x2="242.40" y2="455.70" stroke="#a8a8a8" stroke-width="0.75" stroke-dasharray="1.3,2.2"/>
<line x1="44.20" y1="441.60" x2="242.40" y2="441.60" stroke="#a8a8a8" stroke-width="0.75" stroke-dasharray="1.3,2.2"/>
<line x1="44.20" y1="427.50" x2="242.40" y2="427.50" stroke="#a8a8a8" stroke-width="0.75" stroke-dasharray="1.3,2.2"/>
<line x1="44.20" y1="413.40" x2="242.40" y2="413.40" stroke="#a8a8a8" stroke-width="0.75" stroke-dasharray="1.3,2.2"/>
<line x1="44.20" y1="399.30" x2="242.40" y2="399.30" stroke="#a8a8a8" stroke-width="0.75" stroke-dasharray="1.3,2.2"/>
<line x1="44.20" y1="385.20" x2="242.40" y2="385.20" stroke="#a8a8a8" stroke-width="0.75" stroke-dasharray="1.3,2.2"/>
<line x1="44.20" y1="371.10" x2="242.40" y2="371.10" stroke="#a8a8a8" stroke-width="0.75" stroke-dasharray="1.3,2.2"/>
<line x1="44.20" y1="368.50" x2="242.40" y2="368.50" stroke="#707070" stroke-width="0.9" />
<line x1="242.40" y1="368.50" x2="242.40" y2="471.80" stroke="#707070" stroke-width="0.9" />
<line x1="44.20" y1="368.50" x2="44.20" y2="472.30" stroke="#555" stroke-width="1.1" />
<line x1="43.70" y1="471.80" x2="242.40" y2="471.80" stroke="#555" stroke-width="1.1" />
<path d="M43.1,469.8h2.2M241.4,469.8h2.0M43.1,467.0h2.2M241.4,467.0h2.0M43.1,464.2h2.2M241.4,464.2h2.0M43.1,461.3h2.2M241.4,461.3h2.0M43.1,458.5h2.2M241.4,458.5h2.0M43.1,455.7h2.2M241.4,455.7h2.0M43.1,452.9h2.2M241.4,452.9h2.0M43.1,450.1h2.2M241.4,450.1h2.0M43.1,447.2h2.2M241.4,447.2h2.0M43.1,444.4h2.2M241.4,444.4h2.0M43.1,441.6h2.2M241.4,441.6h2.0M43.1,438.8h2.2M241.4,438.8h2.0M43.1,436.0h2.2M241.4,436.0h2.0M43.1,433.1h2.2M241.4,433.1h2.0M43.1,430.3h2.2M241.4,430.3h2.0M43.1,427.5h2.2M241.4,427.5h2.0M43.1,424.7h2.2M241.4,424.7h2.0M43.1,421.9h2.2M241.4,421.9h2.0M43.1,419.0h2.2M241.4,419.0h2.0M43.1,416.2h2.2M241.4,416.2h2.0M43.1,413.4h2.2M241.4,413.4h2.0M43.1,410.6h2.2M241.4,410.6h2.0M43.1,407.8h2.2M241.4,407.8h2.0M43.1,404.9h2.2M241.4,404.9h2.0M43.1,402.1h2.2M241.4,402.1h2.0M43.1,399.3h2.2M241.4,399.3h2.0M43.1,396.5h2.2M241.4,396.5h2.0M43.1,393.7h2.2M241.4,393.7h2.0M43.1,390.8h2.2M241.4,390.8h2.0M43.1,388.0h2.2M241.4,388.0h2.0M43.1,385.2h2.2M241.4,385.2h2.0M43.1,382.4h2.2M241.4,382.4h2.0M43.1,379.6h2.2M241.4,379.6h2.0M43.1,376.7h2.2M241.4,376.7h2.0M43.1,373.9h2.2M241.4,373.9h2.0M43.1,371.1h2.2M241.4,371.1h2.0M43.1,368.3h2.2M241.4,368.3h2.0M44.2,470.7v2.2M53.6,470.7v2.2M63.1,470.7v2.2M72.5,470.7v2.2M81.9,470.7v2.2M91.4,470.7v2.2M100.8,470.7v2.2M110.2,470.7v2.2M119.6,470.7v2.2M129.1,470.7v2.2M138.5,470.7v2.2M147.9,470.7v2.2M157.4,470.7v2.2M166.8,470.7v2.2M176.2,470.7v2.2M185.7,470.7v2.2M195.1,470.7v2.2M204.5,470.7v2.2M213.9,470.7v2.2M223.4,470.7v2.2M232.8,470.7v2.2" stroke="#444" stroke-width="1.3" fill="none"/>
<text x="39.60" y="471.82" font-size="5.6" text-anchor="end" stroke="#666670" stroke-width="0.12" stroke-linejoin="round" fill="#666670" >0</text>
<text x="39.60" y="457.72" font-size="5.6" text-anchor="end" stroke="#666670" stroke-width="0.12" stroke-linejoin="round" fill="#666670" >1000</text>
<text x="39.60" y="443.62" font-size="5.6" text-anchor="end" stroke="#666670" stroke-width="0.12" stroke-linejoin="round" fill="#666670" >2000</text>
<text x="39.60" y="429.52" font-size="5.6" text-anchor="end" stroke="#666670" stroke-width="0.12" stroke-linejoin="round" fill="#666670" >3000</text>
<text x="39.60" y="415.42" font-size="5.6" text-anchor="end" stroke="#666670" stroke-width="0.12" stroke-linejoin="round" fill="#666670" >4000</text>
<text x="39.60" y="401.32" font-size="5.6" text-anchor="end" stroke="#666670" stroke-width="0.12" stroke-linejoin="round" fill="#666670" >5000</text>
<text x="39.60" y="387.22" font-size="5.6" text-anchor="end" stroke="#666670" stroke-width="0.12" stroke-linejoin="round" fill="#666670" >6000</text>
<text x="39.60" y="373.12" font-size="5.6" text-anchor="end" stroke="#666670" stroke-width="0.12" stroke-linejoin="round" fill="#666670" >7000</text>
<text x="44.20" y="480.40" font-size="5.6" text-anchor="middle" stroke="#666670" stroke-width="0.12" stroke-linejoin="round" fill="#666670" >0</text>
<text x="91.35" y="480.40" font-size="5.6" text-anchor="middle" stroke="#666670" stroke-width="0.12" stroke-linejoin="round" fill="#666670" >10</text>
<text x="138.50" y="480.40" font-size="5.6" text-anchor="middle" stroke="#666670" stroke-width="0.12" stroke-linejoin="round" fill="#666670" >20</text>
<text x="185.65" y="480.40" font-size="5.6" text-anchor="middle" stroke="#666670" stroke-width="0.12" stroke-linejoin="round" fill="#666670" >30</text>
<text x="232.80" y="480.40" font-size="5.6" text-anchor="middle" stroke="#666670" stroke-width="0.12" stroke-linejoin="round" fill="#666670" >40</text>
<line x1="48.92" y1="459.93" x2="232.80" y2="459.93" stroke="#2e9a2e" stroke-width="1.9" />
<path d="M48.9,469.8 50.8,469.8 52.6,469.8 54.5,469.8 56.3,469.8 58.2,469.8 60.1,469.8 61.9,469.7 63.8,469.7 65.6,469.5 67.5,469.4 69.3,469.2 71.2,468.8 73.1,468.4 74.9,467.8 76.8,467.1 78.6,466.2 80.5,465.1 82.3,463.8 84.2,462.4 86.1,460.7 87.9,458.9 89.8,456.9 91.6,454.7 93.5,452.4 95.4,450.0 97.2,447.5 99.1,444.9 100.9,442.3 102.8,439.7 104.6,437.0 106.5,434.4 108.4,431.8 110.2,429.2 112.1,426.7 113.9,424.3 115.8,421.9 117.6,419.7 119.5,417.5 121.4,415.4 123.2,413.3 125.1,411.4 126.9,409.6 128.8,407.8 130.6,406.2 132.5,404.6 134.4,403.1 136.2,401.7 138.1,400.4 139.9,399.1 141.8,397.9 143.6,396.8 145.5,395.7 147.4,394.7 149.2,393.7 151.1,392.8 152.9,391.9 154.8,391.1 156.6,390.3 158.5,389.6 160.4,388.9 162.2,388.2 164.1,387.6 165.9,387.0 167.8,386.4 169.6,385.8 171.5,385.3 173.4,384.8 175.2,384.3 177.1,383.8 178.9,383.3 180.8,382.9 182.6,382.4 184.5,382.0 186.4,381.6 188.2,381.2 190.1,380.8 191.9,380.4 193.8,380.1 195.7,379.7 197.5,379.3 199.4,379.0 201.2,378.7 203.1,378.3 204.9,378.0 206.8,377.6 208.7,377.3 210.5,377.0 212.4,376.7 214.2,376.4 216.1,376.1 217.9,375.7 219.8,375.4 221.7,375.1 223.5,374.8 225.4,374.5 227.2,374.2 229.1,373.9 230.9,373.6 232.8,373.4" fill="none" stroke="#279827" stroke-width="0.9" stroke-opacity="0.85"/>
<path d="M48.9,469.8 50.8,469.8 52.6,469.8 54.5,469.8 56.3,469.8 58.2,469.8 60.1,469.8 61.9,469.7 63.8,469.7 65.6,469.5 67.5,469.4 69.3,469.2 71.2,468.9 73.1,468.4 74.9,467.9 76.8,467.2 78.6,466.3 80.5,465.3 82.3,464.1 84.2,462.7 86.1,461.2 87.9,459.5 89.8,457.6 91.6,455.6 93.5,453.4 95.4,451.2 97.2,448.9 99.1,446.5 100.9,444.0 102.8,441.6 104.6,439.1 106.5,436.7 108.4,434.3 110.2,431.9 112.1,429.6 113.9,427.3 115.8,425.1 117.6,423.0 119.5,420.9 121.4,419.0 123.2,417.1 125.1,415.3 126.9,413.6 128.8,412.0 130.6,410.4 132.5,409.0 134.4,407.6 136.2,406.2 138.1,405.0 139.9,403.8 141.8,402.7 143.6,401.6 145.5,400.6 147.4,399.6 149.2,398.7 151.1,397.9 152.9,397.1 154.8,396.3 156.6,395.6 158.5,394.8 160.4,394.2 162.2,393.5 164.1,392.9 165.9,392.3 167.8,391.8 169.6,391.2 171.5,390.7 173.4,390.2 175.2,389.7 177.1,389.3 178.9,388.8 180.8,388.4 182.6,388.0 184.5,387.6 186.4,387.2 188.2,386.8 190.1,386.4 191.9,386.0 193.8,385.6 195.7,385.3 197.5,384.9 199.4,384.6 201.2,384.3 203.1,383.9 204.9,383.6 206.8,383.3 208.7,382.9 210.5,382.6 212.4,382.3 214.2,382.0 216.1,381.7 217.9,381.4 219.8,381.1 221.7,380.8 223.5,380.5 225.4,380.2 227.2,379.9 229.1,379.6 230.9,379.3 232.8,379.0" fill="none" stroke="#279827" stroke-width="0.9" stroke-opacity="0.85"/>
<path d="M48.9,469.8 50.8,469.8 52.6,469.8 54.5,469.8 56.3,469.8 58.2,469.8 60.1,469.8 61.9,469.7 63.8,469.7 65.6,469.6 67.5,469.4 69.3,469.2 71.2,468.9 73.1,468.5 74.9,468.0 76.8,467.4 78.6,466.6 80.5,465.6 82.3,464.5 84.2,463.1 86.1,461.7 87.9,460.0 89.8,458.2 91.6,456.3 93.5,454.2 95.4,452.0 97.2,449.8 99.1,447.4 100.9,445.1 102.8,442.7 104.6,440.3 106.5,437.9 108.4,435.5 110.2,433.2 112.1,430.9 113.9,428.7 115.8,426.6 117.6,424.5 119.5,422.5 121.4,420.6 123.2,418.7 125.1,417.0 126.9,415.3 128.8,413.7 130.6,412.2 132.5,410.7 134.4,409.3 136.2,408.0 138.1,406.8 139.9,405.6 141.8,404.5 143.6,403.5 145.5,402.5 147.4,401.5 149.2,400.6 151.1,399.8 152.9,399.0 154.8,398.2 156.6,397.5 158.5,396.8 160.4,396.1 162.2,395.5 164.1,394.9 165.9,394.3 167.8,393.7 169.6,393.2 171.5,392.7 173.4,392.2 175.2,391.7 177.1,391.2 178.9,390.8 180.8,390.3 182.6,389.9 184.5,389.5 186.4,389.1 188.2,388.7 190.1,388.3 191.9,388.0 193.8,387.6 195.7,387.3 197.5,386.9 199.4,386.6 201.2,386.2 203.1,385.9 204.9,385.6 206.8,385.2 208.7,384.9 210.5,384.6 212.4,384.3 214.2,384.0 216.1,383.7 217.9,383.3 219.8,383.0 221.7,382.7 223.5,382.4 225.4,382.1 227.2,381.9 229.1,381.6 230.9,381.3 232.8,381.0" fill="none" stroke="#279827" stroke-width="0.9" stroke-opacity="0.85"/>
<path d="M48.9,469.8 50.8,469.8 52.6,469.8 54.5,469.8 56.3,469.8 58.2,469.8 60.1,469.8 61.9,469.8 63.8,469.8 65.6,469.8 67.5,469.8 69.3,469.8 71.2,469.8 73.1,469.8 74.9,469.8 76.8,469.8 78.6,469.8 80.5,469.8 82.3,469.7 84.2,469.6 86.1,469.5 87.9,469.2 89.8,468.8 91.6,468.3 93.5,467.5 95.4,466.5 97.2,465.3 99.1,463.7 100.9,462.0 102.8,459.9 104.6,457.6 106.5,455.1 108.4,452.5 110.2,449.7 112.1,446.8 113.9,443.9 115.8,441.0 117.6,438.1 119.5,435.2 121.4,432.4 123.2,429.7 125.1,427.1 126.9,424.6 128.8,422.3 130.6,420.0 132.5,417.9 134.4,416.0 136.2,414.1 138.1,412.4 139.9,410.8 141.8,409.3 143.6,407.9 145.5,406.6 147.4,405.4 149.2,404.2 151.1,403.2 152.9,402.2 154.8,401.3 156.6,400.5 158.5,399.7 160.4,398.9 162.2,398.3 164.1,397.6 165.9,397.0 167.8,396.4 169.6,395.9 171.5,395.3 173.4,394.8 175.2,394.4 177.1,393.9 178.9,393.5 180.8,393.1 182.6,392.7 184.5,392.3 186.4,391.9 188.2,391.5 190.1,391.2 191.9,390.8 193.8,390.5 195.7,390.2 197.5,389.9 199.4,389.5 201.2,389.2 203.1,388.9 204.9,388.6 206.8,388.3 208.7,388.0 210.5,387.7 212.4,387.4 214.2,387.1 216.1,386.9 217.9,386.6 219.8,386.3 221.7,386.0 223.5,385.7 225.4,385.5 227.2,385.2 229.1,384.9 230.9,384.6 232.8,384.4" fill="none" stroke="#279827" stroke-width="0.9" stroke-opacity="0.85"/>
<path d="M48.9,469.8 50.8,469.8 52.6,469.8 54.5,469.8 56.3,469.8 58.2,469.8 60.1,469.8 61.9,469.8 63.8,469.8 65.6,469.8 67.5,469.8 69.3,469.8 71.2,469.8 73.1,469.8 74.9,469.8 76.8,469.8 78.6,469.8 80.5,469.8 82.3,469.7 84.2,469.7 86.1,469.5 87.9,469.3 89.8,469.0 91.6,468.5 93.5,467.8 95.4,466.9 97.2,465.7 99.1,464.3 100.9,462.6 102.8,460.6 104.6,458.3 106.5,455.8 108.4,453.2 110.2,450.4 112.1,447.5 113.9,444.5 115.8,441.4 117.6,438.4 119.5,435.5 121.4,432.5 123.2,429.7 125.1,427.0 126.9,424.4 128.8,421.9 130.6,419.6 132.5,417.3 134.4,415.3 136.2,413.3 138.1,411.5 139.9,409.8 141.8,408.2 143.6,406.7 145.5,405.3 147.4,404.1 149.2,402.9 151.1,401.8 152.9,400.7 154.8,399.8 156.6,398.9 158.5,398.1 160.4,397.3 162.2,396.6 164.1,395.9 165.9,395.2 167.8,394.6 169.6,394.1 171.5,393.5 173.4,393.0 175.2,392.5 177.1,392.1 178.9,391.6 180.8,391.2 182.6,390.8 184.5,390.4 186.4,390.0 188.2,389.6 190.1,389.3 191.9,388.9 193.8,388.6 195.7,388.2 197.5,387.9 199.4,387.6 201.2,387.3 203.1,387.0 204.9,386.7 206.8,386.4 208.7,386.1 210.5,385.8 212.4,385.5 214.2,385.2 216.1,384.9 217.9,384.6 219.8,384.3 221.7,384.0 223.5,383.8 225.4,383.5 227.2,383.2 229.1,382.9 230.9,382.7 232.8,382.4" fill="none" stroke="#279827" stroke-width="0.9" stroke-opacity="0.85"/>
<path d="M48.9,469.8 50.8,469.8 52.6,469.8 54.5,469.8 56.3,469.8 58.2,469.8 60.1,469.8 61.9,469.8 63.8,469.8 65.6,469.8 67.5,469.8 69.3,469.8 71.2,469.8 73.1,469.8 74.9,469.8 76.8,469.8 78.6,469.8 80.5,469.8 82.3,469.7 84.2,469.7 86.1,469.6 87.9,469.4 89.8,469.0 91.6,468.6 93.5,467.9 95.4,467.1 97.2,466.0 99.1,464.6 100.9,463.0 102.8,461.2 104.6,459.1 106.5,456.8 108.4,454.3 110.2,451.7 112.1,448.9 113.9,446.1 115.8,443.3 117.6,440.5 119.5,437.7 121.4,435.0 123.2,432.4 125.1,429.8 126.9,427.4 128.8,425.1 130.6,422.9 132.5,420.8 134.4,418.9 136.2,417.0 138.1,415.3 139.9,413.7 141.8,412.2 143.6,410.8 145.5,409.6 147.4,408.3 149.2,407.2 151.1,406.2 152.9,405.2 154.8,404.3 156.6,403.5 158.5,402.7 160.4,401.9 162.2,401.2 164.1,400.6 165.9,400.0 167.8,399.4 169.6,398.8 171.5,398.3 173.4,397.8 175.2,397.3 177.1,396.9 178.9,396.5 180.8,396.0 182.6,395.6 184.5,395.2 186.4,394.9 188.2,394.5 190.1,394.2 191.9,393.8 193.8,393.5 195.7,393.1 197.5,392.8 199.4,392.5 201.2,392.2 203.1,391.9 204.9,391.6 206.8,391.3 208.7,391.0 210.5,390.7 212.4,390.4 214.2,390.1 216.1,389.8 217.9,389.5 219.8,389.3 221.7,389.0 223.5,388.7 225.4,388.4 227.2,388.1 229.1,387.9 230.9,387.6 232.8,387.3" fill="none" stroke="#279827" stroke-width="0.9" stroke-opacity="0.85"/>
<path d="M48.9,469.8 50.8,469.8 52.6,469.8 54.5,469.8 56.3,469.8 58.2,469.8 60.1,469.8 61.9,469.8 63.8,469.8 65.6,469.8 67.5,469.8 69.3,469.8 71.2,469.8 73.1,469.8 74.9,469.8 76.8,469.8 78.6,469.8 80.5,469.8 82.3,469.8 84.2,469.8 86.1,469.8 87.9,469.8 89.8,469.8 91.6,469.8 93.5,469.8 95.4,469.8 97.2,469.8 99.1,469.8 100.9,469.8 102.8,469.8 104.6,469.8 106.5,469.7 108.4,469.5 110.2,468.9 112.1,468.0 113.9,466.5 115.8,464.4 117.6,461.7 119.5,458.4 121.4,454.7 123.2,450.7 125.1,446.7 126.9,442.7 128.8,438.9 130.6,435.3 132.5,432.0 134.4,429.0 136.2,426.2 138.1,423.8 139.9,421.7 141.8,419.8 143.6,418.1 145.5,416.6 147.4,415.2 149.2,414.0 151.1,413.0 152.9,412.0 154.8,411.1 156.6,410.3 158.5,409.5 160.4,408.8 162.2,408.2 164.1,407.6 165.9,407.0 167.8,406.4 169.6,405.9 171.5,405.3 173.4,404.8 175.2,404.3 177.1,403.8 178.9,403.3 180.8,402.9 182.6,402.4 184.5,401.9 186.4,401.5 188.2,401.0 190.1,400.6 191.9,400.1 193.8,399.6 195.7,399.2 197.5,398.7 199.4,398.3 201.2,397.8 203.1,397.4 204.9,397.0 206.8,396.5 208.7,396.1 210.5,395.6 212.4,395.2 214.2,394.7 216.1,394.3 217.9,393.8 219.8,393.4 221.7,392.9 223.5,392.5 225.4,392.1 227.2,391.6 229.1,391.2 230.9,390.7 232.8,390.3" fill="none" stroke="#279827" stroke-width="0.9" stroke-opacity="0.85"/>
<path d="M48.9,469.8 50.8,469.8 52.6,469.8 54.5,469.8 56.3,469.8 58.2,469.8 60.1,469.8 61.9,469.8 63.8,469.8 65.6,469.8 67.5,469.8 69.3,469.8 71.2,469.8 73.1,469.8 74.9,469.8 76.8,469.8 78.6,469.8 80.5,469.8 82.3,469.8 84.2,469.8 86.1,469.8 87.9,469.8 89.8,469.8 91.6,469.8 93.5,469.8 95.4,469.8 97.2,469.8 99.1,469.8 100.9,469.8 102.8,469.8 104.6,469.8 106.5,469.7 108.4,469.6 110.2,469.2 112.1,468.5 113.9,467.2 115.8,465.3 117.6,462.7 119.5,459.4 121.4,455.6 123.2,451.5 125.1,447.2 126.9,442.9 128.8,438.7 130.6,434.8 132.5,431.1 134.4,427.7 136.2,424.7 138.1,422.0 139.9,419.5 141.8,417.4 143.6,415.5 145.5,413.8 147.4,412.3 149.2,411.0 151.1,409.8 152.9,408.8 154.8,407.8 156.6,406.9 158.5,406.1 160.4,405.4 162.2,404.7 164.1,404.0 165.9,403.4 167.8,402.8 169.6,402.3 171.5,401.7 173.4,401.2 175.2,400.7 177.1,400.2 178.9,399.7 180.8,399.2 182.6,398.8 184.5,398.3 186.4,397.8 188.2,397.4 190.1,396.9 191.9,396.4 193.8,396.0 195.7,395.5 197.5,395.1 199.4,394.6 201.2,394.2 203.1,393.7 204.9,393.3 206.8,392.8 208.7,392.4 210.5,391.9 212.4,391.5 214.2,391.1 216.1,390.6 217.9,390.2 219.8,389.7 221.7,389.3 223.5,388.8 225.4,388.4 227.2,387.9 229.1,387.5 230.9,387.1 232.8,386.6" fill="none" stroke="#279827" stroke-width="0.9" stroke-opacity="0.85"/>
<path d="M48.9,469.8 50.8,469.8 52.6,469.8 54.5,469.8 56.3,469.8 58.2,469.8 60.1,469.8 61.9,469.8 63.8,469.8 65.6,469.8 67.5,469.8 69.3,469.8 71.2,469.8 73.1,469.8 74.9,469.8 76.8,469.8 78.6,469.8 80.5,469.8 82.3,469.8 84.2,469.8 86.1,469.8 87.9,469.8 89.8,469.8 91.6,469.8 93.5,469.8 95.4,469.8 97.2,469.8 99.1,469.8 100.9,469.8 102.8,469.8 104.6,469.8 106.5,469.8 108.4,469.6 110.2,469.3 112.1,468.7 113.9,467.6 115.8,465.9 117.6,463.5 119.5,460.4 121.4,456.9 123.2,452.9 125.1,448.7 126.9,444.5 128.8,440.4 130.6,436.4 132.5,432.8 134.4,429.4 136.2,426.3 138.1,423.6 139.9,421.1 141.8,419.0 143.6,417.1 145.5,415.4 147.4,413.9 149.2,412.5 151.1,411.3 152.9,410.2 154.8,409.3 156.6,408.4 158.5,407.6 160.4,406.8 162.2,406.1 164.1,405.5 165.9,404.9 167.8,404.3 169.6,403.7 171.5,403.2 173.4,402.6 175.2,402.1 177.1,401.6 178.9,401.1 180.8,400.6 182.6,400.2 184.5,399.7 186.4,399.2 188.2,398.8 190.1,398.3 191.9,397.9 193.8,397.4 195.7,396.9 197.5,396.5 199.4,396.0 201.2,395.6 203.1,395.1 204.9,394.7 206.8,394.3 208.7,393.8 210.5,393.4 212.4,392.9 214.2,392.5 216.1,392.0 217.9,391.6 219.8,391.1 221.7,390.7 223.5,390.2 225.4,389.8 227.2,389.4 229.1,388.9 230.9,388.5 232.8,388.0" fill="none" stroke="#279827" stroke-width="0.9" stroke-opacity="0.85"/>
<path d="M48.9,469.8 50.8,469.8 52.6,469.8 54.5,469.8 56.3,469.8 58.2,469.8 60.1,469.8 61.9,469.8 63.8,469.8 65.6,469.8 67.5,469.8 69.3,469.8 71.2,469.8 73.1,469.8 74.9,469.8 76.8,469.8 78.6,469.8 80.5,469.8 82.3,469.8 84.2,469.8 86.1,469.8 87.9,469.8 89.8,469.8 91.6,469.8 93.5,469.8 95.4,469.8 97.2,469.8 99.1,469.8 100.9,469.8 102.8,469.8 104.6,469.8 106.5,469.8 108.4,469.8 110.2,469.8 112.1,469.8 113.9,469.8 115.8,469.8 117.6,469.8 119.5,469.8 121.4,469.8 123.2,469.7 125.1,469.5 126.9,469.0 128.8,468.0 130.6,466.2 132.5,463.7 134.4,460.3 136.2,456.2 138.1,451.6 139.9,446.7 141.8,441.7 143.6,436.9 145.5,432.3 147.4,428.1 149.2,424.3 151.1,421.0 152.9,418.0 154.8,415.4 156.6,413.2 158.5,411.3 160.4,409.6 162.2,408.2 164.1,407.0 165.9,406.0 167.8,405.1 169.6,404.3 171.5,403.6 173.4,403.0 175.2,402.4 177.1,401.9 178.9,401.5 180.8,401.0 182.6,400.7 184.5,400.3 186.4,400.0 188.2,399.6 190.1,399.3 191.9,399.0 193.8,398.7 195.7,398.4 197.5,398.2 199.4,397.9 201.2,397.6 203.1,397.4 204.9,397.1 206.8,396.8 208.7,396.6 210.5,396.3 212.4,396.1 214.2,395.8 216.1,395.6 217.9,395.3 219.8,395.1 221.7,394.8 223.5,394.6 225.4,394.3 227.2,394.1 229.1,393.8 230.9,393.6 232.8,393.3" fill="none" stroke="#279827" stroke-width="0.9" stroke-opacity="0.85"/>
<path d="M48.9,469.8 50.8,469.8 52.6,469.8 54.5,469.8 56.3,469.8 58.2,469.8 60.1,469.8 61.9,469.8 63.8,469.8 65.6,469.8 67.5,469.8 69.3,469.8 71.2,469.8 73.1,469.8 74.9,469.8 76.8,469.8 78.6,469.8 80.5,469.8 82.3,469.8 84.2,469.8 86.1,469.8 87.9,469.8 89.8,469.8 91.6,469.8 93.5,469.8 95.4,469.8 97.2,469.8 99.1,469.8 100.9,469.8 102.8,469.8 104.6,469.8 106.5,469.8 108.4,469.8 110.2,469.8 112.1,469.8 113.9,469.8 115.8,469.8 117.6,469.8 119.5,469.8 121.4,469.8 123.2,469.7 125.1,469.6 126.9,469.2 128.8,468.4 130.6,466.9 132.5,464.6 134.4,461.4 136.2,457.5 138.1,452.8 139.9,447.8 141.8,442.7 143.6,437.6 145.5,432.7 147.4,428.2 149.2,424.1 151.1,420.4 152.9,417.2 154.8,414.4 156.6,411.9 158.5,409.8 160.4,408.0 162.2,406.4 164.1,405.1 165.9,404.0 167.8,403.0 169.6,402.1 171.5,401.4 173.4,400.7 175.2,400.1 177.1,399.6 178.9,399.1 180.8,398.7 182.6,398.3 184.5,397.9 186.4,397.5 188.2,397.2 190.1,396.9 191.9,396.6 193.8,396.3 195.7,396.0 197.5,395.7 199.4,395.4 201.2,395.2 203.1,394.9 204.9,394.6 206.8,394.4 208.7,394.1 210.5,393.9 212.4,393.6 214.2,393.4 216.1,393.1 217.9,392.9 219.8,392.6 221.7,392.3 223.5,392.1 225.4,391.8 227.2,391.6 229.1,391.3 230.9,391.1 232.8,390.8" fill="none" stroke="#279827" stroke-width="0.9" stroke-opacity="0.85"/>
<path d="M48.9,469.8 50.8,469.8 52.6,469.8 54.5,469.8 56.3,469.8 58.2,469.8 60.1,469.8 61.9,469.8 63.8,469.8 65.6,469.8 67.5,469.8 69.3,469.8 71.2,469.8 73.1,469.8 74.9,469.8 76.8,469.8 78.6,469.8 80.5,469.8 82.3,469.8 84.2,469.8 86.1,469.8 87.9,469.8 89.8,469.8 91.6,469.8 93.5,469.8 95.4,469.8 97.2,469.8 99.1,469.8 100.9,469.8 102.8,469.8 104.6,469.8 106.5,469.8 108.4,469.8 110.2,469.8 112.1,469.8 113.9,469.8 115.8,469.8 117.6,469.8 119.5,469.8 121.4,469.8 123.2,469.8 125.1,469.7 126.9,469.4 128.8,468.7 130.6,467.5 132.5,465.5 134.4,462.5 136.2,458.7 138.1,454.2 139.9,449.2 141.8,444.0 143.6,438.7 145.5,433.6 147.4,428.9 149.2,424.5 151.1,420.6 152.9,417.2 154.8,414.1 156.6,411.5 158.5,409.2 160.4,407.3 162.2,405.6 164.1,404.2 165.9,403.0 167.8,401.9 169.6,401.0 171.5,400.2 173.4,399.5 175.2,398.8 177.1,398.3 178.9,397.8 180.8,397.3 182.6,396.9 184.5,396.5 186.4,396.2 188.2,395.8 190.1,395.5 191.9,395.2 193.8,394.9 195.7,394.6 197.5,394.3 199.4,394.0 201.2,393.8 203.1,393.5 204.9,393.2 206.8,393.0 208.7,392.7 210.5,392.5 212.4,392.2 214.2,391.9 216.1,391.7 217.9,391.4 219.8,391.2 221.7,390.9 223.5,390.7 225.4,390.4 227.2,390.2 229.1,389.9 230.9,389.7 232.8,389.4" fill="none" stroke="#279827" stroke-width="0.9" stroke-opacity="0.85"/>
<path d="M48.9,469.8 50.8,469.8 52.6,469.8 54.5,469.8 56.3,469.8 58.2,469.8 60.1,469.8 61.9,469.8 63.8,469.8 65.6,469.8 67.5,469.8 69.3,469.8 71.2,469.8 73.1,469.8 74.9,469.8 76.8,469.8 78.6,469.8 80.5,469.8 82.3,469.8 84.2,469.8 86.1,469.8 87.9,469.8 89.8,469.8 91.6,469.8 93.5,469.8 95.4,469.8 97.2,469.8 99.1,469.8 100.9,469.8 102.8,469.8 104.6,469.8 106.5,469.8 108.4,469.8 110.2,469.8 112.1,469.8 113.9,469.8 115.8,469.8 117.6,469.8 119.5,469.8 121.4,469.8 123.2,469.8 125.1,469.8 126.9,469.8 128.8,469.8 130.6,469.8 132.5,469.8 134.4,469.8 136.2,469.8 138.1,469.8 139.9,469.7 141.8,469.5 143.6,468.8 145.5,467.6 147.4,465.5 149.2,462.4 151.1,458.5 152.9,453.9 154.8,448.8 156.6,443.7 158.5,438.6 160.4,433.9 162.2,429.5 164.1,425.6 165.9,422.2 167.8,419.2 169.6,416.6 171.5,414.4 173.4,412.5 175.2,410.9 177.1,409.5 178.9,408.3 180.8,407.3 182.6,406.4 184.5,405.6 186.4,404.9 188.2,404.3 190.1,403.7 191.9,403.2 193.8,402.7 195.7,402.2 197.5,401.8 199.4,401.4 201.2,401.0 203.1,400.6 204.9,400.2 206.8,399.9 208.7,399.5 210.5,399.2 212.4,398.8 214.2,398.5 216.1,398.1 217.9,397.8 219.8,397.4 221.7,397.1 223.5,396.7 225.4,396.4 227.2,396.1 229.1,395.7 230.9,395.4 232.8,395.1" fill="none" stroke="#279827" stroke-width="0.9" stroke-opacity="0.85"/>
<path d="M48.9,469.8 50.8,469.8 52.6,469.8 54.5,469.8 56.3,469.8 58.2,469.8 60.1,469.8 61.9,469.8 63.8,469.8 65.6,469.8 67.5,469.8 69.3,469.8 71.2,469.8 73.1,469.8 74.9,469.8 76.8,469.8 78.6,469.8 80.5,469.8 82.3,469.8 84.2,469.8 86.1,469.8 87.9,469.8 89.8,469.8 91.6,469.8 93.5,469.8 95.4,469.8 97.2,469.8 99.1,469.8 100.9,469.8 102.8,469.8 104.6,469.8 106.5,469.8 108.4,469.8 110.2,469.8 112.1,469.8 113.9,469.8 115.8,469.8 117.6,469.8 119.5,469.8 121.4,469.8 123.2,469.8 125.1,469.8 126.9,469.8 128.8,469.8 130.6,469.8 132.5,469.8 134.4,469.8 136.2,469.8 138.1,469.8 139.9,469.7 141.8,469.5 143.6,469.0 145.5,468.0 147.4,466.1 149.2,463.4 151.1,459.8 152.9,455.5 154.8,450.7 156.6,445.8 158.5,440.9 160.4,436.3 162.2,432.1 164.1,428.2 165.9,424.9 167.8,421.9 169.6,419.4 171.5,417.2 173.4,415.3 175.2,413.7 177.1,412.3 178.9,411.1 180.8,410.1 182.6,409.2 184.5,408.4 186.4,407.7 188.2,407.1 190.1,406.5 191.9,406.0 193.8,405.5 195.7,405.1 197.5,404.6 199.4,404.2 201.2,403.8 203.1,403.4 204.9,403.1 206.8,402.7 208.7,402.3 210.5,402.0 212.4,401.6 214.2,401.3 216.1,400.9 217.9,400.6 219.8,400.2 221.7,399.9 223.5,399.6 225.4,399.2 227.2,398.9 229.1,398.6 230.9,398.2 232.8,397.9" fill="none" stroke="#279827" stroke-width="0.9" stroke-opacity="0.85"/>
<path d="M48.9,469.8 50.8,469.8 52.6,469.8 54.5,469.8 56.3,469.8 58.2,469.8 60.1,469.8 61.9,469.8 63.8,469.8 65.6,469.8 67.5,469.8 69.3,469.8 71.2,469.8 73.1,469.8 74.9,469.8 76.8,469.8 78.6,469.8 80.5,469.8 82.3,469.8 84.2,469.8 86.1,469.8 87.9,469.8 89.8,469.8 91.6,469.8 93.5,469.8 95.4,469.8 97.2,469.8 99.1,469.8 100.9,469.8 102.8,469.8 104.6,469.8 106.5,469.8 108.4,469.8 110.2,469.8 112.1,469.8 113.9,469.8 115.8,469.8 117.6,469.8 119.5,469.8 121.4,469.8 123.2,469.8 125.1,469.8 126.9,469.8 128.8,469.8 130.6,469.8 132.5,469.8 134.4,469.8 136.2,469.8 138.1,469.8 139.9,469.8 141.8,469.7 143.6,469.3 145.5,468.5 147.4,467.0 149.2,464.5 151.1,461.0 152.9,456.6 154.8,451.7 156.6,446.3 158.5,440.9 160.4,435.7 162.2,430.8 164.1,426.4 165.9,422.4 167.8,419.0 169.6,416.0 171.5,413.4 173.4,411.2 175.2,409.3 177.1,407.7 178.9,406.3 180.8,405.1 182.6,404.1 184.5,403.2 186.4,402.4 188.2,401.7 190.1,401.1 191.9,400.5 193.8,400.0 195.7,399.5 197.5,399.1 199.4,398.6 201.2,398.2 203.1,397.8 204.9,397.4 206.8,397.1 208.7,396.7 210.5,396.3 212.4,396.0 214.2,395.6 216.1,395.3 217.9,395.0 219.8,394.6 221.7,394.3 223.5,393.9 225.4,393.6 227.2,393.3 229.1,392.9 230.9,392.6 232.8,392.2" fill="none" stroke="#279827" stroke-width="0.9" stroke-opacity="0.85"/>
<path d="M48.9,469.8 50.8,469.8 52.6,469.8 54.5,469.8 56.3,469.8 58.2,469.8 60.1,469.8 61.9,469.8 63.8,469.8 65.6,469.8 67.5,469.8 69.3,469.8 71.2,469.8 73.1,469.8 74.9,469.8 76.8,469.8 78.6,469.8 80.5,469.8 82.3,469.8 84.2,469.8 86.1,469.8 87.9,469.8 89.8,469.8 91.6,469.8 93.5,469.8 95.4,469.8 97.2,469.8 99.1,469.8 100.9,469.8 102.8,469.8 104.6,469.8 106.5,469.8 108.4,469.8 110.2,469.8 112.1,469.8 113.9,469.8 115.8,469.8 117.6,469.8 119.5,469.8 121.4,469.8 123.2,469.8 125.1,469.8 126.9,469.8 128.8,469.8 130.6,469.8 132.5,469.8 134.4,469.8 136.2,469.8 138.1,469.8 139.9,469.8 141.8,469.8 143.6,469.8 145.5,469.8 147.4,469.8 149.2,469.8 151.1,469.8 152.9,469.8 154.8,469.8 156.6,469.7 158.5,469.5 160.4,468.8 162.2,467.3 164.1,464.6 165.9,460.7 167.8,455.6 169.6,449.7 171.5,443.5 173.4,437.3 175.2,431.4 177.1,426.1 178.9,421.5 180.8,417.4 182.6,414.0 184.5,411.0 186.4,408.6 188.2,406.6 190.1,404.8 191.9,403.4 193.8,402.2 195.7,401.1 197.5,400.2 199.4,399.4 201.2,398.7 203.1,398.0 204.9,397.4 206.8,396.9 208.7,396.4 210.5,395.9 212.4,395.4 214.2,395.0 216.1,394.5 217.9,394.1 219.8,393.7 221.7,393.3 223.5,392.9 225.4,392.4 227.2,392.0 229.1,391.6 230.9,391.2 232.8,390.8" fill="none" stroke="#279827" stroke-width="0.9" stroke-opacity="0.85"/>
<path d="M48.9,469.8 50.8,469.8 52.6,469.8 54.5,469.8 56.3,469.8 58.2,469.8 60.1,469.8 61.9,469.8 63.8,469.8 65.6,469.8 67.5,469.8 69.3,469.8 71.2,469.8 73.1,469.8 74.9,469.8 76.8,469.8 78.6,469.8 80.5,469.8 82.3,469.8 84.2,469.8 86.1,469.8 87.9,469.8 89.8,469.8 91.6,469.8 93.5,469.8 95.4,469.8 97.2,469.8 99.1,469.8 100.9,469.8 102.8,469.8 104.6,469.8 106.5,469.8 108.4,469.8 110.2,469.8 112.1,469.8 113.9,469.8 115.8,469.8 117.6,469.8 119.5,469.8 121.4,469.8 123.2,469.8 125.1,469.8 126.9,469.8 128.8,469.8 130.6,469.8 132.5,469.8 134.4,469.8 136.2,469.8 138.1,469.8 139.9,469.8 141.8,469.8 143.6,469.8 145.5,469.8 147.4,469.8 149.2,469.8 151.1,469.8 152.9,469.8 154.8,469.8 156.6,469.8 158.5,469.6 160.4,469.0 162.2,467.7 164.1,465.4 165.9,461.9 167.8,457.4 169.6,452.2 171.5,446.6 173.4,441.0 175.2,435.8 177.1,431.0 178.9,426.7 180.8,423.0 182.6,419.9 184.5,417.2 186.4,415.0 188.2,413.1 190.1,411.5 191.9,410.1 193.8,409.0 195.7,408.0 197.5,407.1 199.4,406.3 201.2,405.6 203.1,405.0 204.9,404.4 206.8,403.9 208.7,403.4 210.5,402.9 212.4,402.5 214.2,402.0 216.1,401.6 217.9,401.1 219.8,400.7 221.7,400.3 223.5,399.9 225.4,399.5 227.2,399.1 229.1,398.7 230.9,398.3 232.8,397.9" fill="none" stroke="#279827" stroke-width="0.9" stroke-opacity="0.85"/>
<path d="M48.9,469.8 50.8,469.8 52.6,469.8 54.5,469.8 56.3,469.8 58.2,469.8 60.1,469.8 61.9,469.8 63.8,469.8 65.6,469.8 67.5,469.8 69.3,469.8 71.2,469.8 73.1,469.8 74.9,469.8 76.8,469.8 78.6,469.8 80.5,469.8 82.3,469.8 84.2,469.8 86.1,469.8 87.9,469.8 89.8,469.8 91.6,469.8 93.5,469.8 95.4,469.8 97.2,469.8 99.1,469.8 100.9,469.8 102.8,469.8 104.6,469.8 106.5,469.8 108.4,469.8 110.2,469.8 112.1,469.8 113.9,469.8 115.8,469.8 117.6,469.8 119.5,469.8 121.4,469.8 123.2,469.8 125.1,469.8 126.9,469.8 128.8,469.8 130.6,469.8 132.5,469.8 134.4,469.8 136.2,469.8 138.1,469.8 139.9,469.8 141.8,469.8 143.6,469.8 145.5,469.8 147.4,469.8 149.2,469.8 151.1,469.8 152.9,469.8 154.8,469.8 156.6,469.8 158.5,469.7 160.4,469.3 162.2,468.3 164.1,466.3 165.9,463.1 167.8,458.8 169.6,453.6 171.5,447.9 173.4,442.0 175.2,436.3 177.1,431.1 178.9,426.4 180.8,422.3 182.6,418.7 184.5,415.7 186.4,413.2 188.2,411.1 190.1,409.3 191.9,407.8 193.8,406.6 195.7,405.5 197.5,404.5 199.4,403.7 201.2,403.0 203.1,402.3 204.9,401.7 206.8,401.2 208.7,400.6 210.5,400.1 212.4,399.7 214.2,399.2 216.1,398.8 217.9,398.3 219.8,397.9 221.7,397.5 223.5,397.1 225.4,396.7 227.2,396.3 229.1,395.9 230.9,395.5 232.8,395.1" fill="none" stroke="#279827" stroke-width="0.9" stroke-opacity="0.85"/>
<line x1="309.80" y1="370.30" x2="309.80" y2="471.60" stroke="#a8a8a8" stroke-width="0.75" stroke-dasharray="1.3,2.2"/>
<line x1="346.38" y1="370.30" x2="346.38" y2="471.60" stroke="#a8a8a8" stroke-width="0.75" stroke-dasharray="1.3,2.2"/>
<line x1="382.95" y1="370.30" x2="382.95" y2="471.60" stroke="#a8a8a8" stroke-width="0.75" stroke-dasharray="1.3,2.2"/>
<line x1="419.53" y1="370.30" x2="419.53" y2="471.60" stroke="#a8a8a8" stroke-width="0.75" stroke-dasharray="1.3,2.2"/>
<line x1="456.10" y1="370.30" x2="456.10" y2="471.60" stroke="#a8a8a8" stroke-width="0.75" stroke-dasharray="1.3,2.2"/>
<line x1="285.20" y1="461.20" x2="489.50" y2="461.20" stroke="#a8a8a8" stroke-width="0.75" stroke-dasharray="1.3,2.2"/>
<line x1="285.20" y1="434.10" x2="489.50" y2="434.10" stroke="#a8a8a8" stroke-width="0.75" stroke-dasharray="1.3,2.2"/>
<line x1="285.20" y1="407.00" x2="489.50" y2="407.00" stroke="#a8a8a8" stroke-width="0.75" stroke-dasharray="1.3,2.2"/>
<line x1="285.20" y1="379.90" x2="489.50" y2="379.90" stroke="#a8a8a8" stroke-width="0.75" stroke-dasharray="1.3,2.2"/>
<line x1="285.20" y1="370.30" x2="489.50" y2="370.30" stroke="#707070" stroke-width="0.9" />
<line x1="489.50" y1="370.30" x2="489.50" y2="471.60" stroke="#707070" stroke-width="0.9" />
<line x1="285.20" y1="370.30" x2="285.20" y2="472.10" stroke="#555" stroke-width="1.1" />
<line x1="284.70" y1="471.60" x2="489.50" y2="471.60" stroke="#555" stroke-width="1.1" />
<path d="M284.1,472.0h2.2M488.5,472.0h2.0M284.1,466.6h2.2M488.5,466.6h2.0M284.1,461.2h2.2M488.5,461.2h2.0M284.1,455.8h2.2M488.5,455.8h2.0M284.1,450.4h2.2M488.5,450.4h2.0M284.1,444.9h2.2M488.5,444.9h2.0M284.1,439.5h2.2M488.5,439.5h2.0M284.1,434.1h2.2M488.5,434.1h2.0M284.1,428.7h2.2M488.5,428.7h2.0M284.1,423.3h2.2M488.5,423.3h2.0M284.1,417.8h2.2M488.5,417.8h2.0M284.1,412.4h2.2M488.5,412.4h2.0M284.1,407.0h2.2M488.5,407.0h2.0M284.1,401.6h2.2M488.5,401.6h2.0M284.1,396.2h2.2M488.5,396.2h2.0M284.1,390.7h2.2M488.5,390.7h2.0M284.1,385.3h2.2M488.5,385.3h2.0M284.1,379.9h2.2M488.5,379.9h2.0M284.1,374.5h2.2M488.5,374.5h2.0M287.9,470.5v2.2M295.2,470.5v2.2M302.5,470.5v2.2M309.8,470.5v2.2M317.1,470.5v2.2M324.4,470.5v2.2M331.7,470.5v2.2M339.1,470.5v2.2M346.4,470.5v2.2M353.7,470.5v2.2M361.0,470.5v2.2M368.3,470.5v2.2M375.6,470.5v2.2M383.0,470.5v2.2M390.3,470.5v2.2M397.6,470.5v2.2M404.9,470.5v2.2M412.2,470.5v2.2M419.5,470.5v2.2M426.8,470.5v2.2M434.2,470.5v2.2M441.5,470.5v2.2M448.8,470.5v2.2M456.1,470.5v2.2M463.4,470.5v2.2M470.7,470.5v2.2M478.0,470.5v2.2M485.4,470.5v2.2" stroke="#444" stroke-width="1.3" fill="none"/>
<text x="280.60" y="463.22" font-size="5.6" text-anchor="end" stroke="#666670" stroke-width="0.12" stroke-linejoin="round" fill="#666670" >10</text>
<text x="280.60" y="436.12" font-size="5.6" text-anchor="end" stroke="#666670" stroke-width="0.12" stroke-linejoin="round" fill="#666670" >15</text>
<text x="280.60" y="409.02" font-size="5.6" text-anchor="end" stroke="#666670" stroke-width="0.12" stroke-linejoin="round" fill="#666670" >20</text>
<text x="280.60" y="381.92" font-size="5.6" text-anchor="end" stroke="#666670" stroke-width="0.12" stroke-linejoin="round" fill="#666670" >25</text>
<text x="309.80" y="481.60" font-size="5.6" text-anchor="middle" stroke="#666670" stroke-width="0.12" stroke-linejoin="round" fill="#666670" >5</text>
<text x="346.38" y="481.60" font-size="5.6" text-anchor="middle" stroke="#666670" stroke-width="0.12" stroke-linejoin="round" fill="#666670" >6</text>
<text x="382.95" y="481.60" font-size="5.6" text-anchor="middle" stroke="#666670" stroke-width="0.12" stroke-linejoin="round" fill="#666670" >7</text>
<text x="419.53" y="481.60" font-size="5.6" text-anchor="middle" stroke="#666670" stroke-width="0.12" stroke-linejoin="round" fill="#666670" >8</text>
<text x="456.10" y="481.60" font-size="5.6" text-anchor="middle" stroke="#666670" stroke-width="0.12" stroke-linejoin="round" fill="#666670" >9</text>
<line x1="294.44" y1="374.40" x2="482.80" y2="468.44" stroke="#5ab85a" stroke-width="1.1" />
<circle cx="294.44" cy="375.22" r="1.9" fill="none" stroke="#3aa03a" stroke-width="1.0"/>
<circle cx="294.44" cy="373.59" r="1.9" fill="none" stroke="#3aa03a" stroke-width="1.0"/>
<circle cx="331.01" cy="393.48" r="1.9" fill="none" stroke="#3aa03a" stroke-width="1.0"/>
<circle cx="331.01" cy="391.85" r="1.9" fill="none" stroke="#3aa03a" stroke-width="1.0"/>
<circle cx="367.59" cy="411.74" r="1.9" fill="none" stroke="#3aa03a" stroke-width="1.0"/>
<circle cx="367.59" cy="410.11" r="1.9" fill="none" stroke="#3aa03a" stroke-width="1.0"/>
<circle cx="404.16" cy="430.00" r="1.9" fill="none" stroke="#3aa03a" stroke-width="1.0"/>
<circle cx="404.16" cy="428.37" r="1.9" fill="none" stroke="#3aa03a" stroke-width="1.0"/>
<circle cx="440.74" cy="448.26" r="1.9" fill="none" stroke="#3aa03a" stroke-width="1.0"/>
<circle cx="440.74" cy="446.63" r="1.9" fill="none" stroke="#3aa03a" stroke-width="1.0"/>
<circle cx="477.31" cy="466.52" r="1.9" fill="none" stroke="#3aa03a" stroke-width="1.0"/>
<circle cx="477.31" cy="464.89" r="1.9" fill="none" stroke="#3aa03a" stroke-width="1.0"/>
<text x="379.50" y="384.40" font-size="10.6" font-weight="bold" textLength="85.50" lengthAdjust="spacingAndGlyphs" stroke="#1a1a1a" stroke-width="0.25" stroke-linejoin="round" fill="#1a1a1a" >E=98.1% R²=0.999</text>
<text x="361.00" y="397.80" font-size="10.6" font-weight="bold" textLength="126.58" lengthAdjust="spacingAndGlyphs" stroke="#1a1a1a" stroke-width="0.25" stroke-linejoin="round" fill="#1a1a1a" >Slope=-3.369 y-int=41.444</text>
<line x1="546.30" y1="370.30" x2="546.30" y2="470.40" stroke="#a8a8a8" stroke-width="0.75" stroke-dasharray="1.3,2.2"/>
<line x1="576.62" y1="370.30" x2="576.62" y2="470.40" stroke="#a8a8a8" stroke-width="0.75" stroke-dasharray="1.3,2.2"/>
<line x1="606.93" y1="370.30" x2="606.93" y2="470.40" stroke="#a8a8a8" stroke-width="0.75" stroke-dasharray="1.3,2.2"/>
<line x1="637.25" y1="370.30" x2="637.25" y2="470.40" stroke="#a8a8a8" stroke-width="0.75" stroke-dasharray="1.3,2.2"/>
<line x1="667.57" y1="370.30" x2="667.57" y2="470.40" stroke="#a8a8a8" stroke-width="0.75" stroke-dasharray="1.3,2.2"/>
<line x1="697.88" y1="370.30" x2="697.88" y2="470.40" stroke="#a8a8a8" stroke-width="0.75" stroke-dasharray="1.3,2.2"/>
<line x1="728.20" y1="370.30" x2="728.20" y2="470.40" stroke="#a8a8a8" stroke-width="0.75" stroke-dasharray="1.3,2.2"/>
<line x1="537.40" y1="469.00" x2="738.00" y2="469.00" stroke="#a8a8a8" stroke-width="0.75" stroke-dasharray="1.3,2.2"/>
<line x1="537.40" y1="442.60" x2="738.00" y2="442.60" stroke="#a8a8a8" stroke-width="0.75" stroke-dasharray="1.3,2.2"/>
<line x1="537.40" y1="416.20" x2="738.00" y2="416.20" stroke="#a8a8a8" stroke-width="0.75" stroke-dasharray="1.3,2.2"/>
<line x1="537.40" y1="389.80" x2="738.00" y2="389.80" stroke="#a8a8a8" stroke-width="0.75" stroke-dasharray="1.3,2.2"/>
<line x1="537.40" y1="370.30" x2="738.00" y2="370.30" stroke="#707070" stroke-width="0.9" />
<line x1="738.00" y1="370.30" x2="738.00" y2="470.40" stroke="#707070" stroke-width="0.9" />
<line x1="537.40" y1="370.30" x2="537.40" y2="470.90" stroke="#555" stroke-width="1.1" />
<line x1="536.90" y1="470.40" x2="738.00" y2="470.40" stroke="#555" stroke-width="1.1" />
<path d="M536.3,469.0h2.2M737.0,469.0h2.0M536.3,463.7h2.2M737.0,463.7h2.0M536.3,458.4h2.2M737.0,458.4h2.0M536.3,453.2h2.2M737.0,453.2h2.0M536.3,447.9h2.2M737.0,447.9h2.0M536.3,442.6h2.2M737.0,442.6h2.0M536.3,437.3h2.2M737.0,437.3h2.0M536.3,432.0h2.2M737.0,432.0h2.0M536.3,426.8h2.2M737.0,426.8h2.0M536.3,421.5h2.2M737.0,421.5h2.0M536.3,416.2h2.2M737.0,416.2h2.0M536.3,410.9h2.2M737.0,410.9h2.0M536.3,405.6h2.2M737.0,405.6h2.0M536.3,400.4h2.2M737.0,400.4h2.0M536.3,395.1h2.2M737.0,395.1h2.0M536.3,389.8h2.2M737.0,389.8h2.0M536.3,384.5h2.2M737.0,384.5h2.0M536.3,379.2h2.2M737.0,379.2h2.0M536.3,374.0h2.2M737.0,374.0h2.0M540.2,469.3v2.2M546.3,469.3v2.2M552.4,469.3v2.2M558.4,469.3v2.2M564.5,469.3v2.2M570.6,469.3v2.2M576.6,469.3v2.2M582.7,469.3v2.2M588.7,469.3v2.2M594.8,469.3v2.2M600.9,469.3v2.2M606.9,469.3v2.2M613.0,469.3v2.2M619.1,469.3v2.2M625.1,469.3v2.2M631.2,469.3v2.2M637.2,469.3v2.2M643.3,469.3v2.2M649.4,469.3v2.2M655.4,469.3v2.2M661.5,469.3v2.2M667.6,469.3v2.2M673.6,469.3v2.2M679.7,469.3v2.2M685.8,469.3v2.2M691.8,469.3v2.2M697.9,469.3v2.2M703.9,469.3v2.2M710.0,469.3v2.2M716.1,469.3v2.2M722.1,469.3v2.2M728.2,469.3v2.2M734.3,469.3v2.2" stroke="#444" stroke-width="1.3" fill="none"/>
<text x="532.80" y="471.02" font-size="5.6" text-anchor="end" stroke="#666670" stroke-width="0.12" stroke-linejoin="round" fill="#666670" >0</text>
<text x="532.80" y="444.62" font-size="5.6" text-anchor="end" stroke="#666670" stroke-width="0.12" stroke-linejoin="round" fill="#666670" >500</text>
<text x="532.80" y="418.22" font-size="5.6" text-anchor="end" stroke="#666670" stroke-width="0.12" stroke-linejoin="round" fill="#666670" >1000</text>
<text x="532.80" y="391.82" font-size="5.6" text-anchor="end" stroke="#666670" stroke-width="0.12" stroke-linejoin="round" fill="#666670" >1500</text>
<text x="546.30" y="479.00" font-size="5.6" text-anchor="middle" stroke="#666670" stroke-width="0.12" stroke-linejoin="round" fill="#666670" >65</text>
<text x="576.62" y="479.00" font-size="5.6" text-anchor="middle" stroke="#666670" stroke-width="0.12" stroke-linejoin="round" fill="#666670" >70</text>
<text x="606.93" y="479.00" font-size="5.6" text-anchor="middle" stroke="#666670" stroke-width="0.12" stroke-linejoin="round" fill="#666670" >75</text>
<text x="637.25" y="479.00" font-size="5.6" text-anchor="middle" stroke="#666670" stroke-width="0.12" stroke-linejoin="round" fill="#666670" >80</text>
<text x="667.57" y="479.00" font-size="5.6" text-anchor="middle" stroke="#666670" stroke-width="0.12" stroke-linejoin="round" fill="#666670" >85</text>
<text x="697.88" y="479.00" font-size="5.6" text-anchor="middle" stroke="#666670" stroke-width="0.12" stroke-linejoin="round" fill="#666670" >90</text>
<text x="728.20" y="479.00" font-size="5.6" text-anchor="middle" stroke="#666670" stroke-width="0.12" stroke-linejoin="round" fill="#666670" >95</text>
<line x1="546.30" y1="437.32" x2="728.20" y2="437.32" stroke="#2e9a2e" stroke-width="1.6" />
<path d="M546.3,465.0 548.1,462.7 549.9,461.2 551.8,461.5 554.2,461.8 556.0,461.7 557.0,461.7 557.9,461.6 558.9,461.5 559.8,461.4 560.8,461.3 561.8,461.3 562.7,461.2 563.7,461.1 564.7,461.0 565.6,461.0 566.6,460.9 567.5,460.8 568.5,460.7 569.5,460.7 570.4,460.6 571.4,460.5 572.4,460.4 573.3,460.4 574.3,460.3 575.2,460.2 576.2,460.2 577.2,460.1 578.1,460.0 579.1,460.0 580.1,459.9 581.0,459.8 582.0,459.8 582.9,459.7 583.9,459.6 584.9,459.6 585.8,459.5 586.8,459.4 587.7,459.4 588.7,459.3 589.7,459.3 590.6,459.2 591.6,459.1 592.6,459.1 593.5,459.0 594.5,459.0 595.4,458.9 596.4,458.9 597.4,458.8 598.3,458.7 599.3,458.7 600.3,458.6 601.2,458.6 602.2,458.5 603.1,458.5 604.1,458.4 605.1,458.4 606.0,458.3 607.0,458.3 607.9,458.2 608.9,458.2 609.9,458.1 610.8,458.1 611.8,458.0 612.8,457.9 613.7,457.8 614.7,457.7 615.6,457.6 616.6,457.4 617.6,457.2 618.5,456.9 619.5,456.6 620.5,456.1 621.4,455.6 622.4,454.9 623.3,454.0 624.3,453.0 625.3,451.7 626.2,450.2 627.2,448.4 628.2,446.4 629.1,444.1 630.1,441.5 631.0,438.6 632.0,435.5 633.0,432.3 633.9,428.9 634.9,425.4 635.8,422.0 636.8,418.8 637.8,415.8 638.7,413.1 639.7,410.9 640.7,409.3 641.6,408.2 642.6,407.8 643.5,408.1 644.5,409.2 645.5,411.6 646.4,415.3 647.4,419.8 648.4,425.0 649.3,430.6 650.3,436.3 651.2,441.8 652.2,447.0 653.2,451.5 654.1,455.5 655.1,458.8 656.0,461.5 657.0,463.6 658.0,465.2 658.9,466.4 659.9,467.2 660.9,467.8 661.8,468.3 662.8,468.5 663.7,468.7 664.7,468.8 665.7,468.9 666.6,468.9 667.6,469.0 668.6,469.0 669.5,469.0 670.5,469.0 671.4,469.0 672.4,469.0 673.4,469.0 674.3,469.0 675.3,469.0 676.3,469.0 677.2,469.0 678.2,469.0 679.1,469.0 680.1,469.0 681.1,469.0 682.0,469.0 683.0,469.0 683.9,469.0 684.9,469.0 685.9,469.0 686.8,469.0 687.8,469.0 688.8,469.0 689.7,469.0 690.7,469.0 691.6,469.0 692.6,469.0 693.6,469.0 694.5,469.0 695.5,469.0 696.5,469.0 697.4,469.0 698.4,469.0 699.3,469.0 700.3,469.0 701.3,469.0 702.2,469.0 703.2,469.0 704.1,469.0 705.1,469.0 706.1,469.0 707.0,469.0 708.0,469.0 709.0,469.0 709.9,469.0 710.9,469.0 711.8,469.0 712.8,469.0 713.8,469.0 714.7,469.0 715.7,469.0 716.7,469.0 717.6,469.0 718.6,469.0 719.5,469.0 720.5,469.0 721.5,469.0 722.4,469.0 723.4,469.0 724.4,469.0 725.3,469.0 726.3,469.0 727.2,469.0 728.2,469.0" fill="none" stroke="#1f8f1f" stroke-width="0.75" stroke-opacity="0.8"/>
<path d="M546.3,465.0 548.1,462.7 549.9,460.0 551.8,460.2 554.2,460.5 556.0,460.5 557.0,460.4 557.9,460.3 558.9,460.2 559.8,460.2 560.8,460.1 561.8,460.0 562.7,459.9 563.7,459.9 564.7,459.8 565.6,459.7 566.6,459.6 567.5,459.6 568.5,459.5 569.5,459.4 570.4,459.3 571.4,459.3 572.4,459.2 573.3,459.1 574.3,459.0 575.2,459.0 576.2,458.9 577.2,458.8 578.1,458.8 579.1,458.7 580.1,458.6 581.0,458.6 582.0,458.5 582.9,458.4 583.9,458.4 584.9,458.3 585.8,458.2 586.8,458.2 587.7,458.1 588.7,458.1 589.7,458.0 590.6,457.9 591.6,457.9 592.6,457.8 593.5,457.8 594.5,457.7 595.4,457.7 596.4,457.6 597.4,457.6 598.3,457.5 599.3,457.4 600.3,457.4 601.2,457.3 602.2,457.3 603.1,457.2 604.1,457.2 605.1,457.2 606.0,457.1 607.0,457.1 607.9,457.0 608.9,457.0 609.9,456.9 610.8,456.9 611.8,456.8 612.8,456.7 613.7,456.6 614.7,456.5 615.6,456.4 616.6,456.3 617.6,456.1 618.5,455.9 619.5,455.6 620.5,455.2 621.4,454.7 622.4,454.1 623.3,453.3 624.3,452.4 625.3,451.2 626.2,449.9 627.2,448.2 628.2,446.3 629.1,444.2 630.1,441.7 631.0,438.9 632.0,435.9 633.0,432.7 633.9,429.3 634.9,425.8 635.8,422.2 636.8,418.7 637.8,415.5 638.7,412.4 639.7,409.8 640.7,407.7 641.6,406.2 642.6,405.3 643.5,405.1 644.5,405.6 645.5,407.2 646.4,410.0 647.4,414.1 648.4,419.1 649.3,424.6 650.3,430.5 651.2,436.4 652.2,442.1 653.2,447.3 654.1,451.9 655.1,455.9 656.0,459.1 657.0,461.8 658.0,463.8 658.9,465.4 659.9,466.5 660.9,467.3 661.8,467.9 662.8,468.3 663.7,468.6 664.7,468.7 665.7,468.8 666.6,468.9 667.6,468.9 668.6,469.0 669.5,469.0 670.5,469.0 671.4,469.0 672.4,469.0 673.4,469.0 674.3,469.0 675.3,469.0 676.3,469.0 677.2,469.0 678.2,469.0 679.1,469.0 680.1,469.0 681.1,469.0 682.0,469.0 683.0,469.0 683.9,469.0 684.9,469.0 685.9,469.0 686.8,469.0 687.8,469.0 688.8,469.0 689.7,469.0 690.7,469.0 691.6,469.0 692.6,469.0 693.6,469.0 694.5,469.0 695.5,469.0 696.5,469.0 697.4,469.0 698.4,469.0 699.3,469.0 700.3,469.0 701.3,469.0 702.2,469.0 703.2,469.0 704.1,469.0 705.1,469.0 706.1,469.0 707.0,469.0 708.0,469.0 709.0,469.0 709.9,469.0 710.9,469.0 711.8,469.0 712.8,469.0 713.8,469.0 714.7,469.0 715.7,469.0 716.7,469.0 717.6,469.0 718.6,469.0 719.5,469.0 720.5,469.0 721.5,469.0 722.4,469.0 723.4,469.0 724.4,469.0 725.3,469.0 726.3,469.0 727.2,469.0 728.2,469.0" fill="none" stroke="#1f8f1f" stroke-width="0.75" stroke-opacity="0.8"/>
<path d="M546.3,465.0 548.1,462.7 549.9,460.9 551.8,461.2 554.2,461.5 556.0,461.4 557.0,461.3 557.9,461.3 558.9,461.2 559.8,461.1 560.8,461.0 561.8,461.0 562.7,460.9 563.7,460.8 564.7,460.7 565.6,460.7 566.6,460.6 567.5,460.5 568.5,460.4 569.5,460.4 570.4,460.3 571.4,460.2 572.4,460.2 573.3,460.1 574.3,460.0 575.2,459.9 576.2,459.9 577.2,459.8 578.1,459.7 579.1,459.7 580.1,459.6 581.0,459.5 582.0,459.5 582.9,459.4 583.9,459.3 584.9,459.3 585.8,459.2 586.8,459.2 587.7,459.1 588.7,459.0 589.7,459.0 590.6,458.9 591.6,458.9 592.6,458.8 593.5,458.7 594.5,458.7 595.4,458.6 596.4,458.6 597.4,458.5 598.3,458.5 599.3,458.4 600.3,458.4 601.2,458.3 602.2,458.3 603.1,458.2 604.1,458.2 605.1,458.1 606.0,458.1 607.0,458.0 607.9,458.0 608.9,457.9 609.9,457.9 610.8,457.8 611.8,457.8 612.8,457.7 613.7,457.6 614.7,457.6 615.6,457.5 616.6,457.3 617.6,457.2 618.5,457.0 619.5,456.7 620.5,456.4 621.4,455.9 622.4,455.4 623.3,454.7 624.3,453.9 625.3,452.8 626.2,451.6 627.2,450.1 628.2,448.3 629.1,446.2 630.1,443.8 631.0,441.2 632.0,438.2 633.0,434.9 633.9,431.4 634.9,427.8 635.8,424.0 636.8,420.3 637.8,416.6 638.7,413.1 639.7,410.0 640.7,407.3 641.6,405.1 642.6,403.6 643.5,402.7 644.5,402.6 645.5,403.2 646.4,405.1 647.4,408.4 648.4,412.8 649.3,418.1 650.3,424.0 651.2,430.2 652.2,436.4 653.2,442.2 654.1,447.5 655.1,452.1 656.0,456.1 657.0,459.4 658.0,462.0 658.9,464.0 659.9,465.5 660.9,466.6 661.8,467.4 662.8,468.0 663.7,468.3 664.7,468.6 665.7,468.7 666.6,468.8 667.6,468.9 668.6,468.9 669.5,469.0 670.5,469.0 671.4,469.0 672.4,469.0 673.4,469.0 674.3,469.0 675.3,469.0 676.3,469.0 677.2,469.0 678.2,469.0 679.1,469.0 680.1,469.0 681.1,469.0 682.0,469.0 683.0,469.0 683.9,469.0 684.9,469.0 685.9,469.0 686.8,469.0 687.8,469.0 688.8,469.0 689.7,469.0 690.7,469.0 691.6,469.0 692.6,469.0 693.6,469.0 694.5,469.0 695.5,469.0 696.5,469.0 697.4,469.0 698.4,469.0 699.3,469.0 700.3,469.0 701.3,469.0 702.2,469.0 703.2,469.0 704.1,469.0 705.1,469.0 706.1,469.0 707.0,469.0 708.0,469.0 709.0,469.0 709.9,469.0 710.9,469.0 711.8,469.0 712.8,469.0 713.8,469.0 714.7,469.0 715.7,469.0 716.7,469.0 717.6,469.0 718.6,469.0 719.5,469.0 720.5,469.0 721.5,469.0 722.4,469.0 723.4,469.0 724.4,469.0 725.3,469.0 726.3,469.0 727.2,469.0 728.2,469.0" fill="none" stroke="#1f8f1f" stroke-width="0.75" stroke-opacity="0.8"/>
<path d="M546.3,465.0 548.1,462.7 549.9,459.7 551.8,459.9 554.2,460.2 556.0,460.2 557.0,460.1 557.9,460.0 558.9,459.9 559.8,459.8 560.8,459.8 561.8,459.7 562.7,459.6 563.7,459.5 564.7,459.5 565.6,459.4 566.6,459.3 567.5,459.2 568.5,459.2 569.5,459.1 570.4,459.0 571.4,458.9 572.4,458.9 573.3,458.8 574.3,458.7 575.2,458.7 576.2,458.6 577.2,458.5 578.1,458.4 579.1,458.4 580.1,458.3 581.0,458.2 582.0,458.2 582.9,458.1 583.9,458.0 584.9,458.0 585.8,457.9 586.8,457.9 587.7,457.8 588.7,457.7 589.7,457.7 590.6,457.6 591.6,457.6 592.6,457.5 593.5,457.4 594.5,457.4 595.4,457.3 596.4,457.3 597.4,457.2 598.3,457.2 599.3,457.1 600.3,457.1 601.2,457.0 602.2,457.0 603.1,456.9 604.1,456.9 605.1,456.8 606.0,456.8 607.0,456.7 607.9,456.7 608.9,456.6 609.9,456.6 610.8,456.5 611.8,456.4 612.8,456.4 613.7,456.3 614.7,456.2 615.6,456.0 616.6,455.9 617.6,455.6 618.5,455.4 619.5,455.0 620.5,454.6 621.4,454.0 622.4,453.2 623.3,452.4 624.3,451.3 625.3,449.9 626.2,448.3 627.2,446.4 628.2,444.3 629.1,441.8 630.1,439.0 631.0,435.8 632.0,432.5 633.0,428.8 633.9,425.1 634.9,421.2 635.8,417.3 636.8,413.6 637.8,410.1 638.7,406.9 639.7,404.2 640.7,402.1 641.6,400.7 642.6,399.9 643.5,400.0 644.5,400.8 645.5,403.0 646.4,406.6 647.4,411.4 648.4,417.0 649.3,423.2 650.3,429.7 651.2,436.0 652.2,442.0 653.2,447.4 654.1,452.1 655.1,456.1 656.0,459.4 657.0,462.1 658.0,464.1 658.9,465.6 659.9,466.7 660.9,467.5 661.8,468.0 662.8,468.4 663.7,468.6 664.7,468.8 665.7,468.8 666.6,468.9 667.6,468.9 668.6,469.0 669.5,469.0 670.5,469.0 671.4,469.0 672.4,469.0 673.4,469.0 674.3,469.0 675.3,469.0 676.3,469.0 677.2,469.0 678.2,469.0 679.1,469.0 680.1,469.0 681.1,469.0 682.0,469.0 683.0,469.0 683.9,469.0 684.9,469.0 685.9,469.0 686.8,469.0 687.8,469.0 688.8,469.0 689.7,469.0 690.7,469.0 691.6,469.0 692.6,469.0 693.6,469.0 694.5,469.0 695.5,469.0 696.5,469.0 697.4,469.0 698.4,469.0 699.3,469.0 700.3,469.0 701.3,469.0 702.2,469.0 703.2,469.0 704.1,469.0 705.1,469.0 706.1,469.0 707.0,469.0 708.0,469.0 709.0,469.0 709.9,469.0 710.9,469.0 711.8,469.0 712.8,469.0 713.8,469.0 714.7,469.0 715.7,469.0 716.7,469.0 717.6,469.0 718.6,469.0 719.5,469.0 720.5,469.0 721.5,469.0 722.4,469.0 723.4,469.0 724.4,469.0 725.3,469.0 726.3,469.0 727.2,469.0 728.2,469.0" fill="none" stroke="#1f8f1f" stroke-width="0.75" stroke-opacity="0.8"/>
<path d="M546.3,465.0 548.1,462.7 549.9,460.6 551.8,460.8 554.2,461.2 556.0,461.1 557.0,461.0 557.9,460.9 558.9,460.9 559.8,460.8 560.8,460.7 561.8,460.6 562.7,460.6 563.7,460.5 564.7,460.4 565.6,460.3 566.6,460.3 567.5,460.2 568.5,460.1 569.5,460.0 570.4,460.0 571.4,459.9 572.4,459.8 573.3,459.8 574.3,459.7 575.2,459.6 576.2,459.5 577.2,459.5 578.1,459.4 579.1,459.3 580.1,459.3 581.0,459.2 582.0,459.1 582.9,459.1 583.9,459.0 584.9,459.0 585.8,458.9 586.8,458.8 587.7,458.8 588.7,458.7 589.7,458.6 590.6,458.6 591.6,458.5 592.6,458.5 593.5,458.4 594.5,458.4 595.4,458.3 596.4,458.3 597.4,458.2 598.3,458.1 599.3,458.1 600.3,458.0 601.2,458.0 602.2,457.9 603.1,457.9 604.1,457.8 605.1,457.8 606.0,457.8 607.0,457.7 607.9,457.7 608.9,457.6 609.9,457.6 610.8,457.5 611.8,457.4 612.8,457.4 613.7,457.3 614.7,457.2 615.6,457.1 616.6,456.9 617.6,456.7 618.5,456.5 619.5,456.2 620.5,455.8 621.4,455.3 622.4,454.7 623.3,453.9 624.3,452.9 625.3,451.7 626.2,450.3 627.2,448.6 628.2,446.6 629.1,444.2 630.1,441.6 631.0,438.6 632.0,435.3 633.0,431.7 633.9,427.9 634.9,423.9 635.8,419.9 636.8,415.9 637.8,412.1 638.7,408.5 639.7,405.2 640.7,402.5 641.6,400.4 642.6,399.0 643.5,398.4 644.5,398.5 645.5,399.6 646.4,402.1 647.4,406.1 648.4,411.2 649.3,417.1 650.3,423.6 651.2,430.2 652.2,436.6 653.2,442.6 654.1,448.0 655.1,452.7 656.0,456.7 657.0,459.9 658.0,462.4 658.9,464.4 659.9,465.8 660.9,466.8 661.8,467.6 662.8,468.1 663.7,468.4 664.7,468.6 665.7,468.8 666.6,468.9 667.6,468.9 668.6,468.9 669.5,469.0 670.5,469.0 671.4,469.0 672.4,469.0 673.4,469.0 674.3,469.0 675.3,469.0 676.3,469.0 677.2,469.0 678.2,469.0 679.1,469.0 680.1,469.0 681.1,469.0 682.0,469.0 683.0,469.0 683.9,469.0 684.9,469.0 685.9,469.0 686.8,469.0 687.8,469.0 688.8,469.0 689.7,469.0 690.7,469.0 691.6,469.0 692.6,469.0 693.6,469.0 694.5,469.0 695.5,469.0 696.5,469.0 697.4,469.0 698.4,469.0 699.3,469.0 700.3,469.0 701.3,469.0 702.2,469.0 703.2,469.0 704.1,469.0 705.1,469.0 706.1,469.0 707.0,469.0 708.0,469.0 709.0,469.0 709.9,469.0 710.9,469.0 711.8,469.0 712.8,469.0 713.8,469.0 714.7,469.0 715.7,469.0 716.7,469.0 717.6,469.0 718.6,469.0 719.5,469.0 720.5,469.0 721.5,469.0 722.4,469.0 723.4,469.0 724.4,469.0 725.3,469.0 726.3,469.0 727.2,469.0 728.2,469.0" fill="none" stroke="#1f8f1f" stroke-width="0.75" stroke-opacity="0.8"/>
<path d="M546.3,465.0 548.1,462.7 549.9,459.3 551.8,459.6 554.2,459.9 556.0,459.8 557.0,459.8 557.9,459.7 558.9,459.6 559.8,459.5 560.8,459.4 561.8,459.4 562.7,459.3 563.7,459.2 564.7,459.1 565.6,459.1 566.6,459.0 567.5,458.9 568.5,458.8 569.5,458.8 570.4,458.7 571.4,458.6 572.4,458.5 573.3,458.5 574.3,458.4 575.2,458.3 576.2,458.3 577.2,458.2 578.1,458.1 579.1,458.1 580.1,458.0 581.0,457.9 582.0,457.9 582.9,457.8 583.9,457.7 584.9,457.7 585.8,457.6 586.8,457.5 587.7,457.5 588.7,457.4 589.7,457.4 590.6,457.3 591.6,457.2 592.6,457.2 593.5,457.1 594.5,457.1 595.4,457.0 596.4,457.0 597.4,456.9 598.3,456.8 599.3,456.8 600.3,456.7 601.2,456.7 602.2,456.6 603.1,456.6 604.1,456.5 605.1,456.5 606.0,456.4 607.0,456.4 607.9,456.3 608.9,456.3 609.9,456.2 610.8,456.2 611.8,456.1 612.8,456.0 613.7,455.9 614.7,455.8 615.6,455.6 616.6,455.4 617.6,455.2 618.5,454.9 619.5,454.5 620.5,453.9 621.4,453.3 622.4,452.5 623.3,451.4 624.3,450.2 625.3,448.7 626.2,446.9 627.2,444.8 628.2,442.4 629.1,439.7 630.1,436.6 631.0,433.2 632.0,429.6 633.0,425.7 633.9,421.7 634.9,417.6 635.8,413.6 636.8,409.7 637.8,406.2 638.7,403.0 639.7,400.4 640.7,398.4 641.6,397.2 642.6,396.7 643.5,397.0 644.5,398.3 645.5,401.2 646.4,405.4 647.4,410.8 648.4,417.0 649.3,423.6 650.3,430.3 651.2,436.8 652.2,442.9 653.2,448.3 654.1,453.0 655.1,456.9 656.0,460.1 657.0,462.6 658.0,464.5 658.9,465.9 659.9,466.9 660.9,467.6 661.8,468.1 662.8,468.4 663.7,468.6 664.7,468.8 665.7,468.9 666.6,468.9 667.6,468.9 668.6,469.0 669.5,469.0 670.5,469.0 671.4,469.0 672.4,469.0 673.4,469.0 674.3,469.0 675.3,469.0 676.3,469.0 677.2,469.0 678.2,469.0 679.1,469.0 680.1,469.0 681.1,469.0 682.0,469.0 683.0,469.0 683.9,469.0 684.9,469.0 685.9,469.0 686.8,469.0 687.8,469.0 688.8,469.0 689.7,469.0 690.7,469.0 691.6,469.0 692.6,469.0 693.6,469.0 694.5,469.0 695.5,469.0 696.5,469.0 697.4,469.0 698.4,469.0 699.3,469.0 700.3,469.0 701.3,469.0 702.2,469.0 703.2,469.0 704.1,469.0 705.1,469.0 706.1,469.0 707.0,469.0 708.0,469.0 709.0,469.0 709.9,469.0 710.9,469.0 711.8,469.0 712.8,469.0 713.8,469.0 714.7,469.0 715.7,469.0 716.7,469.0 717.6,469.0 718.6,469.0 719.5,469.0 720.5,469.0 721.5,469.0 722.4,469.0 723.4,469.0 724.4,469.0 725.3,469.0 726.3,469.0 727.2,469.0 728.2,469.0" fill="none" stroke="#1f8f1f" stroke-width="0.75" stroke-opacity="0.8"/>
<path d="M546.3,465.0 548.1,462.7 549.9,460.3 551.8,460.5 554.2,460.8 556.0,460.8 557.0,460.7 557.9,460.6 558.9,460.6 559.8,460.5 560.8,460.4 561.8,460.3 562.7,460.2 563.7,460.2 564.7,460.1 565.6,460.0 566.6,459.9 567.5,459.9 568.5,459.8 569.5,459.7 570.4,459.7 571.4,459.6 572.4,459.5 573.3,459.4 574.3,459.4 575.2,459.3 576.2,459.2 577.2,459.2 578.1,459.1 579.1,459.0 580.1,459.0 581.0,458.9 582.0,458.8 582.9,458.8 583.9,458.7 584.9,458.6 585.8,458.6 586.8,458.5 587.7,458.4 588.7,458.4 589.7,458.3 590.6,458.3 591.6,458.2 592.6,458.1 593.5,458.1 594.5,458.0 595.4,458.0 596.4,457.9 597.4,457.9 598.3,457.8 599.3,457.8 600.3,457.7 601.2,457.7 602.2,457.6 603.1,457.6 604.1,457.5 605.1,457.5 606.0,457.4 607.0,457.4 607.9,457.3 608.9,457.3 609.9,457.2 610.8,457.2 611.8,457.1 612.8,457.0 613.7,456.9 614.7,456.8 615.6,456.7 616.6,456.5 617.6,456.3 618.5,456.1 619.5,455.7 620.5,455.3 621.4,454.7 622.4,454.0 623.3,453.1 624.3,452.0 625.3,450.7 626.2,449.1 627.2,447.2 628.2,445.0 629.1,442.4 630.1,439.5 631.0,436.3 632.0,432.7 633.0,428.9 633.9,424.9 634.9,420.8 635.8,416.6 636.8,412.5 637.8,408.5 638.7,404.9 639.7,401.8 640.7,399.2 641.6,397.3 642.6,396.1 643.5,395.7 644.5,396.1 645.5,397.8 646.4,401.0 647.4,405.6 648.4,411.2 649.3,417.6 650.3,424.4 651.2,431.2 652.2,437.8 653.2,443.8 654.1,449.2 655.1,453.7 656.0,457.6 657.0,460.6 658.0,463.0 658.9,464.8 659.9,466.1 660.9,467.1 661.8,467.7 662.8,468.2 663.7,468.5 664.7,468.7 665.7,468.8 666.6,468.9 667.6,468.9 668.6,469.0 669.5,469.0 670.5,469.0 671.4,469.0 672.4,469.0 673.4,469.0 674.3,469.0 675.3,469.0 676.3,469.0 677.2,469.0 678.2,469.0 679.1,469.0 680.1,469.0 681.1,469.0 682.0,469.0 683.0,469.0 683.9,469.0 684.9,469.0 685.9,469.0 686.8,469.0 687.8,469.0 688.8,469.0 689.7,469.0 690.7,469.0 691.6,469.0 692.6,469.0 693.6,469.0 694.5,469.0 695.5,469.0 696.5,469.0 697.4,469.0 698.4,469.0 699.3,469.0 700.3,469.0 701.3,469.0 702.2,469.0 703.2,469.0 704.1,469.0 705.1,469.0 706.1,469.0 707.0,469.0 708.0,469.0 709.0,469.0 709.9,469.0 710.9,469.0 711.8,469.0 712.8,469.0 713.8,469.0 714.7,469.0 715.7,469.0 716.7,469.0 717.6,469.0 718.6,469.0 719.5,469.0 720.5,469.0 721.5,469.0 722.4,469.0 723.4,469.0 724.4,469.0 725.3,469.0 726.3,469.0 727.2,469.0 728.2,469.0" fill="none" stroke="#1f8f1f" stroke-width="0.75" stroke-opacity="0.8"/>
<path d="M546.3,465.0 548.1,462.7 549.9,461.2 551.8,461.5 554.2,461.8 556.0,461.7 557.0,461.7 557.9,461.6 558.9,461.5 559.8,461.4 560.8,461.4 561.8,461.3 562.7,461.2 563.7,461.1 564.7,461.1 565.6,461.0 566.6,460.9 567.5,460.8 568.5,460.8 569.5,460.7 570.4,460.6 571.4,460.5 572.4,460.5 573.3,460.4 574.3,460.3 575.2,460.3 576.2,460.2 577.2,460.1 578.1,460.0 579.1,460.0 580.1,459.9 581.0,459.8 582.0,459.8 582.9,459.7 583.9,459.7 584.9,459.6 585.8,459.5 586.8,459.5 587.7,459.4 588.7,459.3 589.7,459.3 590.6,459.2 591.6,459.2 592.6,459.1 593.5,459.1 594.5,459.0 595.4,458.9 596.4,458.9 597.4,458.8 598.3,458.8 599.3,458.7 600.3,458.7 601.2,458.6 602.2,458.6 603.1,458.5 604.1,458.5 605.1,458.4 606.0,458.4 607.0,458.4 607.9,458.3 608.9,458.3 609.9,458.2 610.8,458.2 611.8,458.1 612.8,458.0 613.7,458.0 614.7,457.9 615.6,457.7 616.6,457.6 617.6,457.4 618.5,457.2 619.5,456.9 620.5,456.5 621.4,456.1 622.4,455.4 623.3,454.7 624.3,453.7 625.3,452.5 626.2,451.1 627.2,449.4 628.2,447.4 629.1,445.0 630.1,442.3 631.0,439.3 632.0,435.9 633.0,432.2 633.9,428.2 634.9,424.1 635.8,419.8 636.8,415.5 637.8,411.3 638.7,407.3 639.7,403.7 640.7,400.5 641.6,397.9 642.6,396.1 643.5,395.0 644.5,394.7 645.5,395.3 646.4,397.3 647.4,400.9 648.4,405.8 649.3,411.8 650.3,418.4 651.2,425.3 652.2,432.2 653.2,438.8 654.1,444.7 655.1,450.0 656.0,454.5 657.0,458.2 658.0,461.1 658.9,463.4 659.9,465.1 660.9,466.4 661.8,467.2 662.8,467.9 663.7,468.3 664.7,468.5 665.7,468.7 666.6,468.8 667.6,468.9 668.6,468.9 669.5,469.0 670.5,469.0 671.4,469.0 672.4,469.0 673.4,469.0 674.3,469.0 675.3,469.0 676.3,469.0 677.2,469.0 678.2,469.0 679.1,469.0 680.1,469.0 681.1,469.0 682.0,469.0 683.0,469.0 683.9,469.0 684.9,469.0 685.9,469.0 686.8,469.0 687.8,469.0 688.8,469.0 689.7,469.0 690.7,469.0 691.6,469.0 692.6,469.0 693.6,469.0 694.5,469.0 695.5,469.0 696.5,469.0 697.4,469.0 698.4,469.0 699.3,469.0 700.3,469.0 701.3,469.0 702.2,469.0 703.2,469.0 704.1,469.0 705.1,469.0 706.1,469.0 707.0,469.0 708.0,469.0 709.0,469.0 709.9,469.0 710.9,469.0 711.8,469.0 712.8,469.0 713.8,469.0 714.7,469.0 715.7,469.0 716.7,469.0 717.6,469.0 718.6,469.0 719.5,469.0 720.5,469.0 721.5,469.0 722.4,469.0 723.4,469.0 724.4,469.0 725.3,469.0 726.3,469.0 727.2,469.0 728.2,469.0" fill="none" stroke="#1f8f1f" stroke-width="0.75" stroke-opacity="0.8"/>
<path d="M546.3,465.0 548.1,462.7 549.9,460.0 551.8,460.2 554.2,460.5 556.0,460.5 557.0,460.4 557.9,460.3 558.9,460.2 559.8,460.2 560.8,460.1 561.8,460.0 562.7,459.9 563.7,459.9 564.7,459.8 565.6,459.7 566.6,459.6 567.5,459.6 568.5,459.5 569.5,459.4 570.4,459.3 571.4,459.3 572.4,459.2 573.3,459.1 574.3,459.0 575.2,459.0 576.2,458.9 577.2,458.8 578.1,458.8 579.1,458.7 580.1,458.6 581.0,458.6 582.0,458.5 582.9,458.4 583.9,458.4 584.9,458.3 585.8,458.2 586.8,458.2 587.7,458.1 588.7,458.1 589.7,458.0 590.6,457.9 591.6,457.9 592.6,457.8 593.5,457.8 594.5,457.7 595.4,457.7 596.4,457.6 597.4,457.5 598.3,457.5 599.3,457.4 600.3,457.4 601.2,457.3 602.2,457.3 603.1,457.2 604.1,457.2 605.1,457.1 606.0,457.1 607.0,457.0 607.9,457.0 608.9,456.9 609.9,456.9 610.8,456.8 611.8,456.8 612.8,456.7 613.7,456.6 614.7,456.5 615.6,456.3 616.6,456.1 617.6,455.9 618.5,455.6 619.5,455.2 620.5,454.7 621.4,454.1 622.4,453.3 623.3,452.3 624.3,451.1 625.3,449.6 626.2,447.8 627.2,445.8 628.2,443.3 629.1,440.6 630.1,437.5 631.0,434.0 632.0,430.3 633.0,426.3 633.9,422.1 634.9,417.8 635.8,413.5 636.8,409.3 637.8,405.4 638.7,401.8 639.7,398.8 640.7,396.3 641.6,394.6 642.6,393.7 643.5,393.6 644.5,394.4 645.5,396.8 646.4,400.6 647.4,405.8 648.4,412.0 649.3,418.8 650.3,425.8 651.2,432.7 652.2,439.3 653.2,445.2 654.1,450.5 655.1,454.9 656.0,458.5 657.0,461.4 658.0,463.6 658.9,465.3 659.9,466.5 660.9,467.3 661.8,467.9 662.8,468.3 663.7,468.6 664.7,468.7 665.7,468.8 666.6,468.9 667.6,468.9 668.6,469.0 669.5,469.0 670.5,469.0 671.4,469.0 672.4,469.0 673.4,469.0 674.3,469.0 675.3,469.0 676.3,469.0 677.2,469.0 678.2,469.0 679.1,469.0 680.1,469.0 681.1,469.0 682.0,469.0 683.0,469.0 683.9,469.0 684.9,469.0 685.9,469.0 686.8,469.0 687.8,469.0 688.8,469.0 689.7,469.0 690.7,469.0 691.6,469.0 692.6,469.0 693.6,469.0 694.5,469.0 695.5,469.0 696.5,469.0 697.4,469.0 698.4,469.0 699.3,469.0 700.3,469.0 701.3,469.0 702.2,469.0 703.2,469.0 704.1,469.0 705.1,469.0 706.1,469.0 707.0,469.0 708.0,469.0 709.0,469.0 709.9,469.0 710.9,469.0 711.8,469.0 712.8,469.0 713.8,469.0 714.7,469.0 715.7,469.0 716.7,469.0 717.6,469.0 718.6,469.0 719.5,469.0 720.5,469.0 721.5,469.0 722.4,469.0 723.4,469.0 724.4,469.0 725.3,469.0 726.3,469.0 727.2,469.0 728.2,469.0" fill="none" stroke="#1f8f1f" stroke-width="0.75" stroke-opacity="0.8"/>
<path d="M546.3,465.0 548.1,462.7 549.9,460.9 551.8,461.2 554.2,461.5 556.0,461.4 557.0,461.3 557.9,461.3 558.9,461.2 559.8,461.1 560.8,461.0 561.8,461.0 562.7,460.9 563.7,460.8 564.7,460.7 565.6,460.7 566.6,460.6 567.5,460.5 568.5,460.4 569.5,460.4 570.4,460.3 571.4,460.2 572.4,460.1 573.3,460.1 574.3,460.0 575.2,459.9 576.2,459.9 577.2,459.8 578.1,459.7 579.1,459.7 580.1,459.6 581.0,459.5 582.0,459.5 582.9,459.4 583.9,459.3 584.9,459.3 585.8,459.2 586.8,459.1 587.7,459.1 588.7,459.0 589.7,459.0 590.6,458.9 591.6,458.8 592.6,458.8 593.5,458.7 594.5,458.7 595.4,458.6 596.4,458.6 597.4,458.5 598.3,458.5 599.3,458.4 600.3,458.4 601.2,458.3 602.2,458.3 603.1,458.2 604.1,458.2 605.1,458.1 606.0,458.1 607.0,458.0 607.9,458.0 608.9,457.9 609.9,457.9 610.8,457.8 611.8,457.8 612.8,457.7 613.7,457.6 614.7,457.5 615.6,457.4 616.6,457.2 617.6,457.0 618.5,456.8 619.5,456.4 620.5,456.0 621.4,455.4 622.4,454.8 623.3,453.9 624.3,452.8 625.3,451.5 626.2,449.9 627.2,448.0 628.2,445.8 629.1,443.2 630.1,440.3 631.0,437.0 632.0,433.4 633.0,429.4 633.9,425.2 634.9,420.8 635.8,416.4 636.8,411.9 637.8,407.7 638.7,403.6 639.7,400.0 640.7,397.0 641.6,394.6 642.6,393.0 643.5,392.1 644.5,392.2 645.5,393.2 646.4,395.9 647.4,400.2 648.4,405.7 649.3,412.2 650.3,419.3 651.2,426.5 652.2,433.5 653.2,440.1 654.1,446.0 655.1,451.2 656.0,455.5 657.0,459.0 658.0,461.8 658.9,463.9 659.9,465.5 660.9,466.6 661.8,467.5 662.8,468.0 663.7,468.4 664.7,468.6 665.7,468.8 666.6,468.9 667.6,468.9 668.6,468.9 669.5,469.0 670.5,469.0 671.4,469.0 672.4,469.0 673.4,469.0 674.3,469.0 675.3,469.0 676.3,469.0 677.2,469.0 678.2,469.0 679.1,469.0 680.1,469.0 681.1,469.0 682.0,469.0 683.0,469.0 683.9,469.0 684.9,469.0 685.9,469.0 686.8,469.0 687.8,469.0 688.8,469.0 689.7,469.0 690.7,469.0 691.6,469.0 692.6,469.0 693.6,469.0 694.5,469.0 695.5,469.0 696.5,469.0 697.4,469.0 698.4,469.0 699.3,469.0 700.3,469.0 701.3,469.0 702.2,469.0 703.2,469.0 704.1,469.0 705.1,469.0 706.1,469.0 707.0,469.0 708.0,469.0 709.0,469.0 709.9,469.0 710.9,469.0 711.8,469.0 712.8,469.0 713.8,469.0 714.7,469.0 715.7,469.0 716.7,469.0 717.6,469.0 718.6,469.0 719.5,469.0 720.5,469.0 721.5,469.0 722.4,469.0 723.4,469.0 724.4,469.0 725.3,469.0 726.3,469.0 727.2,469.0 728.2,469.0" fill="none" stroke="#1f8f1f" stroke-width="0.75" stroke-opacity="0.8"/>
<path d="M546.3,465.0 548.1,462.7 549.9,459.7 551.8,459.9 554.2,460.2 556.0,460.2 557.0,460.1 557.9,460.0 558.9,459.9 559.8,459.8 560.8,459.8 561.8,459.7 562.7,459.6 563.7,459.5 564.7,459.5 565.6,459.4 566.6,459.3 567.5,459.2 568.5,459.2 569.5,459.1 570.4,459.0 571.4,458.9 572.4,458.9 573.3,458.8 574.3,458.7 575.2,458.7 576.2,458.6 577.2,458.5 578.1,458.4 579.1,458.4 580.1,458.3 581.0,458.2 582.0,458.2 582.9,458.1 583.9,458.0 584.9,458.0 585.8,457.9 586.8,457.9 587.7,457.8 588.7,457.7 589.7,457.7 590.6,457.6 591.6,457.6 592.6,457.5 593.5,457.4 594.5,457.4 595.4,457.3 596.4,457.3 597.4,457.2 598.3,457.2 599.3,457.1 600.3,457.1 601.2,457.0 602.2,457.0 603.1,456.9 604.1,456.9 605.1,456.8 606.0,456.8 607.0,456.7 607.9,456.7 608.9,456.6 609.9,456.5 610.8,456.5 611.8,456.4 612.8,456.3 613.7,456.2 614.7,456.1 615.6,455.9 616.6,455.7 617.6,455.4 618.5,455.1 619.5,454.6 620.5,454.1 621.4,453.3 622.4,452.4 623.3,451.3 624.3,450.0 625.3,448.3 626.2,446.4 627.2,444.1 628.2,441.4 629.1,438.4 630.1,435.0 631.0,431.3 632.0,427.2 633.0,423.0 633.9,418.5 634.9,414.0 635.8,409.6 636.8,405.3 637.8,401.3 638.7,397.8 639.7,394.8 640.7,392.6 641.6,391.1 642.6,390.4 643.5,390.6 644.5,392.0 645.5,395.0 646.4,399.6 647.4,405.4 648.4,412.1 649.3,419.4 650.3,426.7 651.2,433.8 652.2,440.4 653.2,446.4 654.1,451.5 655.1,455.8 656.0,459.3 657.0,462.0 658.0,464.1 658.9,465.6 659.9,466.7 660.9,467.5 661.8,468.0 662.8,468.4 663.7,468.6 664.7,468.8 665.7,468.9 666.6,468.9 667.6,468.9 668.6,469.0 669.5,469.0 670.5,469.0 671.4,469.0 672.4,469.0 673.4,469.0 674.3,469.0 675.3,469.0 676.3,469.0 677.2,469.0 678.2,469.0 679.1,469.0 680.1,469.0 681.1,469.0 682.0,469.0 683.0,469.0 683.9,469.0 684.9,469.0 685.9,469.0 686.8,469.0 687.8,469.0 688.8,469.0 689.7,469.0 690.7,469.0 691.6,469.0 692.6,469.0 693.6,469.0 694.5,469.0 695.5,469.0 696.5,469.0 697.4,469.0 698.4,469.0 699.3,469.0 700.3,469.0 701.3,469.0 702.2,469.0 703.2,469.0 704.1,469.0 705.1,469.0 706.1,469.0 707.0,469.0 708.0,469.0 709.0,469.0 709.9,469.0 710.9,469.0 711.8,469.0 712.8,469.0 713.8,469.0 714.7,469.0 715.7,469.0 716.7,469.0 717.6,469.0 718.6,469.0 719.5,469.0 720.5,469.0 721.5,469.0 722.4,469.0 723.4,469.0 724.4,469.0 725.3,469.0 726.3,469.0 727.2,469.0 728.2,469.0" fill="none" stroke="#1f8f1f" stroke-width="0.75" stroke-opacity="0.8"/>
<path d="M546.3,465.0 548.1,462.7 549.9,460.6 551.8,460.8 554.2,461.2 556.0,461.1 557.0,461.0 557.9,460.9 558.9,460.9 559.8,460.8 560.8,460.7 561.8,460.6 562.7,460.6 563.7,460.5 564.7,460.4 565.6,460.3 566.6,460.3 567.5,460.2 568.5,460.1 569.5,460.0 570.4,460.0 571.4,459.9 572.4,459.8 573.3,459.8 574.3,459.7 575.2,459.6 576.2,459.5 577.2,459.5 578.1,459.4 579.1,459.3 580.1,459.3 581.0,459.2 582.0,459.1 582.9,459.1 583.9,459.0 584.9,458.9 585.8,458.9 586.8,458.8 587.7,458.8 588.7,458.7 589.7,458.6 590.6,458.6 591.6,458.5 592.6,458.5 593.5,458.4 594.5,458.4 595.4,458.3 596.4,458.2 597.4,458.2 598.3,458.1 599.3,458.1 600.3,458.0 601.2,458.0 602.2,457.9 603.1,457.9 604.1,457.8 605.1,457.8 606.0,457.7 607.0,457.7 607.9,457.6 608.9,457.6 609.9,457.5 610.8,457.5 611.8,457.4 612.8,457.3 613.7,457.2 614.7,457.1 615.6,457.0 616.6,456.8 617.6,456.6 618.5,456.3 619.5,455.9 620.5,455.4 621.4,454.8 622.4,454.0 623.3,453.1 624.3,451.9 625.3,450.4 626.2,448.6 627.2,446.6 628.2,444.1 629.1,441.3 630.1,438.1 631.0,434.6 632.0,430.7 633.0,426.5 633.9,422.1 634.9,417.5 635.8,412.9 636.8,408.3 637.8,404.0 638.7,400.0 639.7,396.4 640.7,393.5 641.6,391.3 642.6,389.9 643.5,389.4 644.5,389.8 645.5,391.5 646.4,394.9 647.4,399.8 648.4,406.0 649.3,413.0 650.3,420.3 651.2,427.8 652.2,434.9 653.2,441.5 654.1,447.3 655.1,452.3 656.0,456.5 657.0,459.8 658.0,462.5 658.9,464.4 659.9,465.9 660.9,466.9 661.8,467.6 662.8,468.1 663.7,468.5 664.7,468.7 665.7,468.8 666.6,468.9 667.6,468.9 668.6,469.0 669.5,469.0 670.5,469.0 671.4,469.0 672.4,469.0 673.4,469.0 674.3,469.0 675.3,469.0 676.3,469.0 677.2,469.0 678.2,469.0 679.1,469.0 680.1,469.0 681.1,469.0 682.0,469.0 683.0,469.0 683.9,469.0 684.9,469.0 685.9,469.0 686.8,469.0 687.8,469.0 688.8,469.0 689.7,469.0 690.7,469.0 691.6,469.0 692.6,469.0 693.6,469.0 694.5,469.0 695.5,469.0 696.5,469.0 697.4,469.0 698.4,469.0 699.3,469.0 700.3,469.0 701.3,469.0 702.2,469.0 703.2,469.0 704.1,469.0 705.1,469.0 706.1,469.0 707.0,469.0 708.0,469.0 709.0,469.0 709.9,469.0 710.9,469.0 711.8,469.0 712.8,469.0 713.8,469.0 714.7,469.0 715.7,469.0 716.7,469.0 717.6,469.0 718.6,469.0 719.5,469.0 720.5,469.0 721.5,469.0 722.4,469.0 723.4,469.0 724.4,469.0 725.3,469.0 726.3,469.0 727.2,469.0 728.2,469.0" fill="none" stroke="#1f8f1f" stroke-width="0.75" stroke-opacity="0.8"/>
<path d="M546.3,465.0 548.1,462.7 549.9,459.3 551.8,459.6 554.2,459.9 556.0,459.8 557.0,459.8 557.9,459.7 558.9,459.6 559.8,459.5 560.8,459.5 561.8,459.4 562.7,459.3 563.7,459.2 564.7,459.2 565.6,459.1 566.6,459.0 567.5,458.9 568.5,458.9 569.5,458.8 570.4,458.7 571.4,458.6 572.4,458.6 573.3,458.5 574.3,458.4 575.2,458.4 576.2,458.3 577.2,458.2 578.1,458.1 579.1,458.1 580.1,458.0 581.0,457.9 582.0,457.9 582.9,457.8 583.9,457.8 584.9,457.7 585.8,457.6 586.8,457.6 587.7,457.5 588.7,457.4 589.7,457.4 590.6,457.3 591.6,457.3 592.6,457.2 593.5,457.2 594.5,457.1 595.4,457.0 596.4,457.0 597.4,456.9 598.3,456.9 599.3,456.8 600.3,456.8 601.2,456.7 602.2,456.7 603.1,456.6 604.1,456.6 605.1,456.5 606.0,456.5 607.0,456.4 607.9,456.4 608.9,456.4 609.9,456.3 610.8,456.2 611.8,456.2 612.8,456.1 613.7,456.0 614.7,455.9 615.6,455.8 616.6,455.7 617.6,455.5 618.5,455.2 619.5,454.9 620.5,454.5 621.4,454.0 622.4,453.4 623.3,452.5 624.3,451.5 625.3,450.2 626.2,448.7 627.2,446.9 628.2,444.7 629.1,442.1 630.1,439.2 631.0,436.0 632.0,432.3 633.0,428.3 633.9,424.1 634.9,419.6 635.8,415.0 636.8,410.3 637.8,405.8 638.7,401.6 639.7,397.7 640.7,394.3 641.6,391.6 642.6,389.7 643.5,388.5 644.5,388.3 645.5,389.0 646.4,391.2 647.4,395.1 648.4,400.5 649.3,407.0 650.3,414.2 651.2,421.7 652.2,429.2 653.2,436.3 654.1,442.7 655.1,448.4 656.0,453.3 657.0,457.3 658.0,460.5 658.9,462.9 659.9,464.8 660.9,466.1 661.8,467.1 662.8,467.8 663.7,468.2 664.7,468.5 665.7,468.7 666.6,468.8 667.6,468.9 668.6,468.9 669.5,469.0 670.5,469.0 671.4,469.0 672.4,469.0 673.4,469.0 674.3,469.0 675.3,469.0 676.3,469.0 677.2,469.0 678.2,469.0 679.1,469.0 680.1,469.0 681.1,469.0 682.0,469.0 683.0,469.0 683.9,469.0 684.9,469.0 685.9,469.0 686.8,469.0 687.8,469.0 688.8,469.0 689.7,469.0 690.7,469.0 691.6,469.0 692.6,469.0 693.6,469.0 694.5,469.0 695.5,469.0 696.5,469.0 697.4,469.0 698.4,469.0 699.3,469.0 700.3,469.0 701.3,469.0 702.2,469.0 703.2,469.0 704.1,469.0 705.1,469.0 706.1,469.0 707.0,469.0 708.0,469.0 709.0,469.0 709.9,469.0 710.9,469.0 711.8,469.0 712.8,469.0 713.8,469.0 714.7,469.0 715.7,469.0 716.7,469.0 717.6,469.0 718.6,469.0 719.5,469.0 720.5,469.0 721.5,469.0 722.4,469.0 723.4,469.0 724.4,469.0 725.3,469.0 726.3,469.0 727.2,469.0 728.2,469.0" fill="none" stroke="#1f8f1f" stroke-width="0.75" stroke-opacity="0.8"/>
<path d="M546.3,465.0 548.1,462.7 549.9,460.3 551.8,460.5 554.2,460.8 556.0,460.8 557.0,460.7 557.9,460.6 558.9,460.6 559.8,460.5 560.8,460.4 561.8,460.3 562.7,460.2 563.7,460.2 564.7,460.1 565.6,460.0 566.6,459.9 567.5,459.9 568.5,459.8 569.5,459.7 570.4,459.6 571.4,459.6 572.4,459.5 573.3,459.4 574.3,459.4 575.2,459.3 576.2,459.2 577.2,459.2 578.1,459.1 579.1,459.0 580.1,458.9 581.0,458.9 582.0,458.8 582.9,458.7 583.9,458.7 584.9,458.6 585.8,458.6 586.8,458.5 587.7,458.4 588.7,458.4 589.7,458.3 590.6,458.3 591.6,458.2 592.6,458.1 593.5,458.1 594.5,458.0 595.4,458.0 596.4,457.9 597.4,457.9 598.3,457.8 599.3,457.8 600.3,457.7 601.2,457.7 602.2,457.6 603.1,457.6 604.1,457.5 605.1,457.5 606.0,457.4 607.0,457.4 607.9,457.3 608.9,457.3 609.9,457.2 610.8,457.1 611.8,457.1 612.8,457.0 613.7,456.9 614.7,456.8 615.6,456.6 616.6,456.4 617.6,456.1 618.5,455.8 619.5,455.4 620.5,454.8 621.4,454.1 622.4,453.3 623.3,452.2 624.3,450.9 625.3,449.3 626.2,447.3 627.2,445.1 628.2,442.4 629.1,439.4 630.1,436.0 631.0,432.2 632.0,428.1 633.0,423.7 633.9,419.1 634.9,414.3 635.8,409.6 636.8,405.0 637.8,400.6 638.7,396.7 639.7,393.3 640.7,390.6 641.6,388.6 642.6,387.5 643.5,387.3 644.5,388.1 645.5,390.5 646.4,394.7 647.4,400.3 648.4,406.9 649.3,414.3 650.3,421.9 651.2,429.5 652.2,436.6 653.2,443.1 654.1,448.8 655.1,453.6 656.0,457.6 657.0,460.7 658.0,463.1 658.9,464.9 659.9,466.2 660.9,467.2 661.8,467.8 662.8,468.2 663.7,468.5 664.7,468.7 665.7,468.8 666.6,468.9 667.6,468.9 668.6,469.0 669.5,469.0 670.5,469.0 671.4,469.0 672.4,469.0 673.4,469.0 674.3,469.0 675.3,469.0 676.3,469.0 677.2,469.0 678.2,469.0 679.1,469.0 680.1,469.0 681.1,469.0 682.0,469.0 683.0,469.0 683.9,469.0 684.9,469.0 685.9,469.0 686.8,469.0 687.8,469.0 688.8,469.0 689.7,469.0 690.7,469.0 691.6,469.0 692.6,469.0 693.6,469.0 694.5,469.0 695.5,469.0 696.5,469.0 697.4,469.0 698.4,469.0 699.3,469.0 700.3,469.0 701.3,469.0 702.2,469.0 703.2,469.0 704.1,469.0 705.1,469.0 706.1,469.0 707.0,469.0 708.0,469.0 709.0,469.0 709.9,469.0 710.9,469.0 711.8,469.0 712.8,469.0 713.8,469.0 714.7,469.0 715.7,469.0 716.7,469.0 717.6,469.0 718.6,469.0 719.5,469.0 720.5,469.0 721.5,469.0 722.4,469.0 723.4,469.0 724.4,469.0 725.3,469.0 726.3,469.0 727.2,469.0 728.2,469.0" fill="none" stroke="#1f8f1f" stroke-width="0.75" stroke-opacity="0.8"/>
<path d="M546.3,465.0 548.1,462.7 549.9,461.2 551.8,461.5 554.2,461.8 556.0,461.7 557.0,461.7 557.9,461.6 558.9,461.5 559.8,461.4 560.8,461.4 561.8,461.3 562.7,461.2 563.7,461.1 564.7,461.1 565.6,461.0 566.6,460.9 567.5,460.8 568.5,460.8 569.5,460.7 570.4,460.6 571.4,460.5 572.4,460.5 573.3,460.4 574.3,460.3 575.2,460.3 576.2,460.2 577.2,460.1 578.1,460.0 579.1,460.0 580.1,459.9 581.0,459.8 582.0,459.8 582.9,459.7 583.9,459.6 584.9,459.6 585.8,459.5 586.8,459.5 587.7,459.4 588.7,459.3 589.7,459.3 590.6,459.2 591.6,459.2 592.6,459.1 593.5,459.0 594.5,459.0 595.4,458.9 596.4,458.9 597.4,458.8 598.3,458.8 599.3,458.7 600.3,458.7 601.2,458.6 602.2,458.6 603.1,458.5 604.1,458.5 605.1,458.4 606.0,458.4 607.0,458.3 607.9,458.3 608.9,458.2 609.9,458.2 610.8,458.1 611.8,458.1 612.8,458.0 613.7,457.9 614.7,457.8 615.6,457.7 616.6,457.5 617.6,457.3 618.5,457.0 619.5,456.6 620.5,456.2 621.4,455.6 622.4,454.8 623.3,453.9 624.3,452.7 625.3,451.3 626.2,449.6 627.2,447.6 628.2,445.1 629.1,442.4 630.1,439.2 631.0,435.6 632.0,431.6 633.0,427.3 633.9,422.8 634.9,418.0 635.8,413.2 636.8,408.3 637.8,403.6 638.7,399.2 639.7,395.3 640.7,391.9 641.6,389.3 642.6,387.4 643.5,386.4 644.5,386.4 645.5,387.4 646.4,390.3 647.4,394.8 648.4,400.8 649.3,407.7 650.3,415.3 651.2,423.1 652.2,430.6 653.2,437.8 654.1,444.2 655.1,449.7 656.0,454.4 657.0,458.2 658.0,461.2 658.9,463.5 659.9,465.2 660.9,466.5 661.8,467.3 662.8,467.9 663.7,468.3 664.7,468.6 665.7,468.7 666.6,468.8 667.6,468.9 668.6,468.9 669.5,469.0 670.5,469.0 671.4,469.0 672.4,469.0 673.4,469.0 674.3,469.0 675.3,469.0 676.3,469.0 677.2,469.0 678.2,469.0 679.1,469.0 680.1,469.0 681.1,469.0 682.0,469.0 683.0,469.0 683.9,469.0 684.9,469.0 685.9,469.0 686.8,469.0 687.8,469.0 688.8,469.0 689.7,469.0 690.7,469.0 691.6,469.0 692.6,469.0 693.6,469.0 694.5,469.0 695.5,469.0 696.5,469.0 697.4,469.0 698.4,469.0 699.3,469.0 700.3,469.0 701.3,469.0 702.2,469.0 703.2,469.0 704.1,469.0 705.1,469.0 706.1,469.0 707.0,469.0 708.0,469.0 709.0,469.0 709.9,469.0 710.9,469.0 711.8,469.0 712.8,469.0 713.8,469.0 714.7,469.0 715.7,469.0 716.7,469.0 717.6,469.0 718.6,469.0 719.5,469.0 720.5,469.0 721.5,469.0 722.4,469.0 723.4,469.0 724.4,469.0 725.3,469.0 726.3,469.0 727.2,469.0 728.2,469.0" fill="none" stroke="#1f8f1f" stroke-width="0.75" stroke-opacity="0.8"/>
<path d="M546.3,465.0 548.1,462.7 549.9,460.0 551.8,460.2 554.2,460.5 556.0,460.5 557.0,460.4 557.9,460.3 558.9,460.2 559.8,460.2 560.8,460.1 561.8,460.0 562.7,459.9 563.7,459.9 564.7,459.8 565.6,459.7 566.6,459.6 567.5,459.5 568.5,459.5 569.5,459.4 570.4,459.3 571.4,459.3 572.4,459.2 573.3,459.1 574.3,459.0 575.2,459.0 576.2,458.9 577.2,458.8 578.1,458.8 579.1,458.7 580.1,458.6 581.0,458.6 582.0,458.5 582.9,458.4 583.9,458.4 584.9,458.3 585.8,458.2 586.8,458.2 587.7,458.1 588.7,458.0 589.7,458.0 590.6,457.9 591.6,457.9 592.6,457.8 593.5,457.8 594.5,457.7 595.4,457.6 596.4,457.6 597.4,457.5 598.3,457.5 599.3,457.4 600.3,457.4 601.2,457.3 602.2,457.3 603.1,457.2 604.1,457.2 605.1,457.1 606.0,457.1 607.0,457.0 607.9,457.0 608.9,456.9 609.9,456.9 610.8,456.8 611.8,456.7 612.8,456.6 613.7,456.5 614.7,456.4 615.6,456.2 616.6,456.0 617.6,455.7 618.5,455.3 619.5,454.8 620.5,454.2 621.4,453.4 622.4,452.5 623.3,451.3 624.3,449.8 625.3,448.0 626.2,445.9 627.2,443.5 628.2,440.6 629.1,437.3 630.1,433.7 631.0,429.7 632.0,425.3 633.0,420.7 633.9,415.9 634.9,411.1 635.8,406.2 636.8,401.6 637.8,397.3 638.7,393.4 639.7,390.2 640.7,387.7 641.6,386.0 642.6,385.2 643.5,385.4 644.5,386.7 645.5,389.9 646.4,394.8 647.4,401.0 648.4,408.1 649.3,415.8 650.3,423.7 651.2,431.3 652.2,438.4 653.2,444.7 654.1,450.2 655.1,454.8 656.0,458.6 657.0,461.5 658.0,463.7 658.9,465.4 659.9,466.6 660.9,467.4 661.8,468.0 662.8,468.4 663.7,468.6 664.7,468.8 665.7,468.9 666.6,468.9 667.6,468.9 668.6,469.0 669.5,469.0 670.5,469.0 671.4,469.0 672.4,469.0 673.4,469.0 674.3,469.0 675.3,469.0 676.3,469.0 677.2,469.0 678.2,469.0 679.1,469.0 680.1,469.0 681.1,469.0 682.0,469.0 683.0,469.0 683.9,469.0 684.9,469.0 685.9,469.0 686.8,469.0 687.8,469.0 688.8,469.0 689.7,469.0 690.7,469.0 691.6,469.0 692.6,469.0 693.6,469.0 694.5,469.0 695.5,469.0 696.5,469.0 697.4,469.0 698.4,469.0 699.3,469.0 700.3,469.0 701.3,469.0 702.2,469.0 703.2,469.0 704.1,469.0 705.1,469.0 706.1,469.0 707.0,469.0 708.0,469.0 709.0,469.0 709.9,469.0 710.9,469.0 711.8,469.0 712.8,469.0 713.8,469.0 714.7,469.0 715.7,469.0 716.7,469.0 717.6,469.0 718.6,469.0 719.5,469.0 720.5,469.0 721.5,469.0 722.4,469.0 723.4,469.0 724.4,469.0 725.3,469.0 726.3,469.0 727.2,469.0 728.2,469.0" fill="none" stroke="#1f8f1f" stroke-width="0.75" stroke-opacity="0.8"/>
<path d="M546.3,465.0 548.1,462.7 549.9,460.9 551.8,461.2 554.2,461.5 556.0,461.4 557.0,461.3 557.9,461.3 558.9,461.2 559.8,461.1 560.8,461.0 561.8,461.0 562.7,460.9 563.7,460.8 564.7,460.7 565.6,460.7 566.6,460.6 567.5,460.5 568.5,460.4 569.5,460.4 570.4,460.3 571.4,460.2 572.4,460.1 573.3,460.1 574.3,460.0 575.2,459.9 576.2,459.9 577.2,459.8 578.1,459.7 579.1,459.7 580.1,459.6 581.0,459.5 582.0,459.5 582.9,459.4 583.9,459.3 584.9,459.3 585.8,459.2 586.8,459.1 587.7,459.1 588.7,459.0 589.7,459.0 590.6,458.9 591.6,458.8 592.6,458.8 593.5,458.7 594.5,458.7 595.4,458.6 596.4,458.6 597.4,458.5 598.3,458.5 599.3,458.4 600.3,458.3 601.2,458.3 602.2,458.2 603.1,458.2 604.1,458.2 605.1,458.1 606.0,458.1 607.0,458.0 607.9,458.0 608.9,457.9 609.9,457.8 610.8,457.8 611.8,457.7 612.8,457.6 613.7,457.5 614.7,457.4 615.6,457.3 616.6,457.1 617.6,456.9 618.5,456.5 619.5,456.1 620.5,455.6 621.4,455.0 622.4,454.1 623.3,453.1 624.3,451.8 625.3,450.2 626.2,448.3 627.2,446.1 628.2,443.5 629.1,440.5 630.1,437.0 631.0,433.2 632.0,429.0 633.0,424.5 633.9,419.7 634.9,414.8 635.8,409.8 636.8,404.9 637.8,400.2 638.7,395.9 639.7,392.0 640.7,388.8 641.6,386.4 642.6,384.8 643.5,384.2 644.5,384.5 645.5,386.2 646.4,389.8 647.4,395.1 648.4,401.6 649.3,409.0 650.3,416.9 651.2,424.9 652.2,432.5 653.2,439.5 654.1,445.8 655.1,451.2 656.0,455.6 657.0,459.2 658.0,462.0 658.9,464.1 659.9,465.7 660.9,466.8 661.8,467.5 662.8,468.1 663.7,468.4 664.7,468.6 665.7,468.8 666.6,468.9 667.6,468.9 668.6,469.0 669.5,469.0 670.5,469.0 671.4,469.0 672.4,469.0 673.4,469.0 674.3,469.0 675.3,469.0 676.3,469.0 677.2,469.0 678.2,469.0 679.1,469.0 680.1,469.0 681.1,469.0 682.0,469.0 683.0,469.0 683.9,469.0 684.9,469.0 685.9,469.0 686.8,469.0 687.8,469.0 688.8,469.0 689.7,469.0 690.7,469.0 691.6,469.0 692.6,469.0 693.6,469.0 694.5,469.0 695.5,469.0 696.5,469.0 697.4,469.0 698.4,469.0 699.3,469.0 700.3,469.0 701.3,469.0 702.2,469.0 703.2,469.0 704.1,469.0 705.1,469.0 706.1,469.0 707.0,469.0 708.0,469.0 709.0,469.0 709.9,469.0 710.9,469.0 711.8,469.0 712.8,469.0 713.8,469.0 714.7,469.0 715.7,469.0 716.7,469.0 717.6,469.0 718.6,469.0 719.5,469.0 720.5,469.0 721.5,469.0 722.4,469.0 723.4,469.0 724.4,469.0 725.3,469.0 726.3,469.0 727.2,469.0 728.2,469.0" fill="none" stroke="#1f8f1f" stroke-width="0.75" stroke-opacity="0.8"/>
<path d="M546.3,465.0 548.1,462.7 549.9,459.7 551.8,459.9 554.2,460.2 556.0,460.2 557.0,460.1 557.9,460.0 558.9,459.9 559.8,459.8 560.8,459.8 561.8,459.7 562.7,459.6 563.7,459.5 564.7,459.5 565.6,459.4 566.6,459.3 567.5,459.2 568.5,459.2 569.5,459.1 570.4,459.0 571.4,459.0 572.4,458.9 573.3,458.8 574.3,458.7 575.2,458.7 576.2,458.6 577.2,458.5 578.1,458.5 579.1,458.4 580.1,458.3 581.0,458.3 582.0,458.2 582.9,458.1 583.9,458.1 584.9,458.0 585.8,457.9 586.8,457.9 587.7,457.8 588.7,457.8 589.7,457.7 590.6,457.6 591.6,457.6 592.6,457.5 593.5,457.5 594.5,457.4 595.4,457.4 596.4,457.3 597.4,457.3 598.3,457.2 599.3,457.2 600.3,457.1 601.2,457.1 602.2,457.0 603.1,457.0 604.1,456.9 605.1,456.9 606.0,456.8 607.0,456.8 607.9,456.7 608.9,456.7 609.9,456.6 610.8,456.6 611.8,456.5 612.8,456.4 613.7,456.3 614.7,456.2 615.6,456.1 616.6,455.9 617.6,455.7 618.5,455.4 619.5,455.1 620.5,454.6 621.4,454.0 622.4,453.2 623.3,452.2 624.3,451.0 625.3,449.5 626.2,447.6 627.2,445.4 628.2,442.8 629.1,439.8 630.1,436.3 631.0,432.4 632.0,428.0 633.0,423.2 633.9,418.1 634.9,412.7 635.8,407.1 636.8,401.5 637.8,396.1 638.7,390.9 639.7,386.1 640.7,382.0 641.6,378.6 642.6,376.1 643.5,374.6 644.5,374.1 645.5,374.7 646.4,377.2 647.4,381.7 648.4,387.9 649.3,395.5 650.3,404.0 651.2,412.9 652.2,421.7 653.2,430.1 654.1,437.8 655.1,444.6 656.0,450.3 657.0,455.1 658.0,458.9 658.9,461.8 659.9,464.0 660.9,465.6 661.8,466.8 662.8,467.5 663.7,468.1 664.7,468.4 665.7,468.6 666.6,468.8 667.6,468.9 668.6,468.9 669.5,469.0 670.5,469.0 671.4,469.0 672.4,469.0 673.4,469.0 674.3,469.0 675.3,469.0 676.3,469.0 677.2,469.0 678.2,469.0 679.1,469.0 680.1,469.0 681.1,469.0 682.0,469.0 683.0,469.0 683.9,469.0 684.9,469.0 685.9,469.0 686.8,469.0 687.8,469.0 688.8,469.0 689.7,469.0 690.7,469.0 691.6,469.0 692.6,469.0 693.6,469.0 694.5,469.0 695.5,469.0 696.5,469.0 697.4,469.0 698.4,469.0 699.3,469.0 700.3,469.0 701.3,469.0 702.2,469.0 703.2,469.0 704.1,469.0 705.1,469.0 706.1,469.0 707.0,469.0 708.0,469.0 709.0,469.0 709.9,469.0 710.9,469.0 711.8,469.0 712.8,469.0 713.8,469.0 714.7,469.0 715.7,469.0 716.7,469.0 717.6,469.0 718.6,469.0 719.5,469.0 720.5,469.0 721.5,469.0 722.4,469.0 723.4,469.0 724.4,469.0 725.3,469.0 726.3,469.0 727.2,469.0 728.2,469.0" fill="none" stroke="#1f8f1f" stroke-width="0.75" stroke-opacity="0.8"/>
<path d="M546.3,465.0 548.1,462.7 549.9,460.6 551.8,460.8 554.2,461.2 556.0,461.1 557.0,461.0 557.9,460.9 558.9,460.9 559.8,460.8 560.8,460.7 561.8,460.6 562.7,460.6 563.7,460.5 564.7,460.4 565.6,460.3 566.6,460.3 567.5,460.2 568.5,460.1 569.5,460.0 570.4,460.0 571.4,459.9 572.4,459.8 573.3,459.7 574.3,459.7 575.2,459.6 576.2,459.5 577.2,459.5 578.1,459.4 579.1,459.3 580.1,459.3 581.0,459.2 582.0,459.1 582.9,459.1 583.9,459.0 584.9,458.9 585.8,458.9 586.8,458.8 587.7,458.7 588.7,458.7 589.7,458.6 590.6,458.6 591.6,458.5 592.6,458.5 593.5,458.4 594.5,458.3 595.4,458.3 596.4,458.2 597.4,458.2 598.3,458.1 599.3,458.1 600.3,458.0 601.2,458.0 602.2,457.9 603.1,457.9 604.1,457.8 605.1,457.8 606.0,457.7 607.0,457.7 607.9,457.6 608.9,457.6 609.9,457.5 610.8,457.5 611.8,457.4 612.8,457.3 613.7,457.2 614.7,457.1 615.6,457.0 616.6,456.8 617.6,456.6 618.5,456.3 619.5,455.9 620.5,455.4 621.4,454.8 622.4,454.1 623.3,453.1 624.3,452.0 625.3,450.6 626.2,448.9 627.2,446.9 628.2,444.6 629.1,442.0 630.1,439.0 631.0,435.7 632.0,432.2 633.0,428.4 633.9,424.4 634.9,420.3 635.8,416.2 636.8,412.2 637.8,408.5 638.7,405.1 639.7,402.2 640.7,399.9 641.6,398.3 642.6,397.4 643.5,397.4 644.5,398.1 645.5,400.3 646.4,404.0 647.4,408.9 648.4,414.8 649.3,421.2 650.3,427.9 651.2,434.5 652.2,440.8 653.2,446.4 654.1,451.4 655.1,455.6 656.0,459.0 657.0,461.8 658.0,463.9 658.9,465.4 659.9,466.6 660.9,467.4 661.8,468.0 662.8,468.3 663.7,468.6 664.7,468.7 665.7,468.8 666.6,468.9 667.6,468.9 668.6,469.0 669.5,469.0 670.5,469.0 671.4,469.0 672.4,469.0 673.4,469.0 674.3,469.0 675.3,469.0 676.3,469.0 677.2,469.0 678.2,469.0 679.1,469.0 680.1,469.0 681.1,469.0 682.0,469.0 683.0,469.0 683.9,469.0 684.9,469.0 685.9,469.0 686.8,469.0 687.8,469.0 688.8,469.0 689.7,469.0 690.7,469.0 691.6,469.0 692.6,469.0 693.6,469.0 694.5,469.0 695.5,469.0 696.5,469.0 697.4,469.0 698.4,469.0 699.3,469.0 700.3,469.0 701.3,469.0 702.2,469.0 703.2,469.0 704.1,469.0 705.1,469.0 706.1,469.0 707.0,469.0 708.0,469.0 709.0,469.0 709.9,469.0 710.9,469.0 711.8,469.0 712.8,469.0 713.8,469.0 714.7,469.0 715.7,469.0 716.7,469.0 717.6,469.0 718.6,469.0 719.5,469.0 720.5,469.0 721.5,469.0 722.4,469.0 723.4,469.0 724.4,469.0 725.3,469.0 726.3,469.0 727.2,469.0 728.2,469.0" fill="none" stroke="#1f8f1f" stroke-width="0.75" stroke-opacity="0.8"/>
<path d="M546.3,465.0 548.1,462.7 549.9,459.3 551.8,459.6 554.2,459.9 556.0,459.8 557.0,459.8 557.9,459.7 558.9,459.6 559.8,459.5 560.8,459.5 561.8,459.4 562.7,459.3 563.7,459.2 564.7,459.1 565.6,459.1 566.6,459.0 567.5,458.9 568.5,458.9 569.5,458.8 570.4,458.7 571.4,458.6 572.4,458.6 573.3,458.5 574.3,458.4 575.2,458.3 576.2,458.3 577.2,458.2 578.1,458.1 579.1,458.1 580.1,458.0 581.0,457.9 582.0,457.9 582.9,457.8 583.9,457.7 584.9,457.7 585.8,457.6 586.8,457.6 587.7,457.5 588.7,457.4 589.7,457.4 590.6,457.3 591.6,457.3 592.6,457.2 593.5,457.1 594.5,457.1 595.4,457.0 596.4,457.0 597.4,456.9 598.3,456.9 599.3,456.8 600.3,456.8 601.2,456.7 602.2,456.7 603.1,456.6 604.1,456.6 605.1,456.5 606.0,456.5 607.0,456.4 607.9,456.4 608.9,456.3 609.9,456.3 610.8,456.2 611.8,456.2 612.8,456.1 613.7,456.0 614.7,455.9 615.6,455.8 616.6,455.6 617.6,455.4 618.5,455.2 619.5,454.9 620.5,454.4 621.4,453.9 622.4,453.2 623.3,452.4 624.3,451.3 625.3,450.0 626.2,448.5 627.2,446.6 628.2,444.5 629.1,441.9 630.1,439.1 631.0,435.8 632.0,432.3 633.0,428.4 633.9,424.3 634.9,420.0 635.8,415.7 636.8,411.4 637.8,407.2 638.7,403.3 639.7,399.9 640.7,397.0 641.6,394.7 642.6,393.2 643.5,392.5 644.5,392.7 645.5,393.8 646.4,396.6 647.4,400.9 648.4,406.4 649.3,412.9 650.3,419.8 651.2,427.0 652.2,433.9 653.2,440.5 654.1,446.3 655.1,451.4 656.0,455.7 657.0,459.1 658.0,461.9 658.9,464.0 659.9,465.5 660.9,466.7 661.8,467.5 662.8,468.0 663.7,468.4 664.7,468.6 665.7,468.8 666.6,468.9 667.6,468.9 668.6,468.9 669.5,469.0 670.5,469.0 671.4,469.0 672.4,469.0 673.4,469.0 674.3,469.0 675.3,469.0 676.3,469.0 677.2,469.0 678.2,469.0 679.1,469.0 680.1,469.0 681.1,469.0 682.0,469.0 683.0,469.0 683.9,469.0 684.9,469.0 685.9,469.0 686.8,469.0 687.8,469.0 688.8,469.0 689.7,469.0 690.7,469.0 691.6,469.0 692.6,469.0 693.6,469.0 694.5,469.0 695.5,469.0 696.5,469.0 697.4,469.0 698.4,469.0 699.3,469.0 700.3,469.0 701.3,469.0 702.2,469.0 703.2,469.0 704.1,469.0 705.1,469.0 706.1,469.0 707.0,469.0 708.0,469.0 709.0,469.0 709.9,469.0 710.9,469.0 711.8,469.0 712.8,469.0 713.8,469.0 714.7,469.0 715.7,469.0 716.7,469.0 717.6,469.0 718.6,469.0 719.5,469.0 720.5,469.0 721.5,469.0 722.4,469.0 723.4,469.0 724.4,469.0 725.3,469.0 726.3,469.0 727.2,469.0 728.2,469.0" fill="none" stroke="#1f8f1f" stroke-width="0.75" stroke-opacity="0.8"/>
<path d="M546.3,465.0 548.1,462.7 549.9,460.3 551.8,460.5 554.2,460.8 556.0,460.8 557.0,460.7 557.9,460.6 558.9,460.6 559.8,460.5 560.8,460.4 561.8,460.3 562.7,460.2 563.7,460.2 564.7,460.1 565.6,460.0 566.6,459.9 567.5,459.9 568.5,459.8 569.5,459.7 570.4,459.6 571.4,459.6 572.4,459.5 573.3,459.4 574.3,459.4 575.2,459.3 576.2,459.2 577.2,459.1 578.1,459.1 579.1,459.0 580.1,458.9 581.0,458.9 582.0,458.8 582.9,458.7 583.9,458.7 584.9,458.6 585.8,458.5 586.8,458.5 587.7,458.4 588.7,458.4 589.7,458.3 590.6,458.2 591.6,458.2 592.6,458.1 593.5,458.1 594.5,458.0 595.4,458.0 596.4,457.9 597.4,457.9 598.3,457.8 599.3,457.7 600.3,457.7 601.2,457.6 602.2,457.6 603.1,457.5 604.1,457.5 605.1,457.4 606.0,457.4 607.0,457.3 607.9,457.3 608.9,457.2 609.9,457.2 610.8,457.1 611.8,457.1 612.8,457.0 613.7,456.9 614.7,456.8 615.6,456.6 616.6,456.4 617.6,456.2 618.5,455.9 619.5,455.5 620.5,455.0 621.4,454.4 622.4,453.6 623.3,452.6 624.3,451.4 625.3,450.0 626.2,448.3 627.2,446.3 628.2,444.0 629.1,441.4 630.1,438.5 631.0,435.3 632.0,431.8 633.0,428.1 633.9,424.3 634.9,420.4 635.8,416.6 636.8,412.9 637.8,409.5 638.7,406.5 639.7,404.0 640.7,402.1 641.6,400.9 642.6,400.4 643.5,400.7 644.5,401.9 645.5,404.6 646.4,408.6 647.4,413.8 648.4,419.6 649.3,425.9 650.3,432.3 651.2,438.5 652.2,444.2 653.2,449.4 654.1,453.8 655.1,457.5 656.0,460.6 657.0,462.9 658.0,464.7 658.9,466.1 659.9,467.0 660.9,467.7 661.8,468.2 662.8,468.5 663.7,468.7 664.7,468.8 665.7,468.9 666.6,468.9 667.6,469.0 668.6,469.0 669.5,469.0 670.5,469.0 671.4,469.0 672.4,469.0 673.4,469.0 674.3,469.0 675.3,469.0 676.3,469.0 677.2,469.0 678.2,469.0 679.1,469.0 680.1,469.0 681.1,469.0 682.0,469.0 683.0,469.0 683.9,469.0 684.9,469.0 685.9,469.0 686.8,469.0 687.8,469.0 688.8,469.0 689.7,469.0 690.7,469.0 691.6,469.0 692.6,469.0 693.6,469.0 694.5,469.0 695.5,469.0 696.5,469.0 697.4,469.0 698.4,469.0 699.3,469.0 700.3,469.0 701.3,469.0 702.2,469.0 703.2,469.0 704.1,469.0 705.1,469.0 706.1,469.0 707.0,469.0 708.0,469.0 709.0,469.0 709.9,469.0 710.9,469.0 711.8,469.0 712.8,469.0 713.8,469.0 714.7,469.0 715.7,469.0 716.7,469.0 717.6,469.0 718.6,469.0 719.5,469.0 720.5,469.0 721.5,469.0 722.4,469.0 723.4,469.0 724.4,469.0 725.3,469.0 726.3,469.0 727.2,469.0 728.2,469.0" fill="none" stroke="#1f8f1f" stroke-width="0.75" stroke-opacity="0.8"/>
<path d="M546.3,465.0 548.1,462.7 549.9,461.2 551.8,461.5 554.2,461.8 556.0,461.7 557.0,461.7 557.9,461.6 558.9,461.5 559.8,461.4 560.8,461.4 561.8,461.3 562.7,461.2 563.7,461.1 564.7,461.0 565.6,461.0 566.6,460.9 567.5,460.8 568.5,460.7 569.5,460.7 570.4,460.6 571.4,460.5 572.4,460.5 573.3,460.4 574.3,460.3 575.2,460.2 576.2,460.2 577.2,460.1 578.1,460.0 579.1,460.0 580.1,459.9 581.0,459.8 582.0,459.8 582.9,459.7 583.9,459.6 584.9,459.6 585.8,459.5 586.8,459.5 587.7,459.4 588.7,459.3 589.7,459.3 590.6,459.2 591.6,459.2 592.6,459.1 593.5,459.0 594.5,459.0 595.4,458.9 596.4,458.9 597.4,458.8 598.3,458.8 599.3,458.7 600.3,458.7 601.2,458.6 602.2,458.6 603.1,458.5 604.1,458.5 605.1,458.4 606.0,458.4 607.0,458.3 607.9,458.3 608.9,458.2 609.9,458.2 610.8,458.1 611.8,458.1 612.8,458.0 613.7,457.9 614.7,457.8 615.6,457.7 616.6,457.5 617.6,457.3 618.5,457.1 619.5,456.8 620.5,456.4 621.4,455.9 622.4,455.2 623.3,454.5 624.3,453.5 625.3,452.3 626.2,450.9 627.2,449.2 628.2,447.2 629.1,444.9 630.1,442.4 631.0,439.5 632.0,436.4 633.0,433.0 633.9,429.4 634.9,425.7 635.8,422.0 636.8,418.4 637.8,414.9 638.7,411.7 639.7,408.9 640.7,406.6 641.6,405.0 642.6,403.9 643.5,403.6 644.5,404.0 645.5,405.5 646.4,408.4 647.4,412.5 648.4,417.6 649.3,423.3 650.3,429.3 651.2,435.4 652.2,441.2 653.2,446.6 654.1,451.4 655.1,455.4 656.0,458.8 657.0,461.5 658.0,463.7 658.9,465.3 659.9,466.4 660.9,467.3 661.8,467.9 662.8,468.3 663.7,468.5 664.7,468.7 665.7,468.8 666.6,468.9 667.6,468.9 668.6,469.0 669.5,469.0 670.5,469.0 671.4,469.0 672.4,469.0 673.4,469.0 674.3,469.0 675.3,469.0 676.3,469.0 677.2,469.0 678.2,469.0 679.1,469.0 680.1,469.0 681.1,469.0 682.0,469.0 683.0,469.0 683.9,469.0 684.9,469.0 685.9,469.0 686.8,469.0 687.8,469.0 688.8,469.0 689.7,469.0 690.7,469.0 691.6,469.0 692.6,469.0 693.6,469.0 694.5,469.0 695.5,469.0 696.5,469.0 697.4,469.0 698.4,469.0 699.3,469.0 700.3,469.0 701.3,469.0 702.2,469.0 703.2,469.0 704.1,469.0 705.1,469.0 706.1,469.0 707.0,469.0 708.0,469.0 709.0,469.0 709.9,469.0 710.9,469.0 711.8,469.0 712.8,469.0 713.8,469.0 714.7,469.0 715.7,469.0 716.7,469.0 717.6,469.0 718.6,469.0 719.5,469.0 720.5,469.0 721.5,469.0 722.4,469.0 723.4,469.0 724.4,469.0 725.3,469.0 726.3,469.0 727.2,469.0 728.2,469.0" fill="none" stroke="#1f8f1f" stroke-width="0.75" stroke-opacity="0.8"/>
</svg></body></html>
